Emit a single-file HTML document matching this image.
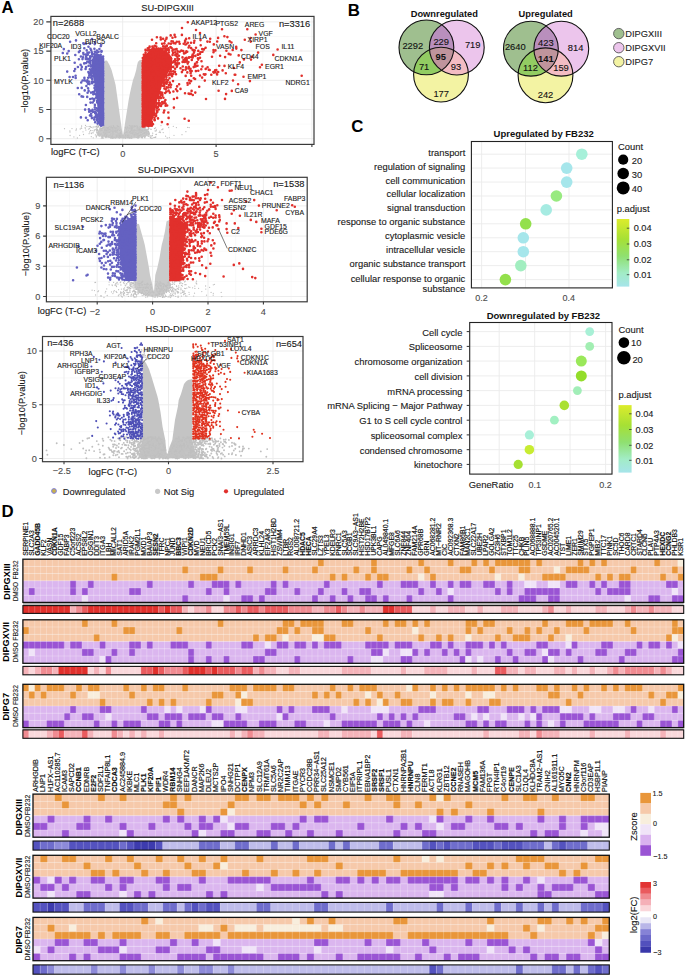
<!DOCTYPE html><html><head><meta charset="utf-8"><style>html,body{margin:0;padding:0;background:#fff;overflow:hidden}svg{display:block;font-family:"Liberation Sans",sans-serif}</style></head><body>
<svg width="685" height="975" viewBox="0 0 685 975" font-family="Liberation Sans, sans-serif" fill="#1a1a1a">
<rect width="685" height="975" fill="#fff"/>
<text x="1.6" y="13.1" font-size="16.8" font-weight="bold" fill="#000">A</text>
<path d="M76 16.4V144.4M169.4 16.4V144.4M262.8 16.4V144.4M50.9 124.1H314M50.9 94.9H314M50.9 65.7H314M50.9 36.5H314" stroke="#f2f2f2" stroke-width="0.5" fill="none"/>
<path d="M122.7 16.4V144.4M216.1 16.4V144.4M311.9 16.4V144.4M50.9 138.7H314M50.9 109.5H314M50.9 80.3H314M50.9 51.1H314M50.9 21.9H314" stroke="#ebebeb" stroke-width="0.9" fill="none"/>
<path d="M104.3 61.5L105.5 60.6L106.5 60.6L107.3 61L109.5 65L111.6 70L113.5 77L114.3 80L115.6 85L117 95L118 102L119.1 110L120.5 120L122 130L122.8 134.5L123.2 134.5L124 130L125.5 120L127.1 110L128.5 101L130 93L131.8 85L133 80L134.5 76L136.2 70L137 65.5L137.9 62L139.5 60.3L140.8 60L141.6 60.5L141.6 125L144 127L147.5 130L150 133L149 135.5L143 137.2L134 138.2L123 138.6L112 138.2L103 137.2L97 135.5L96.5 133L99 130L102.5 127L104.3 125Z" fill="#cacaca"/>
<path d="M106.7 127.4h0M70 132h0M120.6 136.1h0M155.9 131h0M142.8 131.3h0M141.3 132.2h0M83 131.8h0M144 132.9h0M101.3 130.4h0M137.8 136.8h0M111.5 136.8h0M98.3 125.6h0M113 132.7h0M116.1 130.6h0M149.5 126.3h0M76 130.2h0M96.8 129.9h0M126.3 131.7h0M176.4 127.6h0M137 125.8h0M98 130.2h0M107.5 128.4h0M133.4 130.1h0M112.3 128.3h0M152.1 135.7h0M137.7 127.2h0M102.4 128.6h0M97.8 130.9h0M142.5 137.1h0M134.2 125.7h0M138.8 129.7h0M138.7 135.5h0M139.3 128.7h0M146.5 132h0M128 137.6h0M139.2 137.6h0M72 128.6h0M129.2 138.2h0M108.8 128h0M148.1 132.1h0M76.5 128.9h0M120.3 137.2h0M140.7 134.5h0M108.8 132.6h0M99 127.2h0M94.9 126.9h0M104.1 135.2h0M131 127.8h0M64.5 128.7h0M163.2 132.6h0M127.5 137.5h0M117.8 129.9h0M97.3 127.6h0M100.9 128.6h0M125.4 127.5h0M137.5 128.6h0M104.7 130.1h0M114.7 131.6h0M89.7 132h0M98.5 126.6h0M131.6 136.2h0M156.2 134.4h0M129.5 125.5h0M96.8 126.5h0M128.1 134.3h0M147.1 133.7h0M104 132.8h0M133.3 131.4h0M125.3 136h0M185.9 131.7h0M103.7 127.3h0M105.6 136.3h0M165.6 136.2h0M102 130.3h0M132.5 127.9h0M137.8 134.7h0M150.9 129.2h0M109.4 129.3h0M103.5 132.6h0M85.1 127.6h0M81.3 128h0M109.2 126.7h0M134.3 130.3h0M96.3 130.6h0M96.3 126.9h0M134.1 134.2h0M125.1 132.6h0M151.1 129.4h0M142.4 130.5h0M144.9 125.6h0M125.6 137.8h0M104.4 125.8h0M155.1 130.9h0M154.1 137.3h0M102.7 137.7h0M153.8 137.6h0M116.3 128.2h0M81.6 126.2h0M116.3 137h0M107.4 127.9h0M114.2 130.3h0M110.5 137.7h0M174 135.3h0M108.8 129h0M105.7 129h0M127.6 137.7h0M115.3 128.7h0M130.1 137.4h0M106.1 130.1h0M96.1 126.3h0M138.3 129.7h0M159.9 131.2h0M119.5 133.4h0M140.2 130.3h0M89.5 128.7h0M107 130.6h0M132 128.5h0M152.2 138.2h0M127.5 136h0M142.5 137.4h0M169.3 137.6h0M144.3 133.4h0M112.9 127.3h0M155.6 127.9h0M137.9 133.7h0M105.1 132.8h0M119.5 136.6h0M112.2 128h0M120.5 136h0M113.2 132h0M117.8 136.3h0M133.5 130.4h0M144.7 132.5h0M104.3 130.9h0M120.8 133.9h0M129.6 128.5h0M127.3 126.9h0M132.4 126h0M132.6 126.2h0M114.1 137.7h0M129.9 137.7h0M131.8 129.6h0M155.8 137h0M138.6 132.9h0M116.4 135.7h0M142.9 134h0M147 131h0M152.1 125.8h0M111 126.9h0M139.6 130h0M123.2 137.5h0M96.3 137.1h0M135.4 130.7h0M70.1 135.5h0M138 137.5h0M150.5 135.9h0M104.7 129.3h0M126.2 135h0M93.2 126.8h0M98.7 132.6h0M150.6 137.9h0M107.3 128.6h0M91.3 133.5h0M187.7 127.4h0M81.6 125.9h0M112.2 136h0M90.4 126.9h0M147.3 125.9h0M122.2 135.4h0M159.2 132.4h0M85.5 125.5h0M167.2 138h0M129.7 131.8h0M101.2 128.2h0M130.8 126.9h0M117.4 130.6h0M73.9 136.9h0M131.2 130.4h0M110.1 129.7h0M141.9 127.1h0M107.1 132.2h0M107.3 127.9h0M89.1 133.7h0M90.5 130.5h0M117.1 135.6h0M131.1 133.6h0M141.2 135.1h0M105.2 133.5h0M119.9 135.5h0M148.9 128.7h0M124.8 133.5h0M155.2 137.4h0M152.3 135.5h0M129.6 138h0M137 127.6h0M141.3 132.4h0M132.7 133.7h0M134 130.8h0M111.1 126.2h0M117.2 125.7h0M120 134.4h0M93.2 137.8h0M126.6 129.3h0M97 131h0M95.8 129.4h0M121.1 133.7h0M112 137.4h0M149.4 125.7h0M135.2 135h0M129.8 131.9h0M126.6 132.7h0M112.5 131.6h0M120.3 132.6h0M102.4 136.1h0M131.5 129h0M107.7 129.6h0M142.9 133.6h0M137.3 126.1h0M125.2 135.3h0M97.6 129.4h0M105.9 131h0M141.4 137.3h0M118.9 126.8h0M91.3 127.4h0M95.4 134.9h0M148.7 134.6h0M161 125.6h0M151.8 136h0M104.9 134.8h0M112.7 132.9h0M112.1 133.8h0M119.7 130.4h0M145 129.5h0M101.1 125.5h0M120.3 133h0M126.2 128.1h0M143.3 127.9h0M139.9 130.7h0M113.6 126.9h0M109.6 132.1h0M129.1 132.8h0M97.1 126h0M86.9 126.6h0M138.9 136.6h0M144.5 130.6h0M116.3 131.2h0M151.2 138.1h0M97.5 127.1h0M85.3 128.6h0M148.7 131.3h0M81.7 128.3h0M160.5 132.6h0M108.2 127.6h0M105.9 137.1h0M101.5 128.8h0M112.3 138.2h0M102.5 138h0M92.1 132.8h0M89.1 126.5h0M146 131.8h0M108.3 136.3h0M130 125.7h0M127.8 136.7h0M133.2 127h0M130.3 132.1h0M136.2 125.8h0M92.9 127.8h0M96.6 136h0M134.2 134.5h0M182 134.7h0M100.6 127.1h0M115.6 130.9h0M134.5 130.6h0M108.2 131.1h0M120.3 133.6h0M135.3 126.4h0M131.7 125.8h0M98.7 134.2h0M136.8 137.3h0M96.6 132.2h0M126.4 132.3h0M118.1 129.2h0M137.6 133.3h0M104.8 128.6h0M132.7 130.4h0M101.3 138.1h0M168.6 127.5h0M115.5 131.1h0M110.6 134.1h0M127.6 135.5h0M130.7 137.8h0M119.7 135.5h0M145.8 130.4h0M125.2 134.8h0M115.9 132.6h0M106.4 135.6h0M130.9 131.2h0M104 127.4h0M106.7 136.3h0M140 131.9h0M133.4 132.1h0M115.8 130.1h0M110.5 137.6h0M134.5 126.8h0M117.3 132.7h0M109.4 132.3h0M131.7 127.9h0M149 133.2h0M118.8 135.6h0M98.7 133.8h0M134.1 136h0M173.3 126.3h0M110.8 127.7h0M110.1 131.3h0M128.8 135.6h0M85.9 130.1h0M117.6 126.3h0M88.4 129.1h0M83.5 134.5h0M99.2 136.2h0M123.2 136.2h0M114 137.8h0M112.8 128.7h0M91.3 136.7h0M132.8 132.4h0M140.3 129.5h0M106.3 134h0M139.6 130.1h0M103 126.3h0M80.2 129h0M118.9 133.9h0M96.3 136.3h0M148.8 127.8h0M156.4 130h0M116.3 135.1h0M120.5 137.4h0M121.1 132.1h0M79.6 135.3h0M137.4 137.9h0M137.1 128.7h0M111.4 130.8h0M104.9 127.2h0M154.5 128.5h0M133.1 131.2h0M110.5 129.3h0M125.6 135.3h0M90.5 126.3h0M112.1 127.7h0M139.8 126.9h0M96.7 128.6h0M102.9 127.9h0M107.1 127.9h0M106.2 130.2h0M113 136.1h0M123.2 137.9h0M101.1 134h0M120.1 129.8h0M139.7 130h0M146.1 129.3h0M113.3 132.9h0M135.1 132.7h0M137.6 126.9h0M93.3 132.8h0M132.8 133h0M118.3 126.4h0M116.1 127.7h0M139.7 135.4h0M113.4 125.7h0M120.8 136.9h0M109.1 135.3h0M137.7 135.8h0M142.2 127h0M138.5 129.2h0M114.6 127.3h0M136.3 134.3h0M127.7 127.5h0M116.3 136.7h0M141.6 130.5h0M99.6 129h0M98.2 132.8h0M139.4 135.4h0M112.1 129.1h0M104 135.3h0M132.2 133.6h0M138 130.7h0M108.5 129.6h0M128.4 130.2h0M94.4 130h0M104.6 134.8h0M142.5 126.5h0M142.1 138.1h0M100.1 128.8h0M92.1 130.6h0M145.2 136.6h0M150.3 137.3h0M107.1 135.1h0M117.9 134.2h0M69.9 130.8h0M148.4 129.8h0M144.5 128.8h0M161.9 129.7h0M136.3 133h0M152.7 133.2h0M152.4 135.4h0M189.2 127.6h0M130.9 133.6h0M118.6 137.3h0M148.5 128.4h0M98.2 131.1h0M103.2 138.2h0M140.6 127.5h0M129 136.9h0M141.9 136.8h0M77.4 138h0M94 131h0M131.1 126.9h0M130.5 137.3h0M162.9 129h0M98.5 126.4h0M132.2 130.7h0" stroke="#c0c0c0" stroke-width="1.3" stroke-linecap="round"/>
<path d="M115.4 127.6h0M135.7 133.4h0M138.3 138.1h0M140.2 131.8h0M119.3 138h0M117 131.9h0M116.4 130.1h0M112.7 134.5h0M112.1 138h0M142.2 136.7h0M131.5 138.2h0M134.1 135.5h0M139.9 131.8h0M132.9 134.8h0M134 133.4h0M132.9 130.4h0M123.1 135.3h0M126.9 136.3h0M102.1 136.4h0M134.8 136.4h0M148.2 136.3h0M100.8 130.2h0M115 136.2h0M123.5 136.1h0M100.5 134.8h0M126.4 130.1h0M113.8 131.6h0M104.1 133.7h0M102.5 135.3h0M112.7 130.1h0M104.1 132.1h0M133.3 131.5h0M121 131.5h0M110.7 131.9h0M146.8 131.3h0M130.5 137.5h0M136.6 131.1h0M142.9 131.6h0M124.8 137.2h0M122.4 136.6h0M123.2 137.1h0M136.9 135.5h0M143.8 135.8h0M105.4 128.3h0M129.5 128.1h0M139.8 132.7h0M138.4 132h0M100.2 131.1h0M108.4 130.9h0M119.4 128.1h0M108 129.7h0M127.6 131.5h0M128.9 128.1h0M127.3 131.9h0M112.6 130.5h0M110.4 135.2h0M131.4 132.4h0M121.1 137h0M120.4 134.4h0M102.6 137.5h0M146 132.9h0M137.2 130.7h0M104.5 128.6h0M144.9 137.8h0M136.1 130.3h0M138 129.2h0M138.7 128h0M110.6 130h0M112.3 133.6h0M117.4 127.9h0M134.9 129.9h0M120.1 134.8h0M110.4 131.3h0M124.8 137.5h0M123.9 136.8h0M127.9 128.5h0M109 137.1h0M105.9 137.5h0M131.9 137.9h0M156.1 134.6h0M113.3 132.4h0M142 129.4h0M110.9 128.2h0M131.7 132.5h0M125.9 128.6h0M99.2 133.7h0M116.2 134.7h0M101.9 137.7h0M100.4 128.5h0M98.2 132.9h0M98.2 132.6h0M127.5 133h0M103.8 131.9h0M125.1 137.1h0M129.9 134.9h0M142.5 129.2h0M110.4 137.1h0M130.5 130h0M144.9 135.2h0M107.2 134h0M122.3 137.4h0M137.5 129.1h0M99.8 129.6h0M113.2 138h0M145.4 132.7h0M144.5 137.3h0M134.5 129.6h0M149.2 136h0M140.2 131.3h0M146.2 133.9h0M110.9 137.9h0M145.1 130.2h0M106.2 129.6h0M106.6 132.8h0M138 135.2h0M144.9 136.1h0M113.8 133.9h0M145.5 127.5h0M119.3 134h0M113.5 129.8h0M149.1 134.2h0M120.9 134.6h0M98.4 134.9h0M147.6 129.5h0M117.6 132.9h0M125.5 138.2h0M148.1 129.3h0M121.8 136.2h0M114.7 128.6h0M134.2 131.6h0M137.4 137.3h0M115.5 138h0M121.3 135.6h0M141 135.6h0M112.8 129h0M130.4 128h0M142.3 134.4h0M143.4 130.6h0M119.4 138.1h0M146.3 134.8h0" stroke="#c4c4c4" stroke-width="1.5" stroke-linecap="round"/>
<path d="M104.3 125.8L104.3 58L101 55L97 53L94 54L92 60L91.5 70L94 81L96 92L97 103L98 114L99 125.8Z" fill="#6461c1"/>
<path d="M94.8 51.8h0M96.8 52.5h0M98.6 51.7h0M101.4 51.7h0M92.1 54h0M94.4 54.1h0M100.7 54.7h0M90.2 56.2h0M92.2 56.2h0M95.2 56h0M97.2 56.2h0M99 56.6h0M100.5 56.6h0M103.1 56.5h0M90.1 58.2h0M94.3 58.6h0M97 57.8h0M98.9 58.2h0M102.7 57.9h0M90.7 60.7h0M92.9 60h0M94.8 61.1h0M96.9 60.8h0M99.3 60.8h0M100.8 60.9h0M102.6 60.9h0M90.4 62.8h0M94.4 62.1h0M96.7 63h0M98.9 62.5h0M100.6 63h0M103.1 62.2h0M90.7 64.7h0M97.1 64.9h0M101.1 64.9h0M102.7 64.2h0M90.8 66.5h0M92.2 66.3h0M95.2 67.2h0M96.9 66.3h0M98.6 66.2h0M100.5 66.5h0M102.9 66.9h0M89.8 69.3h0M92.2 69.1h0M94.4 69h0M97.1 68.6h0M99.2 68.9h0M101.2 68.3h0M102.9 68.4h0M90.7 71.1h0M92.5 71.1h0M95 71.6h0M97.3 70.8h0M100.9 70.6h0M103.1 71.3h0M90.2 72.7h0M92.2 72.7h0M94.6 73h0M96.9 72.7h0M98.9 73.3h0M103.1 73.6h0M90.7 74.7h0M91.9 75.6h0M94.8 74.9h0M96.3 75.4h0M100.4 74.8h0M103.1 75.6h0M92 76.8h0M94.9 77.3h0M100.9 77.7h0M102.5 77.4h0M92.2 79.1h0M95.1 79.7h0M101.2 79.3h0M103.1 79h0M92.2 81.6h0M94 81.9h0M96.7 81h0M100.4 81.3h0M103.1 81.5h0M92.1 83.3h0M96.2 83.7h0M98.4 83.5h0M101.1 83.8h0M102.5 83.9h0M94.6 85.6h0M97 85.4h0M99 85.7h0M101.4 85.8h0M102.7 86.3h0M94.5 88.1h0M96.9 88.1h0M98.3 88.4h0M100.3 87.3h0M103.1 87.5h0M95.1 90.1h0M98.4 89.3h0M100.4 90.5h0M102.6 90.3h0M94.6 91.5h0M97.2 92.5h0M99.2 92.1h0M100.9 92.1h0M103.1 91.5h0M94.7 93.8h0M96.1 94.4h0M99.2 94.5h0M100.4 94.3h0M102.9 93.6h0M96.5 95.7h0M99.2 96.6h0M100.7 96h0M102.6 96.3h0M96.1 97.8h0M99 98.4h0M100.8 98.2h0M103.1 98.8h0M97.1 100.9h0M99.1 99.8h0M101.3 100.3h0M97.2 102.4h0M98.5 102.3h0M100.7 102h0M103.1 102.7h0M99.2 105.2h0M100.6 104.3h0M102.4 104.3h0M101.2 107h0M96.7 108.3h0M98.6 109h0M100.9 109.4h0M103 109h0M97.2 110.8h0M101.5 110.4h0M102.7 111.4h0M96.4 113.3h0M100.8 113.2h0M103.1 113.3h0M96.4 114.5h0M98.5 114.8h0M103.1 115.3h0M96.9 117h0M98.3 116.6h0M100.5 116.7h0M103.1 117.4h0M97 118.9h0M98.6 119.2h0M100.8 119.6h0M103.1 119.1h0M98.2 121.8h0M101.3 121.8h0M102.7 120.8h0M99.3 123.1h0M101 123.7h0M102.6 123h0M101.1 125.7h0M102.5 125h0" stroke="#6461c1" stroke-width="2.6" stroke-linecap="round"/>
<path d="M91.2 50.3h0M86.7 50.2h0M79.8 50.9h0M91.9 52.3h0M89.1 52.5h0M87.5 52.6h0M83.3 53h0M78.9 52.1h0M87.8 54.7h0M85.8 54.6h0M83.5 54.5h0M75.3 55h0M90.3 57.4h0M86.2 56.8h0M83.1 57.2h0M80.9 56.5h0M89.4 58.7h0M87.5 58.7h0M85.8 58.9h0M82.5 59.1h0M78.9 59.2h0M89.2 61.2h0M87.3 61.5h0M89.3 62.6h0M86.2 63h0M84.2 63.4h0M74.7 62.8h0M88.6 65.7h0M80.6 64.8h0M86.1 67.1h0M81.8 66.9h0M77.9 67h0M85.6 68.9h0M81.3 69.4h0M75.1 69h0M88.4 72h0M74.3 71h0M88.9 73.3h0M89.3 75.4h0M75.6 75.8h0M90.7 77.5h0M88.2 77.8h0M84.4 77.9h0M75.7 78h0M87.4 80.2h0M84.7 80.4h0M82.6 80.5h0M91.8 82.3h0M89.1 81.7h0M86.8 81.6h0M81.2 82.5h0M89.5 84.1h0M88 83.7h0M86.4 86h0M88.1 88.3h0M81.7 87.9h0M77.8 88h0M88.6 90.9h0M84.7 90.4h0M93.1 92h0M91 92.6h0M87.6 92.8h0M93.3 94.2h0M79.2 94.2h0M87.2 96.9h0M83.1 96.8h0M81.6 96.4h0M94.3 99.1h0M92.4 98.5h0M90.2 99h0M94 100.6h0M92.7 102.5h0M90.5 102.6h0M94.9 104.9h0M85.9 105h0M94.8 107.2h0M95.2 109.5h0M92.6 109.9h0M88.9 109.4h0M85.1 109.6h0M95 112h0M93.1 111.7h0M90.8 110.9h0M89.2 111.8h0M95.2 113.2h0M91.2 113.8h0M95.9 115.9h0M91.4 116.1h0M90 115.4h0M96.6 117.5h0M94.4 117.5h0M91.9 118.1h0M86 117.8h0M96.8 120.2h0M94.2 119.6h0M87.7 120.3h0M95.1 122.3h0M97.6 123.6h0" stroke="#6461c1" stroke-width="2.6" stroke-linecap="round"/>
<path d="M95.1 42.2h0M84 43.9h0M86.1 43.6h0M90 43.7h0M94.7 44.1h0M101.2 44.7h0M88.5 46.7h0M100.8 46.1h0M84.3 48.3h0M90.5 48.8h0M94.4 48.7h0M99.4 49h0M96.9 50.5h0M101.5 51.1h0" stroke="#6461c1" stroke-width="2.6" stroke-linecap="round"/>
<path d="M63.8 49.1h0M62.8 53h0M67.2 53.5h0M68.7 51.1h0M70.1 41.8h0M76 40.4h0M67.2 71.6h0M69.6 77h0M73 77h0M80.9 117.4h0M83.3 43.3h0M92 39h0" stroke="#6461c1" stroke-width="2.6" stroke-linecap="round"/>
<path d="M141.6 126.4L141.6 62L145 55L150 50L158 48L166 51L172 57L172 66L164 80L160 92L156 103L154 114L151 126.4Z" fill="#e1302c"/>
<path d="M149.6 46.6h0M152.4 46.5h0M154.7 45.7h0M156.3 46.6h0M163.1 46.2h0M164.9 46.5h0M166.9 45.8h0M147.8 48.2h0M149.5 47.6h0M152.4 48.5h0M153.9 48.2h0M156.4 48.7h0M158.5 48.5h0M160.8 48.5h0M163 48.7h0M165.2 48.1h0M166.3 48.6h0M168.5 48.2h0M171.6 48h0M145.5 49.9h0M147.8 50.4h0M149.6 50h0M151.7 50.1h0M153.8 50.3h0M156.9 50.3h0M160.1 50.4h0M162.2 49.8h0M165.3 50.2h0M166.7 50.1h0M168.8 49.9h0M172.5 50.7h0M145.6 52.6h0M149.9 52.2h0M152.3 52.7h0M156.1 52.8h0M158.5 52.6h0M161 52.5h0M162.2 51.9h0M166.2 52.2h0M168.9 52.2h0M173.1 52.9h0M175.2 52.2h0M143.8 54.8h0M145.6 54.4h0M148.4 54.5h0M149.8 54.9h0M152.3 53.9h0M153.7 54.9h0M156 54h0M158.7 54.8h0M165.2 54h0M168.5 54.8h0M172.6 54.9h0M175.3 55.1h0M176.8 54h0M143.9 56.8h0M145.4 56.2h0M148.1 57.2h0M150.6 56.5h0M151.8 56.3h0M158 56.2h0M160.3 56.9h0M162.6 56.8h0M164.6 56.9h0M166.7 57.1h0M168.7 56.5h0M176.9 56.2h0M142.8 58.1h0M144 58.7h0M146.2 58.6h0M148 59h0M150.6 59.2h0M154 58.6h0M156.8 59.1h0M158.8 59.3h0M160.3 59h0M162.7 58.3h0M166.5 59.2h0M169.4 59h0M171.3 58.8h0M175.1 59.2h0M177.6 58.2h0M178.9 59.1h0M142.8 60.5h0M143.9 60.3h0M146.1 60.5h0M147.6 60.6h0M156.4 61.2h0M158.3 61.2h0M161 60.8h0M162.9 60.4h0M164.2 61.4h0M167.1 60.4h0M168.8 60.5h0M170.4 60.8h0M173.5 61.3h0M175.2 60.8h0M177.6 60.6h0M142.8 63.3h0M143.3 62.9h0M145.4 63.4h0M148.2 62.6h0M152.6 63h0M156.5 62.9h0M160 63.4h0M162.8 63.2h0M164.7 63.3h0M171.2 63h0M172.7 62.5h0M175.2 62.6h0M177.4 63.2h0M179 63.4h0M142.8 65.6h0M143.8 65.6h0M145.9 64.8h0M147.5 64.5h0M150.2 65.1h0M154 65.5h0M156.4 65.4h0M158.2 65.1h0M161.1 64.7h0M164.1 65.1h0M166.8 64.5h0M169.1 65.2h0M175.5 64.4h0M177.2 65.6h0M142.8 66.5h0M144.2 67.2h0M145.2 66.7h0M148.3 66.6h0M152.6 67.1h0M154.8 67h0M155.8 67.5h0M160.8 66.8h0M162.4 67.3h0M171.2 66.7h0M173.2 66.9h0M176.9 66.7h0M142.8 69.6h0M143.7 69.3h0M145.7 69.3h0M147.4 69.1h0M150.3 68.9h0M151.8 68.7h0M154.1 69h0M156 69.4h0M158.3 69.2h0M162.2 68.7h0M164.5 68.7h0M166.7 69h0M169.4 68.9h0M170.8 69h0M175.1 68.8h0M142.8 71.7h0M143.3 71.5h0M145.8 71.1h0M148.2 71.6h0M149.6 71.5h0M152.3 70.8h0M156 71.2h0M157.9 71.5h0M162.3 71.5h0M164.6 71.5h0M166.4 70.8h0M169.5 71.8h0M171 71.3h0M173.3 71.3h0M175 71.8h0M142.8 73h0M143.3 73.6h0M145.9 74h0M148.2 73.8h0M149.8 72.9h0M152.4 73.2h0M154 73.7h0M156.9 73.3h0M157.9 73.7h0M162.2 73.8h0M164.2 73.3h0M166.2 72.9h0M169.3 74h0M171.5 73.7h0M142.8 75.7h0M145.4 75.5h0M147.7 75.3h0M150.1 75.2h0M152.1 75.5h0M154.4 75.1h0M156 75.8h0M158.7 75.5h0M161 75.5h0M162.3 75.4h0M165.1 75.5h0M166.5 75.4h0M168.7 75.3h0M171.3 75.1h0M142.8 77.8h0M143.9 77.8h0M145.3 77.4h0M148.5 77.6h0M150.6 78h0M151.9 77.1h0M154.5 77.6h0M156 77.6h0M158.9 78h0M162.5 77.4h0M166.4 77.3h0M144.1 80.2h0M145.4 80h0M147.4 80.2h0M149.9 79.8h0M151.5 79.6h0M153.6 79.5h0M156.1 79.9h0M158 79.1h0M160.6 79.5h0M163 80.2h0M164.8 79.8h0M166.2 79.5h0M142.8 81.8h0M143.4 81.6h0M145.6 82.3h0M148.5 81.5h0M152.2 81.7h0M154.6 82.2h0M156.6 81.8h0M160.4 81.5h0M162.9 82.2h0M164.6 82.2h0M166.5 82.1h0M142.8 83.4h0M143.4 83.3h0M145.3 83.7h0M147.9 83.6h0M150 84.5h0M152.1 83.9h0M154.6 83.6h0M158.2 84h0M160.2 83.4h0M164.2 84.1h0M166.6 83.7h0M142.8 85.9h0M145.7 85.6h0M148.1 85.9h0M149.7 86.3h0M152.5 85.8h0M153.6 85.7h0M158.6 86h0M160.1 85.6h0M162.8 85.7h0M164.3 86.1h0M142.8 87.9h0M143.3 88.1h0M145.4 87.9h0M148 88.2h0M150.1 87.8h0M152.5 88.2h0M154 88h0M158.6 87.6h0M159.9 88.6h0M164.4 88.5h0M142.8 90.2h0M144.2 90.1h0M146 90.2h0M150.5 90h0M151.9 89.7h0M154.3 89.7h0M156.1 89.9h0M144.1 92h0M148.2 92h0M150.5 92.4h0M152.5 91.9h0M154.2 92.6h0M155.9 92.8h0M158.7 92.7h0M160.7 92.2h0M162.3 92.8h0M142.8 94.4h0M144 94.7h0M147.6 94.2h0M150.2 94.3h0M151.7 94.9h0M154.2 94.7h0M156.6 94.2h0M157.9 94.1h0M160.5 94.3h0M162.3 94.3h0M142.8 96.2h0M143.8 96.6h0M145.4 96.8h0M148.3 96.8h0M150.4 96.4h0M152.6 96.1h0M154.1 96.5h0M156 96.9h0M158 96.1h0M160.1 96.5h0M142.8 98.6h0M143.1 99.1h0M145.2 98.9h0M147.9 98.3h0M149.8 98.9h0M152.2 98.8h0M154.2 98.1h0M156.5 98.2h0M158.7 98.1h0M160.9 98.1h0M142.8 100.4h0M143.7 100.4h0M145.8 100.5h0M148.2 100.2h0M149.4 100.5h0M152.3 101h0M155.7 101h0M158.9 100.6h0M142.8 103.3h0M143.6 102.7h0M146.2 102.8h0M147.8 103.3h0M150.2 102.9h0M152.2 102.5h0M154.6 102.3h0M156.8 103.4h0M158.6 103h0M142.8 104.5h0M144 105.2h0M146 105.1h0M147.3 104.8h0M150.1 104.7h0M152.3 104.6h0M154 105h0M155.8 105.2h0M158.9 104.3h0M142.8 106.6h0M143.7 106.9h0M145.8 106.8h0M149.9 106.7h0M154.4 107.4h0M156.6 106.7h0M157.9 106.9h0M143.6 109.4h0M145.4 109.1h0M148.4 109.6h0M150.1 109h0M152 109.6h0M154.3 109.4h0M156.8 108.6h0M142.8 110.6h0M143.3 111.2h0M145.4 110.9h0M147.4 110.8h0M149.6 111.6h0M151.8 110.9h0M153.7 111.5h0M156.8 111.1h0M142.8 112.8h0M143.9 113.4h0M145.5 113.3h0M147.8 113h0M149.8 113h0M151.6 113.7h0M153.9 112.8h0M156.3 113.6h0M142.8 115.9h0M144.3 115.9h0M150.4 115.5h0M152.7 115.6h0M154.3 114.9h0M142.8 117.6h0M143.7 117.8h0M146 117h0M148.1 117.7h0M149.6 118.1h0M152 117.3h0M154.5 117.7h0M142.8 119.6h0M144.2 120.2h0M146.4 119.6h0M147.6 119.9h0M150.5 120h0M154.5 119.6h0M142.8 122.1h0M144.1 121.9h0M145.4 121.8h0M147.7 121.2h0M150.3 121.4h0M151.9 122.1h0M142.8 123.7h0M143.6 123.7h0M146.2 123.7h0M148.5 123.5h0M149.4 123.3h0M152.2 123.8h0M142.8 126.5h0M144.3 126.4h0M146.2 125.3h0M148.3 126.1h0M150.4 125.5h0M151.8 125.8h0" stroke="#e1302c" stroke-width="2.6" stroke-linecap="round"/>
<path d="M170.5 47.1h0M173 49.5h0M175.1 49.6h0M176.6 49.1h0M202.2 49h0M177.6 51.2h0M179.7 51.8h0M181.4 50.6h0M183.2 51.1h0M198.3 50.9h0M177.4 53.7h0M184 53.5h0M178.9 55.7h0M195.4 55.9h0M198 54.8h0M182.5 57.4h0M188.8 57.8h0M192.7 57.5h0M183.5 60h0M185.7 60h0M186.7 60h0M191.8 59.9h0M182.6 61.9h0M184.8 62h0M188.4 62h0M196.9 62.2h0M201.5 61.2h0M187.7 63.6h0M182.8 66.5h0M180.5 68.2h0M188.8 68.4h0M182.8 70.1h0M174.8 72h0M181.9 72.1h0M187.3 72.4h0M173.2 73.9h0M176 74.2h0M211.3 74.7h0M172.1 76.2h0M191.2 75.8h0M169.5 78.2h0M167.9 80.3h0M173 81.1h0M189.2 80.4h0M167.1 82.3h0M169.8 82.6h0M168.9 85h0M171.1 84.7h0M179.1 84.3h0M166.6 87.4h0M168.2 87.4h0M170.6 87.2h0M177.1 86.4h0M165.7 89.2h0M176 89.3h0M180.5 88.9h0M166.5 91.6h0M168.6 90.6h0M173.4 91.5h0M177.3 91.1h0M165.2 93h0M169.8 92.6h0M162.3 95.6h0M163.4 97.7h0M177.1 97.9h0M165.4 100.1h0M173.9 99h0M162.2 102h0M164.7 101.4h0M159.9 103.3h0M161.6 104.2h0M163.4 103.3h0M165.6 103.6h0M159.1 105.4h0M161 106h0M165.6 105.7h0M167.2 105.5h0M173.9 107.6h0M158.7 109.5h0M164.3 110.5h0M157.4 111.7h0M163.7 112.5h0M168.3 112.5h0M156.1 115.9h0M158 118.4h0M168.6 117.9h0M184.6 118.7h0M154.7 120.2h0M188.8 120.8h0M161.9 122.1h0M153 124.3h0M167.6 124.2h0" stroke="#e1302c" stroke-width="2.6" stroke-linecap="round"/>
<path d="M170.7 35.4h0M174.6 34.9h0M181.9 34.9h0M156.9 37.3h0M160.6 37.5h0M166.6 37.8h0M172.5 37.7h0M175.3 37h0M152 39.8h0M160.8 39.5h0M163.1 38.8h0M166.4 38.8h0M165.1 40.8h0M171.5 41.3h0M173 41.5h0M176.8 41.7h0M179.1 41.8h0M185.1 41.7h0M156.2 43.2h0M162.1 43.7h0M164.4 43.4h0M168.7 43.5h0M170.9 43.7h0M173.5 43.1h0M175.4 43.4h0M179.7 43.7h0M183.7 43.8h0M166.8 45.7h0" stroke="#e1302c" stroke-width="2.6" stroke-linecap="round"/>
<path d="M185.1 40.6h0M186.5 57.8h0M215.6 72.3h0M192.3 55.9h0M243.9 59.4h0M185.5 52.6h0M212 56.7h0M197.9 58.2h0M185.4 44.5h0M206 99h0M194 42.8h0M231.8 90.9h0M191 42.8h0M186.5 68.5h0M192.7 49.9h0M185.2 58.6h0M233.9 68h0M249.9 81.1h0M196.2 65.7h0M191.1 81.1h0M186.7 58.5h0M205.7 68.9h0M195.3 92.6h0M217.2 41.5h0M196 47.8h0M202.5 51.7h0M203.9 49.4h0M195.9 71.1h0M187.5 83.1h0M227.4 37.1h0M190.6 73.2h0M250.5 38h0M200.5 40.1h0M191.7 71.1h0M187.6 84.8h0M190.5 68.7h0M185.4 52.9h0M208.8 69.7h0M186.1 38.9h0M205.6 47.8h0M186.1 52.2h0M209.8 41.8h0M202.4 66.5h0M194 52.6h0M198.2 59.6h0M200 57.8h0M204.8 80.6h0M191.1 48.1h0M210.2 38.7h0M199.9 53.9h0M236.3 48.6h0M233 80.5h0M200.7 45.3h0M188.6 47.5h0M213.4 72.1h0M200 75.5h0M218.6 90.8h0M194.4 40.8h0M194.8 65.4h0M195.1 63.8h0M186 67.4h0M186.4 51.2h0M188.8 66.9h0M200.5 52.3h0M192.8 95h0M186.3 44.3h0M224.4 36.2h0M239.8 62.4h0M213.9 72.6h0M187.2 51.8h0M194.7 50.4h0M193.4 55.8h0M185.5 69.7h0M226.1 94.1h0M185.7 75.9h0M187.8 42.8h0M197 62.2h0M193.7 67.1h0M207.6 67.2h0M203.8 74.3h0M225.8 73.3h0M189.2 57.3h0M232.7 50h0M219.2 65.7h0M189.3 45.7h0M197.5 65.7h0M213.5 52.3h0M188.6 93.6h0M190.1 70.8h0M251.9 56.8h0M190.9 93.7h0M193.8 78.2h0M195.6 66.4h0M195.1 79h0M201.3 69.3h0M197.8 54.6h0M191.4 57.1h0M250.7 41.6h0M215.4 50.4h0M217.1 74.4h0M189.9 94h0M225 98.9h0M215.1 70.2h0M193 50.3h0M198.3 70.7h0M186.6 61.6h0M218.1 37.9h0M185 93.3h0M192.7 54.5h0M225.1 57.1h0" stroke="#e1302c" stroke-width="2.6" stroke-linecap="round"/>
<path d="M187.8 22.2h0M222 29.2h0M247.3 29.2h0M255.6 34.5h0M244.8 39.7h0M189.2 38.3h0M258.1 52.6h0M277.6 49.5h0M236.2 46.9h0M238.7 55.4h0M251 59.6h0M273.3 54.9h0M224.5 65.9h0M261.9 64.7h0M260 67.2h0M243.5 76.7h0M235.3 74.8h0M301.7 75.7h0M238.1 84.3h0M213.8 44.4h0M229.6 41.2h0M231.5 42.5h0M241.4 50.1h0M220.1 55.8h0M228.7 53.9h0M230.5 54.5h0M226.4 50.7h0M213.5 50.1h0M216.3 70h0M222.6 70.4h0M218.2 72h0M234.7 74.8h0M205.5 74.2h0M209.7 70h0M199.2 86.7h0M189.7 83.3h0M191.6 90.9h0M202.1 77.6h0M204.9 74.8h0M207.4 41.6h0M200 33h0M196 30h0M182 28h0" stroke="#e1302c" stroke-width="2.6" stroke-linecap="round"/>
<text x="191.1" y="24.5" font-size="6.9" stroke="#1a1a1a" stroke-width="0.12">AKAP12</text>
<text x="215.4" y="26" font-size="6.9" stroke="#1a1a1a" stroke-width="0.12">PTGS2</text>
<text x="244.8" y="26.6" font-size="6.9" stroke="#1a1a1a" stroke-width="0.12">AREG</text>
<text x="258.6" y="35.9" font-size="6.9" stroke="#1a1a1a" stroke-width="0.12">VGF</text>
<text x="247.6" y="41.6" font-size="6.9" stroke="#1a1a1a" stroke-width="0.12">XIRP1</text>
<text x="192.6" y="39.3" font-size="6.9" stroke="#1a1a1a" stroke-width="0.12">IL1A</text>
<text x="255.6" y="48.6" font-size="6.9" stroke="#1a1a1a" stroke-width="0.12">FOS</text>
<text x="281.4" y="48.6" font-size="6.9" stroke="#1a1a1a" stroke-width="0.12">IL11</text>
<text x="215.9" y="49.2" font-size="6.9" stroke="#1a1a1a" stroke-width="0.12">VASN</text>
<text x="241" y="58.7" font-size="6.9" stroke="#1a1a1a" stroke-width="0.12">CD44</text>
<text x="274.6" y="60.5" font-size="6.9" stroke="#1a1a1a" stroke-width="0.12">CDKN1A</text>
<text x="227.7" y="68.5" font-size="6.9" stroke="#1a1a1a" stroke-width="0.12">KLF4</text>
<text x="265.1" y="68.7" font-size="6.9" stroke="#1a1a1a" stroke-width="0.12">EGR1</text>
<text x="247.6" y="79.1" font-size="6.9" stroke="#1a1a1a" stroke-width="0.12">EMP1</text>
<text x="212" y="84.8" font-size="6.9" stroke="#1a1a1a" stroke-width="0.12">KLF2</text>
<text x="285.6" y="84.8" font-size="6.9" stroke="#1a1a1a" stroke-width="0.12">NDRG1</text>
<text x="234.7" y="92.8" font-size="6.9" stroke="#1a1a1a" stroke-width="0.12">CA9</text>
<text x="47.1" y="39" font-size="6.9" stroke="#1a1a1a" stroke-width="0.12">CDC20</text>
<text x="75.2" y="35.5" font-size="6.9" stroke="#1a1a1a" stroke-width="0.12">VGLL2</text>
<text x="96.3" y="39" font-size="6.9" stroke="#1a1a1a" stroke-width="0.12">BAALC</text>
<text x="84.9" y="44.2" font-size="6.9" stroke="#1a1a1a" stroke-width="0.12">BIRC5</text>
<text x="39.2" y="48.4" font-size="6.9" stroke="#1a1a1a" stroke-width="0.12">KIF20A</text>
<text x="70.7" y="49.2" font-size="6.9" stroke="#1a1a1a" stroke-width="0.12">ID3</text>
<text x="54.1" y="61.3" font-size="6.9" stroke="#1a1a1a" stroke-width="0.12">PLK1</text>
<text x="54.1" y="84.4" font-size="6.9" stroke="#1a1a1a" stroke-width="0.12">MYLK</text>
<rect x="50.9" y="16.4" width="263.1" height="128" fill="none" stroke="#3a3a3a" stroke-width="1.2"/>
<path d="M122.7 144.4v2.6M216.1 144.4v2.6M311.9 144.4v2.6M50.9 138.7h-4.6M50.9 109.5h-4.6M50.9 80.3h-4.6M50.9 51.1h-4.6M50.9 21.9h-4.6" stroke="#3a3a3a" stroke-width="1.1"/>
<text x="122.7" y="157.1" font-size="9.2" text-anchor="middle" fill="#4d4d4d" stroke="#4d4d4d" stroke-width="0.12">0</text>
<text x="216.1" y="157.1" font-size="9.2" text-anchor="middle" fill="#4d4d4d" stroke="#4d4d4d" stroke-width="0.12">5</text>
<text x="43.6" y="141.9" font-size="9.2" text-anchor="end" fill="#4d4d4d" stroke="#4d4d4d" stroke-width="0.12">0</text>
<text x="43.6" y="112.7" font-size="9.2" text-anchor="end" fill="#4d4d4d" stroke="#4d4d4d" stroke-width="0.12">5</text>
<text x="43.6" y="83.5" font-size="9.2" text-anchor="end" fill="#4d4d4d" stroke="#4d4d4d" stroke-width="0.12">10</text>
<text x="43.6" y="54.3" font-size="9.2" text-anchor="end" fill="#4d4d4d" stroke="#4d4d4d" stroke-width="0.12">15</text>
<text x="43.6" y="25.1" font-size="9.2" text-anchor="end" fill="#4d4d4d" stroke="#4d4d4d" stroke-width="0.12">20</text>
<text x="167.6" y="10.8" font-size="9.3" text-anchor="middle" stroke="#1a1a1a" stroke-width="0.12">SU-DIPGXIII</text>
<text x="52.8" y="26" font-size="9.3" stroke="#1a1a1a" stroke-width="0.12">n=2688</text>
<text x="310.2" y="27.3" font-size="9.3" text-anchor="end" stroke="#1a1a1a" stroke-width="0.12">n=3316</text>
<text x="28.1" y="80.9" font-size="9.3" text-anchor="middle" stroke="#1a1a1a" stroke-width="0.12" transform="rotate(-90 28.1 80.9)">−log10(P.value)</text>
<text x="51" y="155.2" font-size="9.3" stroke="#1a1a1a" stroke-width="0.12">logFC (T-C)</text>
<path d="M69.5 177.3V301.8M124.9 177.3V301.8M180.3 177.3V301.8M235.7 177.3V301.8M291.1 177.3V301.8M46.4 281.4H307.2M46.4 251.2H307.2M46.4 221H307.2M46.4 190.8H307.2" stroke="#f2f2f2" stroke-width="0.5" fill="none"/>
<path d="M97.2 177.3V301.8M152.6 177.3V301.8M208 177.3V301.8M263.4 177.3V301.8M46.4 296.5H307.2M46.4 266.3H307.2M46.4 236.1H307.2M46.4 205.9H307.2" stroke="#ebebeb" stroke-width="0.9" fill="none"/>
<path d="M136.5 224.5L137.5 223.7L139 224L141.5 233L143.5 240L144.8 245L147.2 258L149 268L150 275L152 283L153.5 290.5L154.1 290.5L154.6 284L155.3 275L157.3 268L159.5 258L161.7 245L163.3 239L165 231L166.5 221.5L168 220.5L169.3 220.3L169.3 281.3L171.2 284L170.5 288L166.5 292L160.5 295.5L152.6 297L145 295.5L139 292L135 288L134 284L136.5 281Z" fill="#cacaca"/>
<path d="M159.8 292.9h0M183.9 292.5h0M133.5 295.6h0M148.3 284.3h0M189 292.3h0M94.5 290.6h0M157.5 285.8h0M158.1 288.5h0M139.6 283.3h0M147.8 283.6h0M122.3 297h0M126.9 294.7h0M163 296.9h0M181.5 285.3h0M131.3 284.1h0M147.1 284.8h0M145.3 288.3h0M130 289.9h0M133.9 291.4h0M166.5 292.5h0M153.8 292.6h0M105.2 292.8h0M147.5 293.7h0M158.4 293.2h0M167.6 287.9h0M121.2 293.8h0M159.7 285h0M164 293.2h0M143.2 293.6h0M138.4 290.7h0M171.5 291.7h0M163.1 296.2h0M139.9 292.4h0M121.4 289.1h0M120.5 293.1h0M171.8 287.7h0M123.5 288.9h0M128.4 296.4h0M162.1 283.3h0M213.3 284.8h0M138.6 292.8h0M171.3 287.9h0M138.8 290.3h0M147.3 283.5h0M109.1 284.8h0M164.7 293.8h0M145.8 288.2h0M124 295.4h0M130.7 285h0M161.1 290.1h0M123.5 291.4h0M129.8 291h0M173.6 295.6h0M163.4 288.2h0M153.8 292.8h0M139 281.3h0M162.1 293.8h0M159.4 293.7h0M169.4 292.2h0M214.5 284.3h0M161.6 286.8h0M142.2 295.6h0M182.8 290.4h0M138 282.9h0M134.2 290.1h0M146.4 294.7h0M186.9 296.1h0M193.7 296.1h0M141.6 293.7h0M166.1 286h0M148.3 287.1h0M92.1 290.2h0M152.3 291.2h0M138.4 290h0M149.8 290h0M134 281.1h0M170.1 294.8h0M171.2 296.7h0M165.4 286.6h0M140.7 292.8h0M138.9 287.9h0M160.1 290.1h0M163 294.4h0M158.2 286.8h0M117.2 282.5h0M173.4 288.1h0M181.1 283h0M124.3 293.3h0M131.7 282.4h0M172.4 282h0M144.6 291.1h0M181 288.2h0M160.5 290.7h0M170.2 297.5h0M155.7 297.1h0M163.9 286h0M145 288h0M114.8 285.1h0M152.6 292.1h0M168.7 291h0M184.7 288.4h0M141.8 282.4h0M184.9 293.7h0M209.6 287.4h0M160.8 285.4h0M166.3 296.4h0M145 284.6h0M152.4 295.4h0M157.5 286.3h0M182.6 283.7h0M159.3 283.1h0M135.1 286.9h0M168.7 281.2h0M166.2 289.7h0M147.6 293.7h0M194.5 293.2h0M168.3 282.5h0M134.4 287.2h0M170.8 293.6h0M168.9 290.4h0M142.1 292.6h0M146.6 287.5h0M155.8 295.8h0M169.6 285.1h0M168.1 297h0M136.6 296h0M134.8 291.7h0M141.9 287.3h0M116.8 292.4h0M142.5 284.7h0M152.7 291.6h0M135.2 292h0M143.4 287.3h0M138.1 289.9h0M133.1 287h0M160 289.2h0M145.8 297.2h0M140.4 287.6h0M126.2 290.3h0M184.6 281.9h0M130.9 284.7h0M139.9 290.2h0M201.8 291.6h0M139.7 292.5h0M156.4 288.3h0M175.2 294h0M125.8 285.8h0M179.3 281.5h0M139 291.5h0M95.5 282.4h0M127.2 290.6h0M127.2 289.5h0M167.4 282.8h0M164 284.1h0M163.3 286.8h0M157.6 297.1h0M124.4 292.9h0M130.5 288.4h0M101.4 296h0M142.5 292h0M147.4 290.7h0M165.3 285.4h0M171.1 290.3h0M169.7 287.5h0M186.8 288.1h0M119.1 294.3h0M213.2 295.2h0M128 294.2h0M121.8 292.3h0M138.9 285.2h0M154.2 297.2h0M211.1 292.4h0M158.6 284h0M161.2 295.9h0M134 288.6h0M176.8 289.1h0M192.6 287.8h0M140.9 283.3h0M135.8 289.3h0M136.7 289.3h0M156.7 294.9h0M105.7 291.4h0M112.3 285.6h0M133.7 294.5h0M177.8 293.1h0M163.6 291.2h0M189.2 294.3h0M111.5 291.9h0M155.8 285.5h0M177.6 291.5h0M148.5 294.9h0M144.4 284.2h0M107.2 295.5h0M145.1 287.2h0M145.6 295.4h0M158.1 292.8h0M127.2 287.5h0M178.1 296.2h0M163.7 284.2h0M221.8 296.6h0M112.9 293.6h0M134.6 297h0M167.7 285.5h0M213.3 293.3h0M189.9 287.3h0M97.9 291.7h0M120.8 281.8h0M176.2 291h0M113.6 282.4h0M160 281.6h0M194.8 286.1h0M175.2 281.5h0M196.5 281.2h0M137.9 294.1h0M123.1 292.9h0M145.8 292.9h0M123.7 294.1h0M148.6 292.3h0M178.9 287.6h0M160.8 283.7h0M114.3 290.7h0M206.5 295.2h0M135.3 292.6h0M133.1 283.5h0M185.6 295.9h0M118.6 289.7h0M166.2 286.7h0M172.9 290.1h0M112.1 285h0M150.2 289.6h0M146.2 284.3h0M129.9 285.2h0M135.8 291.3h0M184.6 291.1h0M156.7 294.7h0M168.9 291.4h0M95.6 295h0M125.2 285.1h0M133.2 282.7h0M166.8 289.1h0M116 285.5h0M161.3 285.7h0M186 284.7h0M158.6 287.6h0M138.5 283.7h0M175.5 289.5h0M143.7 294.3h0M170.1 285.5h0M129.6 287.5h0M143.8 295.2h0M142.1 285.2h0M175.2 292.9h0M147.7 287.8h0M115.8 283.7h0M129.5 287.9h0M157.6 281.9h0M205.8 289.1h0M133.4 283.2h0M161.8 288.7h0M163.9 290.5h0M132 287.9h0M198.6 288.3h0M162.5 297.2h0M178.7 285.9h0M175.7 296.3h0M115.8 284.9h0M120.6 291.9h0M124.5 287.9h0M95 282.5h0M180.3 281.8h0M143.1 288.1h0M116.5 286.5h0M172.4 284.3h0M194.9 288.4h0M127.8 282.4h0M184.9 284.7h0M136.3 289h0M172 295.4h0M157.5 296.1h0M182.4 292.4h0M159.3 294.4h0M163.5 295.1h0M185.3 281.1h0M135.1 282.3h0M172.2 288.1h0M135.5 284.8h0M140.3 292.8h0M123.5 282.6h0M141 292.8h0M168.9 283.4h0M156.7 283.8h0M132.1 285.9h0M175 281.8h0M177.3 292.1h0M181.5 296.1h0M142.3 292.3h0M116.7 282.9h0M136.3 294.6h0M121 295.2h0M134.5 281.8h0M109.1 282.1h0M196.7 283.9h0M113.6 291.9h0M147.7 283.5h0M163.7 283.7h0M171 284.3h0M135.1 284.3h0M156.6 284.4h0M133.6 283.9h0M170.9 295.6h0M196.1 283h0M178.1 296.5h0M167.3 287.8h0M124.3 281.1h0M148.4 287.8h0M143.4 289.8h0M128.3 287.9h0M150.4 284.7h0M106.7 288.9h0M151.1 288.6h0M129.6 281.9h0M135.6 282.7h0M162.3 294.2h0M156 281.3h0M166.6 290.6h0M121.7 296.6h0M166.2 291.7h0M176.8 281.3h0M104 297.5h0M175.1 290h0M124.1 283.5h0M141.5 293.5h0M131.1 284.4h0M137.8 287.3h0M151 284.5h0M128.2 282h0M167.1 285.4h0M164.5 289.4h0M139.6 284.1h0M162.4 284.2h0M160.2 296.5h0M135.4 281.6h0M135.1 282.9h0M172.4 286.8h0M174.6 282h0M160 291h0M142.4 289.7h0M174.2 288.9h0M124.4 292.6h0M132.2 282.9h0M185.3 293.7h0M116.1 291.5h0M135.3 291.7h0M162.7 295.7h0M182.4 286.1h0M164.4 284.7h0M118.3 295.8h0M130.5 282.8h0M160.3 286.2h0M148.9 294.5h0M123.4 294.7h0M161.4 294.9h0M100.5 295.9h0M184 294.1h0M126.5 283.6h0M162.2 289.7h0M160.7 282.3h0M179.7 283.5h0M126.7 292.2h0M221.2 292.4h0M141.3 282.2h0M178.1 297.4h0M173.1 283.1h0M151 286.9h0M118 284.1h0M183.6 294.7h0M136 288.7h0M169.2 296.1h0M146.3 290.4h0M172 291.1h0M165.7 296.4h0M172.5 289.6h0M150.2 292.7h0M164.1 293.1h0M170.6 287.3h0M177.8 288.4h0M139.9 285.8h0M160.8 291.5h0M142.8 281.2h0M159.4 291.4h0M178.1 291.8h0M162.4 297.4h0M128.1 287h0M188.7 286.9h0M148.3 288.2h0M166.9 284.9h0M118.7 295.6h0M166.8 286.9h0M120.2 282.7h0M131.4 294.6h0M156.8 289.4h0M139.3 287.5h0M132.8 283.9h0M185.5 288.6h0M131.1 286.6h0M172.2 291.8h0M98.6 290.8h0M139.8 283.7h0M161.3 285.9h0M176.6 286.5h0M163 287.9h0M205.6 286h0M128.9 281.9h0M133.2 295.4h0M161.7 293.8h0M159.2 288.3h0M132 283.1h0M183.1 291.5h0M151.3 288h0M142.3 282h0" stroke="#c0c0c0" stroke-width="1.3" stroke-linecap="round"/>
<path d="M156 285h0M168.4 284.5h0M128.6 292.8h0M133.4 290.4h0M170.1 289h0M152.3 296.1h0M168.9 290.6h0M127.6 292.6h0M131 295.9h0M157.4 291.4h0M135.9 296.9h0M170.4 289.6h0M126.8 284h0M135.3 293.7h0M168.6 288.2h0M130.6 286.2h0M138.2 293.3h0M172 287.5h0M142.1 290.7h0M174.4 284.3h0M172.5 294.3h0M161.5 283.3h0M164.7 296.9h0M149.8 285.8h0M140.6 292.3h0M137.7 292h0M135 293h0M159.8 290.4h0M134.1 290.5h0M125.7 290.5h0M157.6 294.5h0M181 289.8h0M167.4 288.6h0M146.5 286.8h0M165.5 290.3h0M172.5 290h0M138.8 290.8h0M164.3 293.4h0M173.7 291.2h0M161.3 286.4h0M158.4 283.2h0M134 294.1h0M131.6 294.2h0M181 293.3h0M173.9 293h0M156.7 290.8h0M126.9 290h0M150.2 293.1h0M164 285.6h0M137.4 284h0M130 283.8h0M120.9 285.1h0M148.5 287.5h0M130 292.2h0M133.8 296.8h0M151.6 292.3h0M158.4 284.6h0M167.8 291.2h0M158.1 295.9h0M136.8 288.4h0M146.6 283.9h0M159.4 296.2h0M161.4 287h0M176.5 285.9h0M148.8 291.4h0M161.4 286.7h0M130.5 284.5h0M160.3 291.1h0M158.8 285.6h0M160.9 288.6h0M124.2 289.9h0M133.9 285.6h0M131.1 296.1h0M141.3 284h0M163.2 292h0M178.5 289.3h0M135.7 294.2h0M132.6 291.8h0M152.6 292.1h0M161.3 283.5h0M163.6 296.7h0M149.1 294.5h0M135.8 292.4h0M144.7 294.2h0M129 288.7h0M152.5 296.6h0M141.4 284.9h0M178.5 292.4h0M165.4 295.2h0M149.9 292h0M135.8 292.5h0M168.5 284.9h0M163.4 293.6h0M162.4 290.7h0M146.8 286.3h0M177.9 292.1h0M155.8 294.4h0M147.6 296.8h0M158 291.4h0M151.9 295.6h0" stroke="#c4c4c4" stroke-width="1.5" stroke-linecap="round"/>
<path d="M136.5 216L133.5 216L122.5 222L118.5 232L119.5 250L120.5 262L123.5 272L125.5 280.9L136.5 280.9Z" fill="#6461c1"/>
<path d="M135.5 205.6h0M131.7 207.8h0M134.9 209.9h0M133.8 210.5h0M131.8 209.9h0M122.4 209.9h0M135.5 212h0M116.8 212.3h0M135.4 214.7h0M133.5 213.9h0M131 214.7h0M120.5 214.6h0M135.1 216.5h0M132.9 217.1h0M131.6 216.4h0M126.5 216.8h0M125.4 216.8h0M135.1 218.6h0M133.4 218.6h0M131.6 219h0M129.3 219.3h0M127.7 218.4h0M124.8 218.4h0M122.6 218.7h0M116.9 218.9h0M113.9 219.1h0M112.1 218.5h0M135.5 220.8h0M133.1 220.4h0M130.9 220.6h0M129 221.2h0M127.1 221.2h0M125.3 220.9h0M123.4 221.2h0M121.4 220.9h0M116 221h0M111.8 220.9h0M135.5 223.2h0M133.9 222.9h0M130.8 222.7h0M129.1 222.9h0M127.3 222.4h0M125.1 222.3h0M123.3 223.2h0M120.4 223.2h0M116.5 223h0M112.8 223h0M135.3 225.4h0M133.1 225.5h0M131.9 225.2h0M129 225.6h0M127.3 224.9h0M124.6 224.8h0M123.2 224.6h0M121 225h0M116.5 225.4h0M112.4 224.9h0M109.8 224.7h0M105.8 225.1h0M134.9 227.5h0M133.2 226.7h0M130.9 226.9h0M128.8 227.1h0M126.6 227.5h0M124.9 226.9h0M122.7 227h0M120.5 227h0M118.9 227h0M116.9 227.6h0M114.9 226.9h0M110 226.8h0M108.6 227.6h0M135.5 229.2h0M133.8 229.2h0M131.6 229.2h0M129 228.8h0M127.7 229.3h0M124.6 229.3h0M123.5 229.7h0M121.2 229.8h0M119.2 229.1h0M135.5 231.6h0M133 230.9h0M131.5 230.7h0M128.7 230.9h0M127.2 231.6h0M122.4 231.7h0M121.3 231.6h0M118.5 231h0M116.3 231.7h0M113 231.9h0M110.7 231.8h0M135.1 233.8h0M133.6 233.3h0M131 232.9h0M128.9 233h0M127.1 233.9h0M124.9 233.3h0M122.5 233.2h0M121.3 233.5h0M119.3 233.8h0M116.4 232.8h0M112.8 233.7h0M105.5 233.5h0M104 233.7h0M101.8 233.4h0M99.4 233.5h0M135.2 236h0M132.9 235.6h0M130.7 235.2h0M128.6 236.1h0M126.9 236h0M124.6 235.5h0M122.7 235.6h0M118.2 235.3h0M114 235.2h0M112.2 235.3h0M105.7 235.9h0M135.5 237.3h0M133.8 237.6h0M131.8 238.1h0M129.3 237.4h0M126.7 237.5h0M124.5 237.8h0M122.5 238.1h0M120.8 237.6h0M119.3 237.9h0M115 238.1h0M109.9 237.1h0M108.4 237.1h0M100.1 238.1h0M135.5 239.5h0M134 239.4h0M130.9 239.8h0M129.8 240h0M125.4 239.6h0M122.4 239.5h0M121.4 239.3h0M118.6 239.8h0M116.3 240.2h0M114.8 240h0M103.5 240.1h0M135.5 242h0M131.7 241.3h0M129.3 242h0M126.6 242.3h0M125.5 241.5h0M123 241.5h0M120.5 241.8h0M118.8 241.5h0M116.8 241.5h0M112.1 242.1h0M108.5 241.6h0M101.3 241.9h0M135.4 243.7h0M133.5 244.1h0M131.8 243.6h0M128.9 244.1h0M127.2 243.8h0M124.5 244.5h0M122.7 244.3h0M121.1 243.8h0M118.8 243.6h0M117.2 244.4h0M114.9 244.1h0M112 244h0M110.6 244h0M108.5 244.5h0M99.8 243.7h0M135.5 245.6h0M132.8 245.5h0M130.7 245.7h0M129.7 245.7h0M127.3 246.2h0M125.5 246.4h0M120.9 246.2h0M118.9 245.8h0M116.4 245.5h0M110.3 245.4h0M106.7 245.8h0M97.5 245.7h0M135.3 248.5h0M133 248h0M130.9 248.1h0M128.9 247.7h0M127 248.1h0M124.6 247.5h0M123.3 248.3h0M120.6 247.9h0M118.6 248.4h0M116 247.8h0M112.8 248.5h0M101.8 247.7h0M135 250.2h0M133.3 250.2h0M131.5 250.4h0M128.8 250.6h0M126.7 249.8h0M125.1 249.7h0M123 250.4h0M121.1 249.9h0M118.2 250.6h0M117 250.2h0M114.4 249.7h0M112.8 249.6h0M109.8 250.5h0M105.9 250.8h0M103.8 250.8h0M135.3 251.7h0M133.6 252.9h0M131.2 252.2h0M128.6 252.8h0M124.4 252.1h0M123.2 252.7h0M121.3 252h0M118.6 252.2h0M117.1 252.6h0M114.2 252h0M112.6 252.6h0M107.8 252.2h0M135.5 254.6h0M131.8 254.4h0M129.4 254.5h0M126.6 254.1h0M125.4 254h0M122.4 254.2h0M121.1 254.4h0M118.9 254.3h0M116.5 254.8h0M114.1 254.1h0M112.8 254.6h0M110.2 254.9h0M106.6 253.9h0M135.5 257h0M133.5 256.1h0M131.8 256.9h0M129 256.6h0M126.8 256.9h0M125.2 256.4h0M123.3 256.8h0M120.2 256.9h0M118.1 256.2h0M107.9 256.9h0M104.1 256.4h0M135.5 258.8h0M133.7 258.3h0M130.9 258.4h0M128.7 258.4h0M126.9 258.6h0M125.4 258.4h0M122.4 259.1h0M121.1 259.1h0M118.3 258.1h0M116.9 258.1h0M114 258.3h0M101.5 258h0M99.3 258.6h0M135.5 260.7h0M133 260.9h0M128.9 260.5h0M127 260.4h0M124.4 261.2h0M118.9 260.3h0M116 260.5h0M110.3 260.7h0M108.1 261.2h0M135.5 262.7h0M133.6 262.4h0M130.9 262.7h0M127.1 262.9h0M125.1 262.5h0M123 263.3h0M120.8 262.6h0M118.2 262.8h0M112 262.8h0M105.7 262.8h0M101.8 263.1h0M135 265.2h0M133.4 265.1h0M131.2 264.7h0M128.7 265.2h0M127.1 264.6h0M122.7 264.4h0M121.2 264.4h0M118.4 264.3h0M117 265.2h0M110.1 264.6h0M104 265.5h0M135.5 267h0M133 267.1h0M131.1 267h0M129.4 266.5h0M126.6 267h0M125.4 266.4h0M122.7 267.5h0M120.4 267.2h0M119.1 267h0M116.7 266.7h0M114 266.7h0M112 266.9h0M135.1 268.8h0M133.9 269.6h0M131.7 269.2h0M126.9 268.8h0M125.5 269.1h0M122.3 269h0M120.7 269.5h0M110.8 269.5h0M106.3 269.3h0M103.8 269h0M135.4 270.6h0M133.3 270.9h0M131.1 271.3h0M129.1 271.5h0M127.5 271.5h0M124.4 271h0M123.3 270.8h0M118.3 271.4h0M116.4 271.1h0M135.5 273.4h0M133.8 273.5h0M131.2 273.5h0M129.2 273.7h0M126.7 273.7h0M125.6 273.4h0M122.4 273.8h0M120.4 273.3h0M114.8 273.5h0M112.9 273.3h0M108 273.6h0M135.5 274.8h0M133.2 275.4h0M131.2 275h0M129 274.9h0M126.5 275h0M124.9 275.9h0M122.9 275.4h0M121.4 275.3h0M114.9 275.9h0M112.5 275.7h0M135.5 277.8h0M133.7 277.6h0M131 277.8h0M129.8 277.2h0M127.4 277.2h0M125.4 277.1h0M122.6 277.2h0M121.1 277.7h0M118.9 277.9h0M117 277.5h0M110.3 277.8h0M108.1 277.6h0M135 279.9h0M132.9 279.6h0M131.3 279.2h0M128.8 280.2h0M127 279.7h0M124.6 280h0M122.4 279.5h0M119 279.4h0M110.2 279.6h0" stroke="#6461c1" stroke-width="2.6" stroke-linecap="round"/>
<path d="M76.9 267.5h0M73.1 280.3h0M87.6 274.7h0M86.5 275.5h0M101.4 226.1h0M83 226.7h0M78.4 246.3h0M96.1 250.6h0M114.5 207.7h0M132.1 206.9h0M132.8 210.3h0M109.9 209.2h0M99.9 231.8h0M99.9 260.9h0M101.4 267.5h0M99.1 254h0M104 240h0M103 236h0" stroke="#6461c1" stroke-width="2.6" stroke-linecap="round"/>
<path d="M169.3 218L176.3 218L186.3 224L184.3 240L182.7 260L179.7 281.3L169.3 281.3Z" fill="#e1302c"/>
<path d="M170.3 203.9h0M196 203.4h0M174.9 205.8h0M170.3 208.8h0M174.9 208.5h0M182.3 207.7h0M190.8 207.7h0M199.8 207.8h0M170.3 210h0M172.5 210.4h0M176 210.4h0M178.4 210.2h0M187.2 210.5h0M194 209.7h0M170.3 212h0M171.9 212.4h0M174.2 212.7h0M176.7 212.8h0M184.6 213h0M193.1 212.8h0M195.9 212.1h0M199.7 212.5h0M206.3 212.8h0M170.3 214.2h0M172.7 214.9h0M176 214.6h0M178.8 214.1h0M183.1 214.2h0M194 214.3h0M195.2 214.3h0M200.2 214.8h0M206.2 214.9h0M170.3 217h0M172.5 216.9h0M174.2 216.1h0M178.3 216.4h0M180.3 216.7h0M182.6 216.4h0M189.6 217.1h0M191.7 216.8h0M205.4 216.9h0M170.4 218.1h0M171.9 218.5h0M174.1 218.9h0M177 218.8h0M179.1 219h0M180.9 219.1h0M182.7 218.1h0M187 218.3h0M189.7 218.5h0M203.9 218.4h0M205.7 219h0M170.8 220.8h0M172.6 220.4h0M174.4 220.3h0M176.7 220.9h0M178.2 220.9h0M180.2 221.4h0M183.4 220.6h0M191 220.6h0M193.5 220.4h0M194.9 220.7h0M197.3 220.2h0M201.8 220.9h0M204 221.2h0M206.2 221.1h0M170.6 222.8h0M172 222.7h0M174 222.7h0M176.6 222.5h0M178.2 222.7h0M181.2 222.8h0M185.1 222.7h0M187.3 222.4h0M190.9 223h0M192.9 222.5h0M197.9 223h0M199.5 223h0M201.4 223.5h0M204.1 222.8h0M207.5 223.1h0M214 222.9h0M170.3 224.9h0M171.8 224.5h0M174.7 224.8h0M176.1 224.9h0M180.4 225h0M182.4 225.4h0M185.1 224.9h0M187.1 225.1h0M189.6 225h0M191.4 225.3h0M193.2 225.1h0M198.1 224.9h0M199.7 225.3h0M201.4 225h0M203.8 224.6h0M205.8 225.5h0M216.4 225.2h0M172.4 227h0M174.9 227h0M176.9 227.5h0M178.7 226.6h0M180.4 227.4h0M182.5 227.2h0M185.4 227h0M187.1 227h0M198.1 226.9h0M199.8 227h0M202.4 226.7h0M203.8 227.5h0M212.7 227.4h0M170.3 229.5h0M172.3 228.6h0M174.7 228.8h0M176.9 229h0M178.9 229.4h0M181.3 229h0M182.8 229.6h0M184.7 229h0M187.4 228.8h0M193.7 229.4h0M197 229.6h0M200.1 229.6h0M170.3 231.7h0M172.9 231.1h0M174.1 231.8h0M176.5 231.5h0M179.2 231h0M180.8 231.3h0M183.2 230.9h0M184.8 231.2h0M187.4 231.6h0M191.1 231.3h0M195.7 231.3h0M207.7 231.1h0M170.9 233.4h0M172.4 233.4h0M174.3 233.2h0M176.5 233.5h0M179.3 233.5h0M183 233.5h0M185 233.1h0M189.6 233.4h0M191.1 233.9h0M193.5 233.3h0M201.2 233.6h0M203.9 233.1h0M209.8 233.2h0M171.9 235.7h0M174.6 235.1h0M176.3 235.7h0M180.8 235.7h0M182.7 235.2h0M184.8 235.5h0M189.8 235.3h0M191.2 236h0M195.1 235.2h0M202.1 235.9h0M170.7 237.9h0M172.4 237.4h0M174 237.9h0M178.7 237.7h0M181.3 237.3h0M183.1 237.9h0M184.5 237.8h0M187.5 237h0M201.3 237.1h0M204.1 237.8h0M170.8 239.6h0M172 239.7h0M174.8 239.9h0M177.1 239.2h0M178.8 239.8h0M181.1 240h0M183.4 239.6h0M184.7 239.5h0M186.5 239.3h0M189.2 239.7h0M191.8 239.9h0M195.4 240.2h0M208.4 239.2h0M212.8 240.2h0M170.3 241.8h0M172.7 241.2h0M178.1 242.1h0M180.2 241.7h0M182.4 242h0M184.8 241.4h0M186.8 241.9h0M189.7 241.2h0M191.4 241.7h0M193.3 241.5h0M197.8 242h0M201.8 241.3h0M204.4 241.4h0M207.5 241.2h0M170.3 244.1h0M172.4 244.1h0M174.1 244.1h0M176 243.8h0M178.8 244.1h0M182.8 243.5h0M185.1 244.3h0M189.5 243.6h0M197.9 244h0M201.8 243.4h0M172.6 245.8h0M174.7 245.7h0M176.8 246.4h0M178.7 245.8h0M180.5 246.4h0M183 245.5h0M185.2 245.5h0M186.8 246.1h0M189.8 245.9h0M193.7 246.5h0M197.7 245.8h0M200.2 246.2h0M170.3 248h0M172.6 247.9h0M174.2 247.8h0M177.1 248h0M178.5 248.6h0M180.4 248.3h0M183.5 248.4h0M184.9 248.6h0M193.6 248.2h0M195 248.1h0M204.4 248.6h0M170.3 249.9h0M172.8 250.5h0M174.7 250.2h0M176.5 250.3h0M178.5 250h0M181 250.6h0M183 250.1h0M184.5 249.6h0M188.9 250.2h0M191.4 250.2h0M193.6 250.4h0M197.9 250.3h0M201.6 250.1h0M203.4 250.6h0M206.1 249.9h0M170.3 252.8h0M172 252.6h0M174.8 252.6h0M176.6 252.6h0M179.1 252.4h0M181.1 252.2h0M183.3 252.8h0M185.5 252.7h0M188.9 252h0M195.1 252.7h0M197.2 252.3h0M199.6 251.9h0M210.6 252.8h0M170.4 254.7h0M172.9 254.9h0M174.1 255h0M179.2 254.1h0M180.3 254.4h0M185 254.2h0M187 254.1h0M189.3 254.3h0M170.3 256.8h0M172.6 256.2h0M174.8 256.6h0M177.2 256.8h0M183.4 257h0M184.8 256.5h0M188.9 256.8h0M201.7 256.7h0M170.3 258.4h0M172.4 258.2h0M174.4 259h0M177.2 258.1h0M178.7 258.6h0M180.2 258.2h0M182.8 259h0M187 258.9h0M191.1 258h0M195.3 258.4h0M199.2 258.2h0M170.3 260.8h0M172.1 261h0M175 261.2h0M177 260.8h0M178.7 261.2h0M180.9 260.7h0M183.2 260.2h0M187.2 260.4h0M199.4 260.7h0M170.3 263.2h0M172.8 262.3h0M174 263.2h0M176.7 262.3h0M178.6 263h0M181.4 262.6h0M182.9 262.6h0M184.4 263.3h0M190.9 262.6h0M193.2 262.5h0M170.6 265.3h0M172.8 264.4h0M174.7 265h0M176.6 264.8h0M178.8 265.3h0M180.9 264.8h0M183.1 264.3h0M186.7 265.2h0M189 264.9h0M202.1 265.3h0M170.3 266.7h0M175 267.1h0M176.4 266.9h0M179 267.5h0M180.7 267.5h0M183.3 267.5h0M185.3 266.5h0M186.5 266.9h0M189.1 267.2h0M170.7 269.3h0M172.2 268.8h0M174 269.7h0M176.2 269.4h0M178.3 269.6h0M180.3 269.2h0M183.1 269.3h0M170.3 271.3h0M172.3 271.2h0M174.4 271.3h0M176.8 270.7h0M178.7 271.5h0M181.1 270.9h0M183.3 270.8h0M189.2 271.2h0M191.1 271.2h0M170.3 273.4h0M172.8 272.8h0M174.1 273.9h0M177 272.9h0M180.5 273.8h0M189.4 273.7h0M195.5 273h0M170.3 275.1h0M172.1 275h0M174.5 275.9h0M177.2 275.6h0M179.2 275.7h0M180.4 275.6h0M182.5 275.1h0M186.6 275.8h0M190.9 274.8h0M170.6 277.6h0M171.9 278.1h0M174 276.9h0M176.9 277.4h0M178.9 277.5h0M180.8 277.4h0M182.7 277.9h0M184.5 277.2h0M170.3 280h0M172.2 279.8h0M175.1 279.2h0M176.8 279.5h0M178.6 279.5h0M180.7 279.4h0M183.2 279.2h0M187.6 279h0" stroke="#e1302c" stroke-width="2.6" stroke-linecap="round"/>
<path d="M187.4 191.6h0M196.1 194.3h0M207.3 194.4h0M186.4 195.9h0M188 196.2h0M192.6 196.6h0M193.8 196.5h0M196.1 195.8h0M183.2 198.6h0M186.3 199h0M190 197.9h0M195.9 198.2h0M198.2 198.2h0M200.7 198.4h0M205.2 198.7h0M175.3 200h0M181.3 200.7h0M189.9 200h0M191.8 199.9h0M193.8 200.3h0M210.8 200.1h0M179.3 202.4h0M181.8 202.5h0M184.2 202.1h0M193.8 203h0M198.1 202.1h0M204.8 202.6h0M206.8 202h0M213 202.7h0M183.7 204.5h0M186.1 204.3h0M187.5 205h0M192.1 204.5h0M196 205.2h0M198.6 204.8h0M210.7 204.7h0M217.3 205.2h0M179.1 206.7h0M183.5 206.5h0M194.2 207.1h0M195.7 207.4h0M204.3 207.3h0M210.8 206.7h0M213.1 206.8h0M215.2 207.3h0M176.9 209.3h0M179.5 209.5h0M183.5 209.2h0M187.9 208.9h0M189.6 208.7h0M192.6 208.7h0M196.3 208.5h0M198.1 209.1h0M202.9 209.1h0M209.2 209.4h0M215.6 208.9h0M171.6 211.5h0M173.1 211.4h0M181.4 210.6h0M188.3 211.5h0M190.5 210.7h0M196.5 211.4h0M200.4 210.5h0M207.3 210.7h0M175.7 213.4h0M179.8 212.6h0M184 213.2h0M185.6 213.1h0M187.6 213.3h0M190.5 213.1h0M191.7 212.8h0M193.8 212.9h0M213.3 213.7h0M184.1 215.1h0M186.2 215.6h0M189.7 215.6h0M198.8 215.6h0M200 215.6h0M202.6 215.7h0M204.7 214.7h0M215.6 215.6h0M219.2 215.4h0M179.1 217.7h0M183.5 217.1h0M187.8 217.1h0M189.8 216.8h0M194.5 217.8h0M196.1 217.5h0M204.5 217.2h0M209.2 217.7h0M211 216.8h0M213.2 217.7h0M215.6 217.5h0M219.4 216.9h0M181.9 219.2h0M186.2 219.2h0M190.1 218.9h0M191.9 219.5h0M200.8 219.3h0M202.4 219.2h0M219.8 219.9h0M183.7 221.1h0M189.5 221.5h0M202.5 221.6h0M205.2 221.8h0M214.9 221.7h0M219.2 221.5h0M177.2 223.1h0M182.1 223.8h0M186 223.4h0M192.1 223.4h0M195.7 223.3h0M179.1 226.2h0M181.6 225.4h0M186.3 225.2h0M198.4 225.3h0M200 225.3h0M179.1 227.5h0M185.9 228.3h0M193.7 227.6h0M204.5 227.4h0M209 227.8h0M188 229.9h0M189.4 229.9h0M185.7 232.3h0M196.3 232.4h0M197.9 232h0" stroke="#e1302c" stroke-width="2.6" stroke-linecap="round"/>
<path d="M210.9 182.5h0M217.9 187.2h0M229.7 190.7h0M231.7 190.5h0M254.2 200.1h0M246.1 201.5h0M258.9 205.6h0M233.8 210.3h0M276.7 210.3h0M292.2 205.2h0M294.8 206.8h0M239.9 215.8h0M231.7 213.8h0M256.3 221.9h0M250.8 219.9h0M261.4 228.7h0M261.4 232.2h0M226.6 229.1h0M227.3 232.8h0M218.5 229.1h0M233.8 264.9h0M239.3 263.4h0M243 268.9h0M223.6 276.5h0M252.2 277.1h0M255.3 278.1h0M238.3 228.1h0M234.8 223.4h0M226.6 223.4h0M217.4 225.4h0M214.4 243.4h0M211.3 255.7h0M210.3 263.8h0M206.2 267.9h0M200.1 274.1h0M192.9 279.2h0M205.2 276.1h0M211.3 245.4h0M213.4 248.5h0M205 195h0M200 200h0M222 200h0M215 206h0M208 190h0M196 193h0" stroke="#e1302c" stroke-width="2.6" stroke-linecap="round"/>
<path d="M135.9 201.9L122.1 222.6M139 209.5L126.7 214.9M218.5 229.1L227.3 248.5" stroke="#222" stroke-width="0.6" fill="none"/>
<text x="85.8" y="209.5" font-size="6.9" stroke="#1a1a1a" stroke-width="0.12">DANCR</text>
<text x="110.2" y="204.9" font-size="6.9" stroke="#1a1a1a" stroke-width="0.12">RBM14</text>
<text x="132.1" y="200.6" font-size="6.9" stroke="#1a1a1a" stroke-width="0.12">PLK1</text>
<text x="139" y="210.8" font-size="6.9" stroke="#1a1a1a" stroke-width="0.12">CDC20</text>
<text x="80.7" y="221.8" font-size="6.9" stroke="#1a1a1a" stroke-width="0.12">PCSK2</text>
<text x="54.6" y="229.5" font-size="6.9" stroke="#1a1a1a" stroke-width="0.12">SLC19A1</text>
<text x="48.4" y="248.1" font-size="6.9" stroke="#1a1a1a" stroke-width="0.12">ARHGDIB</text>
<text x="76.1" y="253.2" font-size="6.9" stroke="#1a1a1a" stroke-width="0.12">ICAM3</text>
<text x="193.9" y="185.8" font-size="6.9" stroke="#1a1a1a" stroke-width="0.12">ACAT2</text>
<text x="220.5" y="185.6" font-size="6.9" stroke="#1a1a1a" stroke-width="0.12">FDFT1</text>
<text x="234.4" y="190.3" font-size="6.9" stroke="#1a1a1a" stroke-width="0.12">NEU1</text>
<text x="250.1" y="195.4" font-size="6.9" stroke="#1a1a1a" stroke-width="0.12">CHAC1</text>
<text x="284" y="201" font-size="6.9" stroke="#1a1a1a" stroke-width="0.12">FABP3</text>
<text x="228.7" y="202.9" font-size="6.9" stroke="#1a1a1a" stroke-width="0.12">ACSS2</text>
<text x="261.8" y="207.6" font-size="6.9" stroke="#1a1a1a" stroke-width="0.12">PRUNE2</text>
<text x="223.6" y="210.3" font-size="6.9" stroke="#1a1a1a" stroke-width="0.12">SESN2</text>
<text x="285.3" y="215" font-size="6.9" stroke="#1a1a1a" stroke-width="0.12">CYBA</text>
<text x="244" y="217.4" font-size="6.9" stroke="#1a1a1a" stroke-width="0.12">IL21R</text>
<text x="261" y="222.6" font-size="6.9" stroke="#1a1a1a" stroke-width="0.12">MAFA</text>
<text x="264.6" y="229.1" font-size="6.9" stroke="#1a1a1a" stroke-width="0.12">GDF15</text>
<text x="264.6" y="234.2" font-size="6.9" stroke="#1a1a1a" stroke-width="0.12">PDE6G</text>
<text x="231.1" y="234.2" font-size="6.9" stroke="#1a1a1a" stroke-width="0.12">C2</text>
<text x="228.1" y="251.6" font-size="6.9" stroke="#1a1a1a" stroke-width="0.12">CDKN2C</text>
<rect x="46.4" y="177.3" width="260.8" height="124.5" fill="none" stroke="#3a3a3a" stroke-width="1.2"/>
<path d="M97.2 301.8v2.6M152.6 301.8v2.6M208 301.8v2.6M263.4 301.8v2.6M46.4 296.5h-3.3M46.4 266.3h-3.3M46.4 236.1h-3.3M46.4 205.9h-3.3" stroke="#3a3a3a" stroke-width="1.1"/>
<text x="95" y="314.7" font-size="9.2" text-anchor="middle" fill="#4d4d4d" stroke="#4d4d4d" stroke-width="0.12">−2</text>
<text x="152.6" y="314.7" font-size="9.2" text-anchor="middle" fill="#4d4d4d" stroke="#4d4d4d" stroke-width="0.12">0</text>
<text x="208" y="314.7" font-size="9.2" text-anchor="middle" fill="#4d4d4d" stroke="#4d4d4d" stroke-width="0.12">2</text>
<text x="263.4" y="314.7" font-size="9.2" text-anchor="middle" fill="#4d4d4d" stroke="#4d4d4d" stroke-width="0.12">4</text>
<text x="40.3" y="299.8" font-size="9.2" text-anchor="end" fill="#4d4d4d" stroke="#4d4d4d" stroke-width="0.12">0</text>
<text x="40.3" y="269.5" font-size="9.2" text-anchor="end" fill="#4d4d4d" stroke="#4d4d4d" stroke-width="0.12">3</text>
<text x="40.3" y="239.3" font-size="9.2" text-anchor="end" fill="#4d4d4d" stroke="#4d4d4d" stroke-width="0.12">6</text>
<text x="40.3" y="209.1" font-size="9.2" text-anchor="end" fill="#4d4d4d" stroke="#4d4d4d" stroke-width="0.12">9</text>
<text x="166" y="172.6" font-size="9.3" text-anchor="middle" stroke="#1a1a1a" stroke-width="0.12">SU-DIPGXVII</text>
<text x="53.6" y="188" font-size="9.3" stroke="#1a1a1a" stroke-width="0.12">n=1136</text>
<text x="304.5" y="186.9" font-size="9.3" text-anchor="end" stroke="#1a1a1a" stroke-width="0.12">n=1538</text>
<text x="28.9" y="244.1" font-size="9.3" text-anchor="middle" stroke="#1a1a1a" stroke-width="0.12" transform="rotate(-90 28.9 244.1)">−log10(P.value)</text>
<text x="37.7" y="313.9" font-size="9.3" stroke="#1a1a1a" stroke-width="0.12">logFC (T-C)</text>
<path d="M116.2 336.5V461.7M220.8 336.5V461.7M42.5 431.6H303M42.5 377.9H303" stroke="#f2f2f2" stroke-width="0.5" fill="none"/>
<path d="M64 336.5V461.7M168.5 336.5V461.7M273 336.5V461.7M42.5 458.5H303M42.5 404.8H303M42.5 351H303" stroke="#ebebeb" stroke-width="0.9" fill="none"/>
<path d="M142.8 363L143.5 361.8L145 361.8L146 363L149 369L151.3 376L154 385L157.4 396.3L158.3 400L160.5 412L162.6 427L165.3 440L166.6 453.5L167.8 453.5L169.5 447L172.3 440L175 420L177.9 406.5L178.7 400L181 394L184 384L186 381.5L188 380L192.4 379L192.4 439.4L193.5 445L195 452L194 457.8L168 458.3L141 457.8L140 452L141.5 445L142.8 438.8Z" fill="#c4c4c4"/>
<path d="M202.2 449h0M217.1 446.5h0M151.1 442.6h0M248.8 448.6h0M193.9 451.8h0M134.7 453.2h0M191.4 439h0M191.3 452h0M187.5 447.3h0M195.1 456h0M120.5 437.5h0M183.5 446.8h0M188.1 446h0M155.5 447.6h0M145.2 454.9h0M146.1 438.9h0M173.5 444.9h0M126.3 456.7h0M179.2 453h0M175 457.3h0M151.7 456.1h0M215.5 442h0M129.7 442.8h0M135.1 445.6h0M162.2 443.4h0M119.2 452.5h0M148.7 437.6h0M219.5 446h0M186.7 448.4h0M154.7 455.6h0M133.7 442.4h0M180.5 452.7h0M86.4 458.3h0M144.5 451.6h0M192.8 456.9h0M217.9 458.1h0M154.6 454h0M56.7 443.2h0M225.1 441.6h0M214.2 450.6h0M121.9 447.7h0M183.4 449.1h0M133.9 458.1h0M147.2 454.7h0M134.5 450.5h0M138.5 451.7h0M131.6 443.1h0M136.8 448.3h0M178 447h0M176.8 453.7h0M167 457h0M159.5 446.1h0M172.9 445.7h0M145.4 457.8h0M191.2 443.6h0M191.5 450.2h0M87.4 438.5h0M183.7 437.8h0M172.2 445.1h0M195.9 452.3h0M169.2 451.9h0M199.4 452.3h0M138.1 446.8h0M134.5 458h0M210.3 443.4h0M218.4 441.2h0M156.5 455.1h0M113.2 446.7h0M191.8 451.8h0M140.5 438h0M184.8 445.3h0M147.5 443.5h0M204.8 439.4h0M140.4 441.2h0M176.5 451.6h0M156 441.6h0M115 444.7h0M122.6 453.9h0M202.2 442h0M121.6 453.9h0M149.6 444.4h0M167.2 458.5h0M89.1 438h0M148.2 452.9h0M143.5 440.1h0M193.6 450.3h0M158.4 454.4h0M127.6 458.4h0M141.7 439.2h0M154.5 458h0M161.5 450h0M226 442.7h0M170.8 455.4h0M162.6 450.5h0M140.5 441h0M159.7 440.8h0M187.5 447.3h0M212.6 456.9h0M171 449.2h0M195.5 449.5h0M162.9 445.8h0M111.3 450.2h0M182.4 448.3h0M147.2 440.4h0M144.4 437.8h0M181.6 441.6h0M168.5 457.5h0M186 448.6h0M145.1 449h0M266.3 456.7h0M181.7 446.5h0M242.1 451.2h0M216.8 453.6h0M157.4 449.7h0M149.3 444.6h0M219.4 444h0M222.7 443.9h0M155.7 438h0M174.5 449.5h0M46.5 450.4h0M174.8 445.4h0M179.9 440.2h0M134.5 443.6h0M203 444.7h0M243 448.5h0M218.3 447.7h0M201.8 445.4h0M198.7 456h0M180.5 456.2h0M181.3 452.4h0M176.8 454.5h0M144.5 439.6h0M217.5 449.1h0M158.5 448.1h0M220.9 453.8h0M149.3 447.1h0M189.6 440.5h0M235.6 444.8h0M164.9 450.2h0M174 442.4h0M147.2 454.8h0M149.7 444.1h0M188.1 438.6h0M136.8 451h0M177.1 443.7h0M171.6 449.1h0M133.2 449.3h0M233.8 450.5h0M135.5 450.7h0M200.7 442.8h0M138.2 444.2h0M176.2 438.5h0M113.3 455.3h0M175.9 451.8h0M144.6 445.5h0M135 456h0M189 453.7h0M191.2 456.2h0M201.7 450.1h0M191.6 456.8h0M152 438.8h0M190.9 440.5h0M187.8 445.5h0M177.4 450.3h0M109.8 449.8h0M210.3 439.8h0M165.6 450.1h0M153.3 455.8h0M177.2 441.5h0M201 456.3h0M116.9 445.5h0M194.8 454h0M192.2 449.9h0M178.3 449.9h0M142.3 447h0M148.7 443.1h0M154.5 438.4h0M96.8 441.1h0M190.9 447.8h0M207.8 457.7h0M122.4 444.6h0M197.2 456.9h0M160.4 440.5h0M191 447.2h0M134.2 439.6h0M235.9 455h0M179.6 441.3h0M223.2 444.2h0M206.3 448.8h0M172.4 456.5h0M147.1 455.2h0M138.8 444.6h0M195.7 440.3h0M205.9 449.3h0M177.7 444.6h0M121 448.4h0M198.5 443.6h0M202.1 453.6h0M127.2 442.2h0M186.3 442h0M145.9 455.9h0M179.6 443.7h0M162.5 455.8h0M193.8 446.7h0M239.7 451.4h0M244 448.4h0M133.3 453.4h0M161.5 451.8h0M177.3 458.5h0M140.4 451.5h0M146.8 454.4h0M133.5 455.3h0M203.7 439.6h0M134 446.3h0M225.7 439.5h0M177.5 449.4h0M181.3 440.8h0M138.1 441.7h0M185.6 458.3h0M154.5 458.3h0M196.7 445.2h0M235.2 444.7h0M219.2 451.7h0M187.3 437h0M157.9 443.8h0M92.3 446.7h0M232.3 453.1h0M199.5 442.3h0M183.2 437.8h0M173.4 457.3h0M170.7 451.7h0M143.1 447.8h0M199.4 451.3h0M194.5 455.8h0M183 451.5h0M213.2 441.8h0M170.1 451.4h0M114.6 441.1h0M239 437.7h0M157.4 454.3h0M113 444.5h0M118.9 443.7h0M204.9 453h0M198.9 453.8h0M137.5 447.3h0M141.5 441.5h0M104.9 458h0M144 445.8h0M94.1 451.1h0M164.2 449h0M148.1 444.3h0M196.7 451.5h0M147.2 455.3h0M203 449.1h0M135.6 457.1h0M118.5 447.1h0M190.7 457.2h0M137.9 445.2h0M159.6 438.5h0M183.3 445.5h0M82.7 440.8h0M151.8 456h0M131.7 444.6h0M186 438.6h0M166.8 456.9h0M135 448.6h0M149.5 445.9h0M215.5 440.6h0M126.4 449.6h0M131.9 454h0M205.9 456.6h0M216.4 451.6h0M131.3 442.9h0M128.8 456.4h0M200.4 448.4h0M132.9 457.2h0M163.3 456.9h0M234.1 443.2h0M184.2 443.5h0M196 449.6h0M128.3 445.1h0M202.2 440.3h0M172.9 454.5h0M207.7 451.7h0M147.4 452.3h0M184.9 439.9h0M190.4 450.8h0M201.7 457.4h0M191.7 452.2h0M119.3 439.5h0M205.5 441.6h0M163.6 444.4h0M108.4 437.2h0M216.7 446h0M127.8 452.7h0M194.9 457.1h0M190.5 437.5h0M164.1 448.6h0M200.4 438.6h0M190.8 439.4h0M194.7 442.1h0M175.8 440.7h0M110.3 439.6h0M85.4 453.1h0M131 446.9h0M151.4 439.9h0M196.1 437.8h0M126.4 437.2h0M179.5 447.7h0M159.7 447.1h0M148.3 442h0M211.7 447.3h0M187.4 437.8h0M170.1 453.9h0M152.4 445h0M196.3 437.9h0M149.2 451.6h0M159.9 453.6h0M174.9 455.8h0M243 446.4h0M207.8 458h0M63.9 445h0M155.3 456.7h0M160.9 455.6h0M190 456.4h0M136.5 440.8h0M147.9 442h0M132.9 454.2h0M169.9 456.2h0M203.6 445.8h0M176.3 456.3h0M175.6 439.8h0M193.8 449.1h0M216.6 453.3h0M182.3 441.3h0M194.8 452.5h0M180.4 441.4h0M124.9 444.9h0M158 440h0M189 452.7h0M182.4 440h0M190.8 455.8h0M222 453.1h0M202.4 458.4h0M158 452.7h0M152.4 455.9h0M179 438.5h0M199.9 441.2h0M201.4 442.7h0M144.3 439.8h0M180.4 444.3h0M163.7 446.8h0M174.7 456.5h0M205 455.8h0M119 457.3h0M140.3 437.8h0M194.7 455.8h0M190.8 453h0M159.4 448.1h0M183.3 450.2h0M141.7 438.8h0M190 444.1h0M267.2 449.1h0M177.8 444h0M135.2 450.4h0M126.1 445.3h0M164.5 457.5h0M260.8 451.4h0M179.2 443.8h0M189 455.2h0M143.7 455.8h0M191.4 442.8h0M155.7 449.1h0M181.3 441.6h0M173.4 451.4h0M98.5 444.4h0M198.2 454.7h0M156.2 453.9h0M177.5 438.9h0M180 445.3h0M102.6 438.7h0M153.2 450.2h0M198.5 444.8h0M146.2 456.3h0M128.5 445.6h0M201.7 452.3h0M190.1 442.9h0M159 442.5h0M209.6 438h0M202.2 455.6h0M209.3 437.9h0M163.7 450.5h0M144.7 452.9h0M232 446h0M193.6 440.5h0M188.4 442.5h0M114.7 451h0M129.7 441.1h0M159.4 455.5h0M164.9 447.8h0M151.6 453.8h0M185.4 440.5h0M203.5 438.3h0M134.2 441.8h0M175.8 450.1h0M137.2 453.3h0M202.2 451.7h0M178.2 444.3h0M200.5 454.8h0M185.9 455.2h0M159.9 442.8h0M89.2 450.3h0M181.1 453.8h0M179 452.5h0M171.6 453h0M109.5 457.3h0M160.3 438.7h0M224.2 441.7h0M171.4 450.8h0M149 454.6h0M141.5 445.7h0M133.4 448.4h0M127.7 457.3h0M158.5 453.7h0M201.7 443h0M154.2 451.6h0M205.3 437.1h0M217.9 449.7h0M150.3 437.2h0M212 450.9h0M214.8 439.3h0M147.2 451.9h0M140.5 438.9h0M118.7 451h0M150.2 437.1h0M158.2 454.1h0M189.3 448.2h0M174.3 457h0M158.4 444.2h0M147.9 439.1h0M124.1 438.4h0M100.1 452.3h0M120.3 440.2h0M195.2 458.2h0M173.3 453.1h0M142.1 438h0M205.1 456.3h0M141.9 458.2h0M190.2 439h0M117.4 454.6h0M83.2 448.5h0M155.6 449.9h0M140.2 442.8h0M158.5 450.9h0M239.3 446.7h0M217.5 450.6h0M187.2 444.2h0M175.4 451.4h0M137.2 451.5h0M160.6 456.6h0M194.7 454.3h0M194 437h0M215.2 443.6h0M175.2 452.3h0M71.3 449.1h0M209.9 439.2h0M199.7 458.4h0M179.3 457.6h0M175.6 450.2h0M211.9 438.2h0M151.3 458.2h0M118.1 438.4h0M134.9 446h0M183.5 452.9h0M135.9 437.5h0M138.2 439h0M150.6 455.1h0M196.8 447.1h0M164.3 456.1h0M165.3 458.3h0M158.8 437.2h0M102.8 445.8h0M149.4 445h0M79.6 443h0M193.6 438.2h0M168.5 455.5h0M164 445.3h0M198.5 443.1h0M158 441.1h0M193.4 458h0M206.6 456.5h0M146.9 448.5h0M193.6 457.6h0M191.8 449.8h0M146.7 439h0M124.5 437.1h0M151.6 456.7h0M144.7 448h0M151.9 449.5h0M177.2 456h0M140.9 448.8h0M149.4 449.4h0M188 446.1h0M195.5 444.7h0M201.2 458h0M155.4 454.5h0M210.3 444.2h0M151.7 456.6h0M199.8 437.8h0M130.2 452.5h0M135.1 446.1h0M198.3 449h0M194.2 454.8h0M127.3 440.7h0M143 443.9h0M200.8 444.3h0M221.5 458.5h0M234.7 444.3h0M137.9 454.8h0M203.4 451.6h0M155.2 454.4h0M144 438h0M176.6 455.8h0M160.2 455h0M182.2 455.8h0M155.8 438.7h0M186.5 455.6h0M201 454.4h0M153.3 439h0M201.9 438.5h0M114.4 444.5h0M163 445.4h0M202.9 449.4h0M160.6 456.8h0M201 458h0M212.1 449.2h0M229.4 446.8h0M141.2 457.1h0M224 450.3h0M160.8 451.2h0M174.2 445.8h0M151.9 456.1h0M149.1 448.8h0M180.6 445.2h0M198.8 439.2h0M213.7 441.7h0M193.7 441.5h0M186.1 440.7h0M181.1 445.7h0M200.2 444.3h0M241 455.7h0M202.2 452.6h0M162.8 448.5h0M150.4 454.8h0M195.7 441.8h0M143.5 450.2h0M228.9 439.9h0M113.9 453.1h0M116 448h0M194 441.8h0M146.9 458.3h0M159.2 442.6h0M197.8 455.1h0M194.1 454.2h0M153.4 443.8h0M232 442.7h0M144.3 444h0M161.2 449.9h0M155.2 437.1h0M204.7 438.9h0M203.3 458.4h0M181.2 448.8h0M133 457.4h0M172 455.8h0M198.6 451.4h0M222.5 447.6h0M99.6 449.6h0M206.7 454.6h0M218.4 457.1h0M145.2 458.4h0M134.8 454.5h0M150.5 444.6h0M150.1 455.2h0M156.1 445.5h0M152.9 437.3h0M149 437.3h0M140.4 449.8h0M178.1 442h0M175.5 455.8h0M176.3 447.2h0M191.5 446.9h0M136 451.1h0M173.6 452.3h0M154.1 455.2h0M186.8 441.9h0M211 450h0M151 456.2h0M123.8 442.9h0M141.9 449h0M179 458h0M188.5 448.3h0M183.5 443.7h0M142.4 438.4h0M160.1 444.1h0M198.3 449.3h0M128.1 447.8h0M182.7 456.3h0M194.3 442.4h0M220.9 442.2h0M184.3 446.7h0M143.4 457.7h0M206.1 441.3h0M176.9 444.3h0M126.1 445.1h0M159.3 446.8h0M196.7 453h0M192.5 455.1h0M187.4 437.9h0M207.2 441.4h0M143.7 457.3h0M201.2 455h0M202.4 454.4h0M207.8 457.9h0M242.8 449.7h0M86.1 450.5h0M184.6 449.8h0M156.6 446.7h0M186.5 457.5h0M134.8 440.9h0M140 445.2h0M159.6 450.1h0M144.8 448.5h0M141.5 453.5h0M140.7 448.8h0M145.6 443.3h0M235.5 444.3h0M172.3 457.3h0M174.9 445.8h0M173.7 446.4h0M151.5 437.1h0M117.3 451.8h0M194.7 442.3h0M207.5 438.3h0M183.5 443.5h0M178.7 437.2h0M193.1 455.3h0M177.9 445.4h0M224.7 456.4h0M216.8 441.5h0M148.1 442.7h0M135.4 456.6h0M136 448.7h0M206.1 454.6h0M124.1 451.3h0M149 441.8h0M213 449.1h0M212.6 448.9h0M161.2 454.5h0M140.7 454.6h0M165.6 453.4h0M176.4 457h0M209.6 446.6h0M132.1 440h0M195.1 444h0M223.8 439.7h0M148.1 454.7h0M151.5 450.6h0M157.8 438.9h0M213.3 458.3h0M174.8 449.4h0M187.7 448.3h0M150.1 442.2h0M141.9 454.6h0M136.1 441.5h0M239.3 447h0M179.9 450.7h0M235.3 448.7h0M142.9 456.7h0M154.3 455.5h0M213.6 449h0M150.6 442.9h0M188.1 445.4h0M100 457.7h0M181.9 453.3h0M191.8 443.9h0M109.2 448.7h0M190.6 449.7h0M196.3 454.8h0M138.3 458.3h0M228.8 454h0M200.3 457.8h0M203.8 454.7h0M181.9 445.9h0M150.7 443.2h0M196.3 440h0M190.6 439.4h0M174 455.3h0M176.6 440.3h0M199.2 449.2h0M142.5 442.9h0M212.3 440.3h0M120.9 437.5h0M168.6 455.1h0M172.5 447.9h0M217.3 454.7h0M148.7 447.9h0M129.7 437.6h0M146.7 451.1h0M188.3 454.6h0M156.6 453.6h0M160.4 448.9h0M161.8 439.5h0M188.7 437.2h0M145.5 445h0M158.5 456.1h0M183.3 456.6h0M142.6 455h0M160.2 454.5h0M47.4 454.7h0M134.5 443h0M175.7 458.2h0M176.5 438.9h0M192.4 451.3h0M193.9 441.9h0M217.5 445.6h0M208.2 443.9h0M115.7 455.3h0M147.8 437.5h0M193.5 446.7h0M103.3 440.7h0M141 439.2h0M104.5 454.3h0M111.7 440.8h0M154.2 450.7h0M157 439.9h0M154.3 456h0M143.7 458.4h0M142.7 441.1h0M108.6 447.6h0M181.7 449.8h0M184.2 453.4h0M181.9 447.3h0M224.4 446h0M195.1 439.3h0M148.4 453.1h0M147 445.1h0M133 456.1h0M195.6 453.8h0M191.2 443.4h0M209 439.9h0M213.9 444.7h0M158.9 444.5h0M190.5 452h0M179.3 446.7h0M141.1 445.7h0M175.8 457.7h0M197.3 442.7h0M147.8 449.1h0M151.4 447.6h0M203.1 452.4h0M201.8 454.7h0M175.3 454.2h0M161.9 442.1h0M139.1 457.6h0M203.9 440.9h0M140.4 446.2h0M112 451.8h0M133.7 443.8h0M179.1 444.5h0M130.8 457.4h0M181.6 455.3h0M194.6 444.7h0M220.3 438.4h0M153.2 445.9h0M113.2 452.3h0M182.1 457.1h0M198.1 444.6h0M180.6 451.7h0M142.8 447h0M103.5 454.5h0M193 442.7h0M198.8 448.7h0M231.9 454.3h0M179.3 449.1h0M158.3 447.5h0M217.9 451h0M156.7 440.5h0M156.8 449.2h0M154.8 445.9h0M192.3 448.8h0M133.4 444.4h0M190.5 453.5h0M206.1 438.5h0M148.5 453.2h0M138.8 447h0M139.1 447.1h0M157.9 451.4h0M200 447.3h0M209.5 440.3h0M133.3 445.1h0" stroke="#bfbfbf" stroke-width="1.9" stroke-linecap="round"/>
<path d="M156.3 446.6h0M164.2 440.7h0M164.2 456.3h0M179.5 448.1h0M189.7 456.3h0M181.1 452.5h0M190.4 443.8h0M187.6 448.5h0M183.8 454.7h0M183.2 448.8h0M200.4 440.9h0M179 440.2h0M143.6 442.6h0M200.3 448.6h0M223.1 454.8h0M140.7 456.9h0M160.4 451.6h0M171.3 448h0M157.5 449.8h0M146.5 453.4h0M141.6 455.5h0M180.4 448.3h0M154.3 457.7h0M176.7 454.7h0M180.8 442.7h0M157.7 450.8h0M152.9 451.2h0M193.4 452.9h0M205.1 456h0M139.6 450.3h0M184.5 454.6h0M188.5 444.6h0M151.5 442.1h0M141.9 453.1h0M154.9 452.9h0M157.5 447.1h0M209.3 443.7h0M157.2 456.1h0M174.3 448.8h0M129.6 449.1h0M176.3 440.5h0M209.9 455.6h0M140.4 453.7h0M161.1 448.2h0M193.1 449.3h0M152.8 458.3h0M136.3 456.4h0M155 442.3h0M195.3 447.8h0M179.7 455.8h0M183.4 452.8h0M142.8 452.4h0M160.8 455.5h0M162.2 451.9h0M167.7 456.4h0M130.2 456.2h0M141.4 444.4h0M150 443.3h0M140.9 445.9h0M188.2 450.7h0M172.4 445.7h0M192.1 448.7h0M175.4 457.7h0M186.5 450.4h0M147.6 444.9h0M159.4 442.2h0M153.7 442.2h0M193.7 453.8h0M175.4 448.3h0M182.2 457.2h0M177.7 454.6h0M156.5 453.2h0M196.7 457.3h0M153.6 448.6h0M137 441.5h0M182.7 451.5h0M151.8 455.9h0M137.4 450.3h0M193.2 447.7h0M178.5 450h0M155.4 453.9h0M195.5 456.5h0M150.6 451.2h0M162 440.6h0M154.5 440.5h0M172.2 456.6h0M155.9 451.3h0M183.5 453.9h0M139.3 455.9h0M126 453.4h0M157.9 444.6h0M195.2 447h0M184.5 442.1h0M178.2 446.6h0M142 457.4h0M113.7 451.2h0M211.3 453.6h0M171.8 446.5h0M213.4 449.7h0M180.6 442.9h0M188.6 457.9h0M152.6 449.5h0M139.8 449.3h0M188.2 457h0M167.5 455.1h0M173.3 450.8h0M130.8 449.9h0M146.4 441.4h0M133.1 442.5h0M152.7 457h0M170.8 448.2h0M178.8 455.7h0M125.8 440.2h0M144.8 457.5h0M143.3 444.4h0M142.6 446h0M175.3 448h0M149.4 454.8h0M173.4 455.4h0M202.3 449h0M151.5 449.3h0M178.3 442.9h0M156 441.8h0M146.9 440.1h0M159.1 441.2h0M185.1 449.2h0M193.7 441.4h0M140.2 454.7h0M162.2 445.2h0M168.2 458.2h0M147.6 454.5h0M140.2 453.2h0M200.1 444h0M177.6 444h0M169.4 456.3h0M177.2 444.3h0M187.7 456.5h0M164 441.1h0M204.4 443.1h0M173.4 452.7h0M151.4 443.4h0M170.4 453h0M198.4 448.7h0M155.1 441.8h0M152 457.5h0M159.2 446.8h0M180.3 453.1h0M140.7 454.6h0M175.5 446.2h0M186.1 456.7h0M155.2 452.1h0M175.5 440.2h0M162.5 452.2h0M150.6 446.6h0M146.2 441h0M152 444.6h0M185.9 440h0M178.9 444.2h0M178.1 440.6h0M188.3 444.3h0M171.3 455.8h0M187.3 441.1h0M176 453h0M173 442.9h0M139.8 454.5h0M180.4 448h0M141.4 447.6h0M172.2 452.4h0M177 441.4h0M138.8 447.4h0M159 440.2h0M156.6 450.1h0M146 453.4h0M172.9 454.6h0M182.2 451.2h0M144.9 443.8h0M158.2 454.4h0M168.3 455.5h0M153.1 456.6h0M182.8 453.4h0M144.9 457.5h0M163.8 441.7h0M189.2 453.7h0M164.4 457.4h0M162.8 448.8h0M178.4 457.7h0M155.3 450.4h0M184.1 449.8h0M143 457.3h0M152.1 443.8h0M154.6 445.5h0M189.9 444.9h0M194.7 454.2h0M177.5 450.3h0M184.4 450.8h0M155 454.4h0M181.1 452.5h0M182.8 446.9h0M153.2 452.7h0M170.4 454.9h0M162.7 456.1h0M146.3 449.8h0M154.6 453.5h0M160.2 441.7h0M138.8 453.4h0M188.5 442.5h0M171.3 455.7h0M195.2 444.1h0M149.1 440.3h0M174.2 443h0M205.8 443.8h0M180.1 457h0M156.5 449.5h0M157.1 443.5h0M180.5 442.3h0M187.4 443.9h0M164.2 441h0M154.4 453.6h0M139.4 442.9h0M147.7 449.8h0M188 448.4h0M184 458h0M136 450.9h0M196.9 450.5h0M189.8 447.6h0M164.5 454.1h0M149.8 455.1h0M138.2 451.8h0M196.2 457.4h0M175.5 443.3h0M171.2 449.9h0M151.1 451.8h0M156.8 452.5h0M159.4 450.4h0M186.2 446.3h0M174.3 449.8h0M153.6 440.1h0M195.9 447.3h0M179.8 449.7h0M159.5 449h0M162 453.4h0M185.3 448.9h0M155.4 451.1h0M143.5 454.7h0M125.2 444.9h0M163 458.5h0M151.2 453.8h0M152.6 441.7h0M196.5 453.6h0M198.5 457.2h0M165.4 452.2h0M159.3 445.9h0M138.4 444.6h0M159.5 458.4h0M194 452.4h0M146.7 452h0M180.6 455.4h0M174.4 456.1h0M173.3 443.7h0M181.9 454h0" stroke="#c2c2c2" stroke-width="2.0" stroke-linecap="round"/>
<path d="M144 362h0M146 359.7h0M144.3 354h0M145 349.9h0M143.3 356.9h0M144.1 352.6h0M149.4 349.3h0M144.1 357h0M140.7 353.9h0M142.5 360.6h0M148.8 355.8h0M149 359.5h0M140.2 360.5h0M142.2 361.3h0M147.8 351.1h0M141.5 356.6h0M143.5 354.7h0M141.9 362h0M147.1 359h0M147.1 351.2h0M147.7 350.8h0M141.5 355.4h0M141 351.5h0M145.9 359.6h0M141.8 350h0M149.8 350.5h0M145.9 357.2h0M147 348.9h0M149.4 355.8h0M142.6 354.5h0M143.5 354.9h0M144.5 349h0M141.4 349.7h0M148.4 354.6h0M147.8 355.1h0M149 350.9h0M145.3 355.5h0M146.5 350.8h0M143.8 355.3h0M144.1 361.1h0" stroke="#c4c4c4" stroke-width="1.5" stroke-linecap="round"/>
<path d="M142.1 345h0M140.3 344.7h0M135.6 348.3h0M139.1 350h0M140.4 352h0M136.5 352h0M134.8 350.9h0M131.6 352h0M136.9 352.7h0M140.3 354.9h0M138.8 355.2h0M137.1 355.2h0M141.7 356.4h0M140.5 356.6h0M136.7 356.2h0M130.6 357h0M142.1 357.9h0M134.8 358.2h0M141.7 359.5h0M136.7 360h0M135.7 359.7h0M132.4 359.9h0M141.6 361.6h0M140.2 361.8h0M138.8 361.2h0M137.5 361.7h0M135.6 361.6h0M128.5 361.6h0M142.1 363.2h0M140.4 363.3h0M138.3 363.8h0M135.6 363.9h0M133.9 363.7h0M142 365.3h0M139.9 364.6h0M138.9 365.3h0M134.8 365.3h0M131.3 365.2h0M142.1 366.4h0M140.9 366.3h0M139 366.8h0M133.6 367.3h0M126.8 367h0M125.3 367h0M142.1 368.7h0M140.8 368.7h0M137.4 368.4h0M135.5 368.7h0M133.3 368.5h0M129.6 369.1h0M128.8 368h0M141.7 370.5h0M140.2 369.9h0M138.7 370.1h0M136.6 370.5h0M133.5 370.1h0M131.9 369.6h0M139.8 372.2h0M138.9 371.5h0M136.9 372h0M134.7 371.9h0M132 371.9h0M128.5 371.7h0M126.3 371.8h0M124.7 372.2h0M142.1 374h0M140.8 373.9h0M139.1 373.3h0M137.3 373.6h0M132 373.9h0M127.9 373.5h0M141.7 375.8h0M139.2 375.7h0M137.2 375.4h0M135 375.6h0M131.3 374.8h0M142.1 377.4h0M140.1 377h0M139 377h0M137.1 377.3h0M134.8 377.6h0M133.2 376.8h0M131.5 377.5h0M130.6 377.4h0M128.9 376.5h0M141.9 378.8h0M140.1 378.4h0M138.2 379.3h0M136.5 378.2h0M135.4 379h0M133.3 378.4h0M131.9 378.2h0M120 378.5h0M141.7 380.2h0M140.3 381h0M138.8 380.1h0M136.4 380.5h0M134 380.1h0M131.7 380.2h0M125.6 380.4h0M142 382.1h0M140 382h0M138.1 382h0M137.4 382.7h0M135.4 382.6h0M131.9 381.6h0M130.5 382.6h0M128.7 382.4h0M118.2 381.9h0M142.1 383.5h0M139 383.6h0M137 384.1h0M135.1 383.4h0M133.9 384h0M128.9 383.6h0M127.3 383.6h0M125.6 384.1h0M119.7 383.8h0M142.1 385h0M140.8 385.4h0M138.3 386h0M136.7 385.1h0M135.1 385.2h0M132 386.1h0M130.3 385h0M126.8 385.6h0M122.1 385.7h0M142 387.1h0M140.1 387h0M138.9 387.3h0M136.8 386.6h0M135 387.6h0M123.6 387.6h0M141.7 388.8h0M140 389.3h0M137.4 388.6h0M135.2 389.5h0M133.3 389h0M130.7 388.9h0M128.6 388.9h0M127.2 388.3h0M125.2 388.5h0M123.7 388.5h0M121.5 388.8h0M118.6 388.3h0M140.1 390.1h0M138.2 390.2h0M137 390.8h0M135.1 391.2h0M133.4 390.4h0M131.5 390.7h0M130.4 390.4h0M127.9 390h0M117.9 390.4h0M141.8 392.4h0M140.6 392.6h0M138.4 392.7h0M137.4 392h0M135.1 392.7h0M133.7 392.7h0M131.9 392.3h0M130.2 392.4h0M128.5 392.1h0M127 392.7h0M121.5 392h0M120.1 391.9h0M142.1 394.4h0M140.2 394.2h0M138.9 393.5h0M133.4 394.2h0M130.1 394h0M128.9 394.2h0M123.1 394.2h0M121.7 394h0M118.3 393.5h0M141.8 395.4h0M138.2 395.4h0M136.9 395.2h0M135.5 395.5h0M133.2 395.4h0M132.3 395.7h0M130.6 395.5h0M128.7 396h0M125.5 395.3h0M141.9 397.7h0M140.1 397.6h0M138.3 397.5h0M137 397.8h0M135.7 397h0M134 396.8h0M132.3 397.1h0M128.8 398h0M113.7 398h0M142.1 398.7h0M140.3 399.2h0M138.1 399.1h0M136.5 399h0M134.9 399.4h0M133.5 399.2h0M132.2 398.5h0M130.5 399.3h0M122.2 399.4h0M142 401.2h0M140.8 400.2h0M138.9 400.8h0M136.7 401h0M133.9 400.7h0M131.9 401.2h0M129.6 401.1h0M124.7 400.3h0M123.4 400.6h0M111.5 400.8h0M142.1 402.5h0M140.4 403h0M138.2 403h0M136.4 402.3h0M135.4 402h0M133.8 402.7h0M131.7 402h0M129.7 402.5h0M123 402.6h0M118.7 402h0M140.9 404.5h0M138.4 403.7h0M136.9 404.1h0M130.6 403.7h0M128.9 404.2h0M141.9 405.4h0M138.9 405.7h0M135.1 405.4h0M133.7 406.1h0M131.8 405.8h0M129.6 405.9h0M128.7 405.6h0M124.9 405.7h0M141.8 407.5h0M138.9 407.5h0M137.5 407.3h0M134.8 407.1h0M133 407.9h0M131.6 408h0M130.5 408.2h0M126.4 408h0M124.9 407.7h0M142.1 408.8h0M140.9 409.1h0M135.7 409.8h0M133.3 409.3h0M127 408.8h0M123.6 408.7h0M142.1 411h0M140 411h0M138.4 411h0M137 411.2h0M135.6 411.4h0M133.5 410.8h0M132.4 410.5h0M130 410.6h0M109.8 411.2h0M142 412.3h0M140.7 413.2h0M138.8 412.6h0M136.7 412.7h0M135 412.3h0M133.7 412.8h0M132 412.6h0M128 412.6h0M127.1 413h0M117.8 413.2h0M112.8 413.1h0M141.7 414.1h0M140.3 414.6h0M138.4 414.9h0M137.3 414.3h0M134.7 413.8h0M131.8 413.9h0M129 413.9h0M127.2 414.9h0M123.7 414.8h0M118.3 414h0M116.6 414.6h0M113.6 414.4h0M141.5 415.9h0M139.8 416.7h0M138.7 415.6h0M137 416h0M134.8 415.8h0M133.2 416.6h0M132.4 416.5h0M128.8 416.4h0M123.8 416.4h0M119.6 415.6h0M118.2 415.5h0M115.4 416.4h0M141.6 417.5h0M140.5 417.6h0M138.5 418h0M134.8 418.3h0M133 418.1h0M131.4 418.3h0M128.8 417.4h0M121.9 417.7h0M118 418.2h0M115.3 417.4h0M142.1 420h0M139.8 419.8h0M138.5 420h0M137 419.2h0M135.5 419.8h0M133 419.7h0M131.3 419.4h0M128.9 419.6h0M125.5 419.4h0M123.5 419.7h0M120.1 419.1h0M116.8 419.5h0M138.8 421.3h0M136.8 420.8h0M135.2 421.1h0M133.4 421.4h0M132.3 421.3h0M130.3 421.7h0M128.3 421.7h0M122.9 421.4h0M141.8 423.5h0M139.9 422.6h0M138.8 422.6h0M137.2 423.2h0M135.7 422.6h0M133.4 423.3h0M131.9 422.9h0M130.4 423.3h0M128.8 422.7h0M126.4 422.7h0M123.2 422.4h0M116.1 423.2h0M141.9 425.1h0M139.9 424.4h0M138.6 424.6h0M136.7 424.9h0M135.4 424.8h0M133.9 424.7h0M131.4 424.1h0M129.8 424.5h0M128.5 424.6h0M125.4 425h0M123.6 424.5h0M118.4 424.5h0M115.1 424.8h0M142.1 425.8h0M140.3 426.8h0M139 426.4h0M136.5 426.8h0M135.3 426h0M133.8 425.9h0M132 426.4h0M129.8 426.8h0M121.3 426.1h0M120.1 426.5h0M142.1 427.6h0M140.7 428.3h0M138.2 427.6h0M135.7 428.3h0M133.9 427.9h0M128.1 428.1h0M126.5 427.6h0M121.1 427.5h0M142 429.4h0M139.8 430.3h0M138.6 430.1h0M135.5 429.6h0M133.1 429.4h0M132.2 429.2h0M130.1 429.4h0M128.7 429.8h0M125.2 429.6h0M123.2 429.4h0M121.3 430.1h0M119.6 429.2h0M142.1 431h0M140.7 431.9h0M138.4 431.2h0M136.4 431.7h0M135.6 431.9h0M133.3 431.9h0M131.9 431.5h0M130.4 432h0M128.7 431.2h0M126.2 431.3h0M123.5 431.1h0M121.6 431.5h0M118.1 431.6h0M142.1 433.3h0M140.4 432.9h0M138.2 432.6h0M136.6 433.2h0M134.7 433.4h0M133.9 433.2h0M132.1 432.9h0M130.5 432.9h0M128.5 432.7h0M120.1 433.1h0M118.8 433.5h0M114.8 433.5h0M142.1 434.7h0M140.5 434.5h0M138.5 435.3h0M137.2 434.6h0M134.7 435.3h0M133.2 434.9h0M131.9 434.7h0M129.7 434.6h0M127 434.5h0M123.7 434.5h0M115.4 434.3h0M142.1 436.5h0M140 435.9h0M138.8 436.4h0M136.9 436h0M135 436.5h0M133.9 436.4h0M131.7 436.7h0M130.3 436.2h0M123.1 436.4h0M121.5 436.3h0M140.8 438.2h0M138.3 438.8h0M136.6 438.6h0M135.4 437.6h0M133 438.4h0M131.5 437.8h0M130.7 438.2h0M128 437.8h0M124.5 438.8h0M119.5 438.3h0M113.1 437.6h0" stroke="#4d4fb6" stroke-width="2.1" stroke-linecap="round"/>
<path d="M121.6 348h0M134.7 348h0M137.2 347.6h0M141.2 343.2h0M93.8 356.9h0M99.4 359.8h0M103.9 361.4h0M91.4 366.5h0M101.8 371.7h0M103.4 383.4h0M97 387.4h0M98.6 388.7h0M103.9 391.9h0M113.1 399.9h0M96.2 421.1h0M97.8 427.5h0M92.2 435.9h0M106.6 423.5h0M110.7 429.1h0M115.5 362.5h0M124.3 355.3h0M127.5 358.5h0M131.5 358.5h0M137.2 356.9h0M140.4 361.7h0M128.3 366.5h0M133.1 370.5h0M115.5 380.2h0M110.7 390.6h0M115.5 388.2h0M120.3 389.8h0M113.1 411.5h0M109.9 415.5h0" stroke="#4d4fb6" stroke-width="2.1" stroke-linecap="round"/>
<path d="M193.2 344.3h0M193.2 346.1h0M197.7 346.8h0M193.4 347.6h0M201.5 348h0M205.2 348.7h0M202.1 349.9h0M215.3 350.1h0M195.4 351.8h0M196.6 351.5h0M208.2 351.6h0M193.4 353.6h0M203.3 352.7h0M205.4 352.6h0M193.2 355.5h0M195.2 355.2h0M196.4 354.6h0M198.3 354.7h0M202.8 354.9h0M212.2 355h0M215.5 354.4h0M193.7 356.9h0M194.3 357.1h0M196.9 356.6h0M202.9 356.6h0M211.5 357.1h0M213.7 357.1h0M193.2 358h0M195.1 358.5h0M196.5 357.7h0M200.1 357.9h0M210.2 358.4h0M193.2 359.9h0M194.4 359.5h0M197.8 360.6h0M199.6 360.4h0M201.3 360h0M205.2 360h0M206.3 359.8h0M212 360.4h0M213.6 360.1h0M193.2 361.9h0M194.9 361.9h0M196.7 361.2h0M198.7 361.3h0M199.5 362h0M201.3 361.5h0M207 361.6h0M211.4 361.1h0M193.2 363.8h0M194.7 363.7h0M196.1 363.3h0M198.2 362.8h0M200.1 363.8h0M201.5 363h0M203.4 363.8h0M207.1 363.8h0M210.5 362.9h0M193.2 365.1h0M194.7 365.6h0M197.1 365.6h0M197.9 365.2h0M199.6 364.9h0M202 364.9h0M203.6 364.6h0M204.9 365.6h0M206.9 365.2h0M208.9 365.6h0M220.5 365h0M193.2 366.6h0M195.2 366.9h0M196.2 366.8h0M198.1 366.7h0M199.9 367h0M201.5 366.5h0M203.7 366.6h0M205.5 366.5h0M206.9 367.3h0M210.4 366.6h0M215.1 367.2h0M193.2 368.3h0M196.8 368.3h0M198.3 368h0M199.9 368.8h0M201.4 368.1h0M203.8 368.9h0M204.8 368.2h0M208.7 369.1h0M210.5 368.3h0M211.6 368.1h0M215.7 368.9h0M221.6 369.1h0M193.4 370.6h0M194.9 370.7h0M196.3 369.6h0M197.9 370.1h0M200.4 370h0M201.6 370.7h0M203.5 370.4h0M205.4 370.6h0M206.8 369.9h0M210.5 370h0M218.4 370.7h0M193.4 371.4h0M194.9 372.5h0M196.3 372.2h0M198.8 371.6h0M200.4 371.8h0M201.4 371.4h0M203.6 372.3h0M205.4 372.3h0M208.8 372.2h0M210 371.5h0M215.4 371.3h0M193.2 374.1h0M194.7 374.1h0M197 373h0M198.5 373.1h0M200.4 373.8h0M201.9 373.5h0M202.8 373.5h0M205.1 373.1h0M206.9 374.2h0M218.7 374.1h0M224.3 373.9h0M193.4 374.7h0M194.8 375.1h0M197 374.7h0M198.7 375h0M200.1 375.9h0M201.6 375.5h0M203 375h0M204.8 375.6h0M209.7 375.8h0M213.1 375.4h0M193.2 377.5h0M194.9 377.1h0M196.6 376.5h0M197.7 377.2h0M200 376.9h0M201.7 376.6h0M203.5 377.1h0M205.4 377.4h0M206.4 376.8h0M210.6 377h0M193.5 378.3h0M195.1 378.1h0M196.2 378.5h0M199.8 379.2h0M201.7 379h0M203.1 378.2h0M204.6 378.4h0M208.8 379.2h0M210.5 379.1h0M211.6 378.8h0M213.2 378.2h0M227 379h0M193.2 380.8h0M194.6 380.2h0M196.2 381h0M198 380.6h0M200.3 379.9h0M202.1 380.1h0M203 380h0M205 380.7h0M206.9 379.9h0M210.5 380.8h0M193.2 381.6h0M195.2 381.6h0M197 381.7h0M200.2 381.6h0M202.2 382.4h0M203.7 381.7h0M205 382h0M210.1 382.1h0M225.5 381.9h0M193.6 383.7h0M195.3 383.5h0M196.2 384.3h0M198.1 384h0M199.8 383.8h0M203.4 384.2h0M205.4 383.7h0M209 384.2h0M209.8 384.2h0M211.9 383.4h0M216.8 383.5h0M193.2 385.2h0M195.4 385.2h0M196.7 385h0M197.7 385h0M199.6 386h0M201.5 385.8h0M202.9 385.5h0M205.4 385.1h0M210.5 385h0M212.4 384.9h0M193.2 386.7h0M195.4 386.9h0M196.9 386.7h0M197.9 387h0M199.5 387.3h0M201.2 386.8h0M203.3 387.3h0M206.4 387.1h0M211.3 387h0M215 386.9h0M220.1 386.6h0M193.5 388.4h0M194.8 389.5h0M196.8 388.9h0M197.8 389.1h0M200.3 389.5h0M201.7 388.5h0M203.4 388.5h0M204.5 388.6h0M207.3 388.6h0M208 388.3h0M210.7 388.7h0M213.9 388.6h0M221.7 389.1h0M193.3 390.3h0M194.6 390h0M197.1 390.2h0M200.1 390.1h0M201.2 390.8h0M203.4 390.3h0M205.3 391.1h0M211.7 390.6h0M213 391h0M193.3 392.8h0M194.9 392.2h0M197.1 392.5h0M198.8 392.8h0M200.3 392.3h0M202.1 392.9h0M203.4 391.7h0M205.1 392.4h0M207.3 392.4h0M214 391.9h0M193.2 394.4h0M194.7 393.9h0M196.2 394.2h0M198.1 393.9h0M200.3 393.7h0M202.1 393.5h0M202.9 394.5h0M204.8 394.2h0M206.3 393.6h0M209.9 394h0M220 394.1h0M193.7 395.9h0M195.3 395.5h0M196 395.7h0M199.9 395.6h0M201.6 395.6h0M203 395.2h0M204.6 396.2h0M206.8 395.3h0M208.6 395.1h0M193.2 397.5h0M194.3 397.6h0M196.6 397h0M197.7 396.9h0M199.6 397.3h0M202.2 397.1h0M203.2 397.2h0M205.3 396.9h0M206.3 397.8h0M208 397.7h0M209.9 397.3h0M211.8 397h0M213.7 397.3h0M215.4 397.6h0M193.2 398.7h0M195.1 398.9h0M196.5 399.4h0M199.6 398.8h0M201.4 398.9h0M203.9 399.5h0M205.1 398.8h0M206.5 399.2h0M208.9 399h0M217.5 399.1h0M218.6 399.7h0M193.2 400.4h0M195.3 400.6h0M197 401h0M198.6 401.3h0M200.2 401.2h0M201.5 401.1h0M203.4 400.5h0M205.4 400.3h0M206.6 400.7h0M213.2 400.6h0M217.5 400.3h0M193.2 402.1h0M196.5 402.8h0M197.7 402.9h0M200.4 402.6h0M204.6 402.2h0M207.1 403.1h0M207.9 402.5h0M215.4 403.1h0M193.5 404.1h0M195.4 404.4h0M196.8 403.7h0M198.3 404.5h0M199.9 403.8h0M201.3 403.8h0M203.3 403.9h0M205.5 404h0M206.3 404.7h0M208 403.7h0M215.1 404.8h0M220.2 403.6h0M193.4 405.4h0M194.3 405.6h0M196.7 406h0M198.3 406.1h0M202.1 406h0M203.8 406.1h0M205.1 406.4h0M206.3 406.1h0M210.1 405.5h0M215.1 406h0M193.2 408h0M195 407.6h0M196.1 407.6h0M197.8 407.6h0M199.4 408.1h0M201.1 408.2h0M202.9 408.1h0M206.5 407.4h0M208.8 407.4h0M210.6 407.8h0M218.5 408.1h0M220.6 407.6h0M193.6 409.4h0M194.4 408.8h0M196.8 408.9h0M198.2 409.5h0M200.3 409.7h0M201.9 409.9h0M203.4 408.8h0M204.7 409.2h0M206.2 409.6h0M208.9 409.7h0M209.6 409.4h0M219 408.8h0M193.2 410.5h0M194.8 411.6h0M196.2 410.9h0M198.6 411h0M200 411.4h0M201.2 410.8h0M203.9 410.4h0M205.2 411.6h0M206.9 410.7h0M209.6 410.4h0M211.9 410.5h0M213.7 410.7h0M215.7 410.9h0M193.2 413.1h0M196 412.5h0M198 412.2h0M199.4 412.7h0M202.2 412.8h0M203.2 412.3h0M204.6 412.4h0M206.8 412.5h0M208.1 413.1h0M210 413.2h0M213.2 412.2h0M214.8 413.1h0M193.2 414.4h0M195.3 414.6h0M196.6 414.5h0M199.5 414.3h0M201.4 415h0M202.8 414.9h0M204.5 414.6h0M207.2 414.3h0M219.2 414.1h0M195.3 416.4h0M197 416.2h0M198.2 416.2h0M200.3 416.6h0M202 416.7h0M202.8 415.8h0M205 415.5h0M206.4 415.8h0M208.6 416.2h0M211.6 416.2h0M214 415.5h0M218.5 416h0M193.2 418h0M195.3 417.7h0M197 418.1h0M198 418.1h0M199.8 417.9h0M202.2 417.5h0M203.5 417.9h0M205 417.7h0M206.5 417.8h0M213.4 417.5h0M193.2 419.4h0M195.1 419h0M196.8 420.1h0M197.9 419.5h0M199.7 419.7h0M202.1 419.9h0M203.5 418.9h0M205.5 419.7h0M206.2 419.8h0M211.4 420h0M193.2 421.5h0M195.2 421.2h0M196.5 421.1h0M197.7 420.9h0M199.4 421.4h0M201.8 420.8h0M203.3 421.8h0M205.6 420.9h0M206.6 421.7h0M216.6 421.3h0M219.9 421.7h0M193.2 423.1h0M195.4 422.6h0M196.4 422.9h0M198.5 422.7h0M199.8 422.3h0M202 423.2h0M203.2 422.8h0M205.2 423.4h0M207.3 423.3h0M209 422.4h0M211.6 422.8h0M213.3 422.3h0M215.6 422.8h0M193.6 424.1h0M195.3 425h0M196.1 424.6h0M197.8 424.1h0M199.5 425.2h0M202 424.9h0M202.9 424.2h0M204.6 424.1h0M207.1 424.6h0M208.3 424.9h0M211.7 425.1h0M216.4 424.9h0M193.7 426.6h0M195.1 426.4h0M196.6 426.4h0M197.7 426.1h0M202 425.8h0M205.1 425.9h0M206.4 425.8h0M209.8 426.4h0M213.2 426.5h0M193.7 428.6h0M195.1 428.4h0M196.1 428h0M198.4 427.7h0M200.2 427.6h0M201.8 428.2h0M203.2 427.6h0M204.9 428.3h0M206.4 428.4h0M210.7 428.5h0M213.2 427.8h0M193.2 429.3h0M195 430.2h0M197.7 429.9h0M199.4 429.9h0M202 429.3h0M202.8 429.7h0M205.4 429.6h0M206.6 430.1h0M210.6 430.1h0M193.2 431.6h0M195.3 431.5h0M197.1 431.4h0M198 431.1h0M200.3 431.4h0M202.2 431.7h0M203.8 431.7h0M205.1 431h0M206.4 431.1h0M209.6 431.7h0M193.2 433.6h0M194.5 433.2h0M196 433.2h0M198.6 433.3h0M199.9 433.5h0M201.8 433.2h0M202.8 433.1h0M205.2 433.3h0M206.2 433.5h0M209.8 433.5h0M193.2 434.2h0M195.3 435h0M196.8 434.7h0M197.9 434.3h0M199.7 435.3h0M201.9 434.4h0M203.2 434.5h0M204.9 435.4h0M206.2 435.1h0M210.1 434.6h0M193.2 436.8h0M195.1 436.8h0M196.7 436.3h0M198.3 436.7h0M200.3 436.4h0M202 436.4h0M203.2 436.5h0M205.4 436.7h0M207.2 436.9h0M208.8 436h0M193.2 438.7h0M195.1 438.6h0M196.8 437.7h0M198.2 438.7h0M199.5 438.4h0M202.2 438.5h0M203.7 438.3h0M204.6 438.6h0M209.8 438.7h0" stroke="#e0331f" stroke-width="2.1" stroke-linecap="round"/>
<path d="M225 340.9h0M208.7 343.4h0M195.9 344.4h0M200.8 345.6h0M226.7 349.1h0M235.8 352.6h0M237.6 356.1h0M237.2 358.4h0M231.4 357.9h0M238.1 361.4h0M244.6 372.8h0M239 412.2h0M227.9 410.5h0M237.2 427.1h0M253.7 429.7h0M254.7 432h0M262.1 433.8h0M270 438h0M252.4 436.7h0M239 438.5h0M230.9 438h0M220.9 434.1h0M223.5 429.7h0M220 426.2h0M230.2 379.8h0M230.2 371.9h0M228.8 368.4h0M227.9 392.1h0M225.6 386.8h0M221.8 399.1h0M230.9 349.1h0M214.8 360.5h0M213.9 364h0M216.5 368.4h0M220.9 372.8h0M213 355.3h0M202.5 350h0" stroke="#e0331f" stroke-width="2.1" stroke-linecap="round"/>
<path d="M146.8 358.5L137.2 368.9" stroke="#222" stroke-width="0.6" fill="none"/>
<text x="106.6" y="348" font-size="6.9" stroke="#1a1a1a" stroke-width="0.12">AGT</text>
<text x="69.7" y="355.6" font-size="6.9" stroke="#1a1a1a" stroke-width="0.12">RPH3A</text>
<text x="103.9" y="359.3" font-size="6.9" stroke="#1a1a1a" stroke-width="0.12">KIF20A</text>
<text x="81" y="362.5" font-size="6.9" stroke="#1a1a1a" stroke-width="0.12">LNP1</text>
<text x="57.3" y="368.1" font-size="6.9" stroke="#1a1a1a" stroke-width="0.12">ARHGDIB</text>
<text x="112.3" y="368.1" font-size="6.9" stroke="#1a1a1a" stroke-width="0.12">PLK1</text>
<text x="74.5" y="374.2" font-size="6.9" stroke="#1a1a1a" stroke-width="0.12">IGFBP3</text>
<text x="98.6" y="379" font-size="6.9" stroke="#1a1a1a" stroke-width="0.12">CD3EAP</text>
<text x="83.4" y="382.3" font-size="6.9" stroke="#1a1a1a" stroke-width="0.12">VSIG2</text>
<text x="85" y="388.2" font-size="6.9" stroke="#1a1a1a" stroke-width="0.12">ID1</text>
<text x="70.2" y="396.2" font-size="6.9" stroke="#1a1a1a" stroke-width="0.12">ARHGDIG</text>
<text x="96.7" y="403.4" font-size="6.9" stroke="#1a1a1a" stroke-width="0.12">IL33</text>
<text x="143.4" y="351.5" font-size="6.9" stroke="#1a1a1a" stroke-width="0.12">HNRNPU</text>
<text x="146.9" y="359.2" font-size="6.9" stroke="#1a1a1a" stroke-width="0.12">CDC20</text>
<text x="227" y="341.6" font-size="6.9" stroke="#1a1a1a" stroke-width="0.12">SAT1</text>
<text x="210.4" y="346.5" font-size="6.9" stroke="#1a1a1a" stroke-width="0.12">TP53INP1</text>
<text x="230.2" y="351.4" font-size="6.9" stroke="#1a1a1a" stroke-width="0.12">LOXL4</text>
<text x="196.9" y="356.1" font-size="6.9" stroke="#1a1a1a" stroke-width="0.12">SOLGB1</text>
<text x="191.1" y="360.5" font-size="6.9" stroke="#1a1a1a" stroke-width="0.12">HEXDC</text>
<text x="240.7" y="359.7" font-size="6.9" stroke="#1a1a1a" stroke-width="0.12">CDKN1C</text>
<text x="239.7" y="364.9" font-size="6.9" stroke="#1a1a1a" stroke-width="0.12">CDKN1A</text>
<text x="216.5" y="367.5" font-size="6.9" stroke="#1a1a1a" stroke-width="0.12">VGF</text>
<text x="246.7" y="374.9" font-size="6.9" stroke="#1a1a1a" stroke-width="0.12">KIAA1683</text>
<text x="241.4" y="414.5" font-size="6.9" stroke="#1a1a1a" stroke-width="0.12">CYBA</text>
<rect x="42.5" y="336.5" width="260.5" height="125.2" fill="none" stroke="#3a3a3a" stroke-width="1.2"/>
<path d="M64 461.7v2.6M168.5 461.7v2.6M273 461.7v2.6M42.5 458.5h-3.2M42.5 404.8h-3.2M42.5 351h-3.2" stroke="#3a3a3a" stroke-width="1.1"/>
<text x="61.8" y="473.7" font-size="9.2" text-anchor="middle" fill="#4d4d4d" stroke="#4d4d4d" stroke-width="0.12">−2.5</text>
<text x="168.5" y="473.7" font-size="9.2" text-anchor="middle" fill="#4d4d4d" stroke="#4d4d4d" stroke-width="0.12">0</text>
<text x="273" y="473.7" font-size="9.2" text-anchor="middle" fill="#4d4d4d" stroke="#4d4d4d" stroke-width="0.12">2.5</text>
<text x="36.9" y="461.8" font-size="9.2" text-anchor="end" fill="#4d4d4d" stroke="#4d4d4d" stroke-width="0.12">0</text>
<text x="36.9" y="408" font-size="9.2" text-anchor="end" fill="#4d4d4d" stroke="#4d4d4d" stroke-width="0.12">5</text>
<text x="36.9" y="354.2" font-size="9.2" text-anchor="end" fill="#4d4d4d" stroke="#4d4d4d" stroke-width="0.12">10</text>
<text x="178.4" y="331.6" font-size="9.3" text-anchor="middle" stroke="#1a1a1a" stroke-width="0.12">HSJD-DIPG007</text>
<text x="47.2" y="345.8" font-size="9.3" stroke="#1a1a1a" stroke-width="0.12">n=436</text>
<text x="302" y="346.9" font-size="9.3" text-anchor="end" stroke="#1a1a1a" stroke-width="0.12">n=654</text>
<text x="24.9" y="403.2" font-size="9.3" text-anchor="middle" stroke="#1a1a1a" stroke-width="0.12" transform="rotate(-90 24.9 403.2)">−log10(P.value)</text>
<text x="88.6" y="474.8" font-size="9.3" stroke="#1a1a1a" stroke-width="0.12">logFC (T-C)</text>
<circle cx="54" cy="491" r="2.4" fill="#c9b24a" stroke="#8080e0" stroke-width="1"/>
<text x="62.8" y="494.6" font-size="9.3" stroke="#1a1a1a" stroke-width="0.12">Downregulated</text>
<circle cx="157.6" cy="491.3" r="2.6" fill="#c8c8c8"/>
<text x="163.7" y="494.6" font-size="9.3" stroke="#1a1a1a" stroke-width="0.12">Not Sig</text>
<circle cx="226" cy="491.3" r="2.1" fill="#e1302c"/>
<text x="233.5" y="494.6" font-size="9.3" stroke="#1a1a1a" stroke-width="0.12">Upregulated</text>
<text x="347.8" y="16.1" font-size="16.8" font-weight="bold" fill="#000">B</text>
<defs><clipPath id="c426g"><circle cx="426.4" cy="47.4" r="27.4"/></clipPath><clipPath id="c426p"><circle cx="456.8" cy="47.6" r="27.4"/></clipPath></defs>
<circle cx="426.4" cy="47.4" r="27.4" fill="#9fbf8f"/>
<circle cx="456.8" cy="47.6" r="27.4" fill="#ecc5ec"/>
<circle cx="441.0" cy="74.6" r="27.4" fill="#f3f3a3"/>
<circle cx="456.8" cy="47.6" r="27.4" fill="#b98fbd" clip-path="url(#c426g)"/>
<circle cx="441.0" cy="74.6" r="27.4" fill="#92cc62" clip-path="url(#c426g)"/>
<circle cx="441.0" cy="74.6" r="27.4" fill="#f3bcc3" clip-path="url(#c426p)"/>
<g clip-path="url(#c426g)"><circle cx="441.0" cy="74.6" r="27.4" fill="#bf949c" clip-path="url(#c426p)"/></g>
<circle cx="426.4" cy="47.4" r="27.4" fill="none" stroke="#111" stroke-width="1.1"/>
<circle cx="456.8" cy="47.6" r="27.4" fill="none" stroke="#111" stroke-width="1.1"/>
<circle cx="441.0" cy="74.6" r="27.4" fill="none" stroke="#111" stroke-width="1.1"/>
<text x="444.3" y="16.6" font-size="9.3" text-anchor="middle" font-weight="bold" fill="#111">Downregulated</text>
<text x="412.8" y="48.9" font-size="9.35" text-anchor="middle" fill="#111" stroke="#111" stroke-width="0.12">2292</text>
<text x="441.2" y="44.8" font-size="9.35" text-anchor="middle" fill="#111" stroke="#111" stroke-width="0.12">229</text>
<text x="472.7" y="48.2" font-size="9.35" text-anchor="middle" fill="#111" stroke="#111" stroke-width="0.12">719</text>
<text x="440.8" y="60" font-size="9.35" text-anchor="middle" font-weight="bold" fill="#111">95</text>
<text x="424.1" y="69.7" font-size="9.35" text-anchor="middle" fill="#111" stroke="#111" stroke-width="0.12">71</text>
<text x="456" y="70.4" font-size="9.35" text-anchor="middle" fill="#111" stroke="#111" stroke-width="0.12">93</text>
<text x="441.2" y="96.8" font-size="9.35" text-anchor="middle" fill="#111" stroke="#111" stroke-width="0.12">177</text>
<defs><clipPath id="c530g"><circle cx="530.9" cy="48.7" r="27.4"/></clipPath><clipPath id="c530p"><circle cx="561.3" cy="48.7" r="27.4"/></clipPath></defs>
<circle cx="530.9" cy="48.7" r="27.4" fill="#9fbf8f"/>
<circle cx="561.3" cy="48.7" r="27.4" fill="#ecc5ec"/>
<circle cx="545.5" cy="75.3" r="27.4" fill="#f3f3a3"/>
<circle cx="561.3" cy="48.7" r="27.4" fill="#b98fbd" clip-path="url(#c530g)"/>
<circle cx="545.5" cy="75.3" r="27.4" fill="#92cc62" clip-path="url(#c530g)"/>
<circle cx="545.5" cy="75.3" r="27.4" fill="#f3bcc3" clip-path="url(#c530p)"/>
<g clip-path="url(#c530g)"><circle cx="545.5" cy="75.3" r="27.4" fill="#bf949c" clip-path="url(#c530p)"/></g>
<circle cx="530.9" cy="48.7" r="27.4" fill="none" stroke="#111" stroke-width="1.1"/>
<circle cx="561.3" cy="48.7" r="27.4" fill="none" stroke="#111" stroke-width="1.1"/>
<circle cx="545.5" cy="75.3" r="27.4" fill="none" stroke="#111" stroke-width="1.1"/>
<text x="545.7" y="16.6" font-size="9.3" text-anchor="middle" font-weight="bold" fill="#111">Upregulated</text>
<text x="515.3" y="50" font-size="9.35" text-anchor="middle" fill="#111" stroke="#111" stroke-width="0.12">2640</text>
<text x="545.8" y="46.1" font-size="9.35" text-anchor="middle" fill="#111" stroke="#111" stroke-width="0.12">423</text>
<text x="575.6" y="51.4" font-size="9.35" text-anchor="middle" fill="#111" stroke="#111" stroke-width="0.12">814</text>
<text x="545.8" y="62.1" font-size="9.35" text-anchor="middle" font-weight="bold" fill="#111">141</text>
<text x="530.5" y="70.8" font-size="9.35" text-anchor="middle" fill="#111" stroke="#111" stroke-width="0.12">112</text>
<text x="561" y="70.8" font-size="9.35" text-anchor="middle" fill="#111" stroke="#111" stroke-width="0.12">159</text>
<text x="545.5" y="97.7" font-size="9.35" text-anchor="middle" fill="#111" stroke="#111" stroke-width="0.12">242</text>
<circle cx="618.8" cy="33.6" r="5.2" fill="#9fbf8f" stroke="#555" stroke-width="0.9"/>
<text x="625.3" y="36.9" font-size="9.3" fill="#222" stroke="#222" stroke-width="0.12">DIPGXIII</text>
<circle cx="618.8" cy="47.7" r="5.2" fill="#ecc5ec" stroke="#555" stroke-width="0.9"/>
<text x="625.3" y="51" font-size="9.3" fill="#222" stroke="#222" stroke-width="0.12">DIPGXVII</text>
<circle cx="618.8" cy="61.7" r="5.2" fill="#f3f3a3" stroke="#555" stroke-width="0.9"/>
<text x="625.3" y="65" font-size="9.3" fill="#222" stroke="#222" stroke-width="0.12">DIPG7</text>
<text x="351.2" y="132.2" font-size="16.8" font-weight="bold" fill="#000">C</text>
<path d="M481.6 141.5V287.9M525.5 141.5V287.9M569 141.5V287.9M471.4 154.2H612.4M471.4 168.1H612.4M471.4 182.1H612.4M471.4 196H612.4M471.4 209.9H612.4M471.4 223.8H612.4M471.4 237.8H612.4M471.4 251.7H612.4M471.4 265.6H612.4M471.4 279.6H612.4" stroke="#ebebeb" stroke-width="0.9" fill="none"/>
<circle cx="581.8" cy="154.2" r="5.8" fill="#a6f0d9"/>
<circle cx="566.7" cy="168.1" r="5.8" fill="#a6e6eb"/>
<circle cx="566.7" cy="182.1" r="5.8" fill="#a6e6eb"/>
<circle cx="556.4" cy="196" r="5.8" fill="#98ea80"/>
<circle cx="546.2" cy="209.9" r="5.8" fill="#a6ebe2"/>
<circle cx="525.7" cy="223.8" r="5.8" fill="#93e04c"/>
<circle cx="523.3" cy="237.8" r="5.8" fill="#a6e6eb"/>
<circle cx="523.3" cy="251.7" r="5.8" fill="#a6e6eb"/>
<circle cx="520.8" cy="265.6" r="5.8" fill="#a2eec0"/>
<circle cx="505.4" cy="279.6" r="5.8" fill="#93e04c"/>
<rect x="471.4" y="141.5" width="141" height="146.4" fill="none" stroke="#222" stroke-width="1.1"/>
<text x="543.7" y="137.2" font-size="9.5" text-anchor="middle" font-weight="bold" fill="#111">Upregulated by FB232</text>
<text x="465.3" y="155.6" font-size="9.4" text-anchor="end" stroke="#1a1a1a" stroke-width="0.12">transport</text>
<text x="465.3" y="169.5" font-size="9.4" text-anchor="end" stroke="#1a1a1a" stroke-width="0.12">regulation of signaling</text>
<text x="465.3" y="183.5" font-size="9.4" text-anchor="end" stroke="#1a1a1a" stroke-width="0.12">cell communication</text>
<text x="465.3" y="197.4" font-size="9.4" text-anchor="end" stroke="#1a1a1a" stroke-width="0.12">cellular localization</text>
<text x="465.3" y="211.3" font-size="9.4" text-anchor="end" stroke="#1a1a1a" stroke-width="0.12">signal transduction</text>
<text x="465.3" y="225.2" font-size="9.4" text-anchor="end" stroke="#1a1a1a" stroke-width="0.12">response to organic substance</text>
<text x="465.3" y="239.2" font-size="9.4" text-anchor="end" stroke="#1a1a1a" stroke-width="0.12">cytoplasmic vesicle</text>
<text x="465.3" y="253.1" font-size="9.4" text-anchor="end" stroke="#1a1a1a" stroke-width="0.12">intracellular vesicle</text>
<text x="465.3" y="267" font-size="9.4" text-anchor="end" stroke="#1a1a1a" stroke-width="0.12">organic substance transport</text>
<text x="465.3" y="282.2" font-size="9.4" text-anchor="end" stroke="#1a1a1a" stroke-width="0.12">cellular response to organic</text>
<text x="465.3" y="292.2" font-size="9.4" text-anchor="end" stroke="#1a1a1a" stroke-width="0.12">substance</text>
<text x="481.4" y="301.3" font-size="9.0" text-anchor="middle" fill="#4d4d4d" stroke="#4d4d4d" stroke-width="0.12">0.2</text>
<text x="568.8" y="301.3" font-size="9.0" text-anchor="middle" fill="#4d4d4d" stroke="#4d4d4d" stroke-width="0.12">0.4</text>
<text x="618" y="150.3" font-size="9.4" stroke="#1a1a1a" stroke-width="0.12">Count</text>
<circle cx="623.2" cy="159.7" r="5.1" fill="#000"/>
<text x="631.8" y="163.6" font-size="9.4" fill="#222" stroke="#222" stroke-width="0.12">20</text>
<circle cx="623.2" cy="173.5" r="5.8" fill="#000"/>
<text x="631.8" y="177.8" font-size="9.4" fill="#222" stroke="#222" stroke-width="0.12">30</text>
<circle cx="623.2" cy="187.9" r="6.5" fill="#000"/>
<text x="631.8" y="192.3" font-size="9.4" fill="#222" stroke="#222" stroke-width="0.12">40</text>
<text x="616.7" y="212.3" font-size="9.4" stroke="#1a1a1a" stroke-width="0.12">p.adjust</text>
<defs><linearGradient id="cb1" x1="0" y1="0" x2="0" y2="1"><stop offset="0" stop-color="#dcec2c"/><stop offset="0.3" stop-color="#a6e035"/><stop offset="0.55" stop-color="#8fe070"/><stop offset="0.8" stop-color="#a2ecc6"/><stop offset="1" stop-color="#a6e4ea"/></linearGradient></defs>
<rect x="616.7" y="219" width="12.6" height="67.6" fill="url(#cb1)"/>
<text x="633.7" y="231.4" font-size="9.2" fill="#222" stroke="#222" stroke-width="0.12">0.04</text>
<text x="633.7" y="247.2" font-size="9.2" fill="#222" stroke="#222" stroke-width="0.12">0.03</text>
<text x="633.7" y="263" font-size="9.2" fill="#222" stroke="#222" stroke-width="0.12">0.02</text>
<text x="633.7" y="277.9" font-size="9.2" fill="#222" stroke="#222" stroke-width="0.12">0.01</text>
<path d="M626.8 228.2h2.5M626.8 244h2.5M626.8 259.8h2.5M626.8 274.7h2.5" stroke="#333" stroke-width="0.8"/>
<path d="M499.2 322.5V474.1M534.7 322.5V474.1M570.1 322.5V474.1M605.6 322.5V474.1M469.7 331.6H612M469.7 346.4H612M469.7 361.1H612M469.7 375.9H612M469.7 390.6H612M469.7 405.4H612M469.7 420.2H612M469.7 434.9H612M469.7 449.7H612M469.7 464.4H612" stroke="#ebebeb" stroke-width="0.9" fill="none"/>
<circle cx="589.7" cy="331.6" r="4.4" fill="#a8f0d6"/>
<circle cx="589.7" cy="346.4" r="4.4" fill="#a2eeb2"/>
<circle cx="581.3" cy="361.1" r="5.5" fill="#9ae85a"/>
<circle cx="581.3" cy="375.9" r="5.5" fill="#93dd2a"/>
<circle cx="577.4" cy="390.6" r="4.4" fill="#a2eeb8"/>
<circle cx="564.3" cy="405.4" r="4.8" fill="#aae032"/>
<circle cx="554.4" cy="420.2" r="4.4" fill="#a2f0c2"/>
<circle cx="529.4" cy="434.9" r="4.6" fill="#a8f0d8"/>
<circle cx="529.4" cy="449.7" r="4.8" fill="#c8ec32"/>
<circle cx="518.2" cy="464.4" r="4.6" fill="#a6e032"/>
<rect x="469.7" y="322.5" width="142.3" height="151.6" fill="none" stroke="#222" stroke-width="1.1"/>
<text x="543.4" y="318.9" font-size="9.5" text-anchor="middle" font-weight="bold" fill="#111">Downregulated by FB232</text>
<path d="M469.7 331.6h-3M469.7 346.4h-3M469.7 361.1h-3M469.7 375.9h-3M469.7 390.6h-3M469.7 405.4h-3M469.7 420.2h-3M469.7 434.9h-3M469.7 449.7h-3M469.7 464.4h-3" stroke="#333" stroke-width="1"/>
<text x="462.4" y="335.6" font-size="9.4" text-anchor="end" stroke="#1a1a1a" stroke-width="0.12">Cell cycle</text>
<text x="462.4" y="350.4" font-size="9.4" text-anchor="end" stroke="#1a1a1a" stroke-width="0.12">Spliceosome</text>
<text x="462.4" y="365.1" font-size="9.4" text-anchor="end" stroke="#1a1a1a" stroke-width="0.12">chromosome organization</text>
<text x="462.4" y="379.9" font-size="9.4" text-anchor="end" stroke="#1a1a1a" stroke-width="0.12">cell division</text>
<text x="462.4" y="394.6" font-size="9.4" text-anchor="end" stroke="#1a1a1a" stroke-width="0.12">mRNA processing</text>
<text x="462.4" y="409.4" font-size="9.4" text-anchor="end" stroke="#1a1a1a" stroke-width="0.12">mRNA Splicing − Major Pathway</text>
<text x="462.4" y="424.2" font-size="9.4" text-anchor="end" stroke="#1a1a1a" stroke-width="0.12">G1 to S cell cycle control</text>
<text x="462.4" y="438.9" font-size="9.4" text-anchor="end" stroke="#1a1a1a" stroke-width="0.12">spliceosomal complex</text>
<text x="462.4" y="453.7" font-size="9.4" text-anchor="end" stroke="#1a1a1a" stroke-width="0.12">condensed chromosome</text>
<text x="462.4" y="468.4" font-size="9.4" text-anchor="end" stroke="#1a1a1a" stroke-width="0.12">kinetochore</text>
<text x="534.7" y="488.4" font-size="9.0" text-anchor="middle" fill="#4d4d4d" stroke="#4d4d4d" stroke-width="0.12">0.1</text>
<text x="605.6" y="488.4" font-size="9.0" text-anchor="middle" fill="#4d4d4d" stroke="#4d4d4d" stroke-width="0.12">0.2</text>
<text x="618.5" y="333" font-size="9.4" stroke="#1a1a1a" stroke-width="0.12">Count</text>
<circle cx="623.9" cy="342.6" r="5.3" fill="#000"/>
<text x="631.1" y="346.2" font-size="9.4" fill="#222" stroke="#222" stroke-width="0.12">10</text>
<circle cx="623.9" cy="357.7" r="6.8" fill="#000"/>
<text x="632.4" y="362.6" font-size="9.4" fill="#222" stroke="#222" stroke-width="0.12">20</text>
<text x="618.5" y="397.8" font-size="9.4" stroke="#1a1a1a" stroke-width="0.12">p.adjust</text>
<defs><linearGradient id="cb2" x1="0" y1="0" x2="0" y2="1"><stop offset="0" stop-color="#dcec2c"/><stop offset="0.3" stop-color="#a6e035"/><stop offset="0.55" stop-color="#8fe070"/><stop offset="0.8" stop-color="#a2ecc6"/><stop offset="1" stop-color="#a6e4ea"/></linearGradient></defs>
<rect x="618.5" y="405.1" width="13.1" height="67.5" fill="url(#cb2)"/>
<text x="635.6" y="417" font-size="9.2" fill="#222" stroke="#222" stroke-width="0.12">0.04</text>
<text x="635.6" y="432.7" font-size="9.2" fill="#222" stroke="#222" stroke-width="0.12">0.03</text>
<text x="635.6" y="448.5" font-size="9.2" fill="#222" stroke="#222" stroke-width="0.12">0.02</text>
<text x="635.6" y="463.5" font-size="9.2" fill="#222" stroke="#222" stroke-width="0.12">0.01</text>
<path d="M629.1 413.8h2.5M629.1 429.5h2.5M629.1 445.3h2.5M629.1 460.3h2.5" stroke="#333" stroke-width="0.8"/>
<text x="468.7" y="488.4" font-size="9.4" stroke="#1a1a1a" stroke-width="0.12">GeneRatio</text>
<text x="1.6" y="517.1" font-size="16.8" font-weight="bold" fill="#000">D</text>
<text transform="translate(27.9 555.8) rotate(-90) scale(0.94 1)" font-size="7.3" fill="#111" stroke="#111" stroke-width="0.18">SERPINE1</text>
<text transform="translate(33.8 555.8) rotate(-90) scale(0.94 1)" font-size="7.3" fill="#111" stroke="#111" stroke-width="0.18">SLC2A3</text>
<text transform="translate(39.7 555.8) rotate(-90) scale(0.94 1)" font-size="7.3" font-weight="bold" fill="#111" stroke="#111" stroke-width="0.18">GADD45B</text>
<text transform="translate(45.6 555.8) rotate(-90) scale(0.94 1)" font-size="7.3" fill="#111" stroke="#111" stroke-width="0.18">KLF2</text>
<text transform="translate(51.5 555.8) rotate(-90) scale(0.94 1)" font-size="7.3" fill="#111" stroke="#111" stroke-width="0.18">VASN</text>
<text transform="translate(57.4 555.8) rotate(-90) scale(0.94 1)" font-size="7.3" font-weight="bold" fill="#111" stroke="#111" stroke-width="0.18">CDKN1A</text>
<text transform="translate(63.3 555.8) rotate(-90) scale(0.94 1)" font-size="7.3" fill="#111" stroke="#111" stroke-width="0.18">GDF15</text>
<text transform="translate(69.2 555.8) rotate(-90) scale(0.94 1)" font-size="7.3" fill="#111" stroke="#111" stroke-width="0.18">FABP3</text>
<text transform="translate(75.1 555.8) rotate(-90) scale(0.94 1)" font-size="7.3" fill="#111" stroke="#111" stroke-width="0.18">C5orf223</text>
<text transform="translate(81 555.8) rotate(-90) scale(0.94 1)" font-size="7.3" fill="#111" stroke="#111" stroke-width="0.18">ACSS2</text>
<text transform="translate(86.9 555.8) rotate(-90) scale(0.94 1)" font-size="7.3" fill="#111" stroke="#111" stroke-width="0.18">EPS8L2</text>
<text transform="translate(92.8 555.8) rotate(-90) scale(0.94 1)" font-size="7.3" fill="#111" stroke="#111" stroke-width="0.18">OSGIN1</text>
<text transform="translate(98.7 555.8) rotate(-90) scale(0.94 1)" font-size="7.3" fill="#111" stroke="#111" stroke-width="0.18">DDIT3</text>
<text transform="translate(104.6 555.8) rotate(-90) scale(0.94 1)" font-size="7.3" fill="#111" stroke="#111" stroke-width="0.18">ITGA3</text>
<text transform="translate(110.5 555.8) rotate(-90) scale(0.94 1)" font-size="7.3" fill="#111" stroke="#111" stroke-width="0.18">LBH</text>
<text transform="translate(116.4 555.8) rotate(-90) scale(0.94 1)" font-size="7.3" fill="#111" stroke="#111" stroke-width="0.18">MICALL2</text>
<text transform="translate(122.3 555.8) rotate(-90) scale(0.94 1)" font-size="7.3" fill="#111" stroke="#111" stroke-width="0.18">SAT1</text>
<text transform="translate(128.2 555.8) rotate(-90) scale(0.94 1)" font-size="7.3" fill="#111" stroke="#111" stroke-width="0.18">ARID5A</text>
<text transform="translate(134.1 555.8) rotate(-90) scale(0.94 1)" font-size="7.3" fill="#111" stroke="#111" stroke-width="0.18">IRAK2</text>
<text transform="translate(140 555.8) rotate(-90) scale(0.94 1)" font-size="7.3" fill="#111" stroke="#111" stroke-width="0.18">PGM2L1</text>
<text transform="translate(145.9 555.8) rotate(-90) scale(0.94 1)" font-size="7.3" fill="#111" stroke="#111" stroke-width="0.18">MXD1</text>
<text transform="translate(151.8 555.8) rotate(-90) scale(0.94 1)" font-size="7.3" fill="#111" stroke="#111" stroke-width="0.18">BAIAP3</text>
<text transform="translate(157.7 555.8) rotate(-90) scale(0.94 1)" font-size="7.3" font-weight="bold" fill="#111" stroke="#111" stroke-width="0.18">SESN2</text>
<text transform="translate(163.6 555.8) rotate(-90) scale(0.94 1)" font-size="7.3" fill="#111" stroke="#111" stroke-width="0.18">TFRC</text>
<text transform="translate(169.5 555.8) rotate(-90) scale(0.94 1)" font-size="7.3" fill="#111" stroke="#111" stroke-width="0.18">NPC1</text>
<text transform="translate(175.4 555.8) rotate(-90) scale(0.94 1)" font-size="7.3" fill="#111" stroke="#111" stroke-width="0.18">JUND</text>
<text transform="translate(181.3 555.8) rotate(-90) scale(0.94 1)" font-size="7.3" font-weight="bold" fill="#111" stroke="#111" stroke-width="0.18">BBC3</text>
<text transform="translate(187.2 555.8) rotate(-90) scale(0.94 1)" font-size="7.3" fill="#111" stroke="#111" stroke-width="0.18">WIPI1</text>
<text transform="translate(193.1 555.8) rotate(-90) scale(0.94 1)" font-size="7.3" font-weight="bold" fill="#111" stroke="#111" stroke-width="0.18">CDKN2D</text>
<text transform="translate(199 555.8) rotate(-90) scale(0.94 1)" font-size="7.3" fill="#111" stroke="#111" stroke-width="0.18">MVD</text>
<text transform="translate(204.9 555.8) rotate(-90) scale(0.94 1)" font-size="7.3" fill="#111" stroke="#111" stroke-width="0.18">NEU1</text>
<text transform="translate(210.8 555.8) rotate(-90) scale(0.94 1)" font-size="7.3" fill="#111" stroke="#111" stroke-width="0.18">BRICD5</text>
<text transform="translate(216.7 555.8) rotate(-90) scale(0.94 1)" font-size="7.3" fill="#111" stroke="#111" stroke-width="0.18">PCK2</text>
<text transform="translate(222.6 555.8) rotate(-90) scale(0.94 1)" font-size="7.3" fill="#111" stroke="#111" stroke-width="0.18">SNAI3−AS1</text>
<text transform="translate(228.5 555.8) rotate(-90) scale(0.94 1)" font-size="7.3" fill="#111" stroke="#111" stroke-width="0.18">TMEM59L</text>
<text transform="translate(234.4 555.8) rotate(-90) scale(0.94 1)" font-size="7.3" fill="#111" stroke="#111" stroke-width="0.18">INSIG1</text>
<text transform="translate(240.3 555.8) rotate(-90) scale(0.94 1)" font-size="7.3" fill="#111" stroke="#111" stroke-width="0.18">IRF7</text>
<text transform="translate(246.2 555.8) rotate(-90) scale(0.94 1)" font-size="7.3" fill="#111" stroke="#111" stroke-width="0.18">DNHD1</text>
<text transform="translate(252.1 555.8) rotate(-90) scale(0.94 1)" font-size="7.3" fill="#111" stroke="#111" stroke-width="0.18">ASIC3</text>
<text transform="translate(258 555.8) rotate(-90) scale(0.94 1)" font-size="7.3" fill="#111" stroke="#111" stroke-width="0.18">ARRDC3</text>
<text transform="translate(263.9 555.8) rotate(-90) scale(0.94 1)" font-size="7.3" fill="#111" stroke="#111" stroke-width="0.18">KLHL24</text>
<text transform="translate(269.8 555.8) rotate(-90) scale(0.94 1)" font-size="7.3" fill="#111" stroke="#111" stroke-width="0.18">EIF2AK3</text>
<text transform="translate(275.7 555.8) rotate(-90) scale(0.94 1)" font-size="7.3" fill="#111" stroke="#111" stroke-width="0.18">HIST1H2BD</text>
<text transform="translate(281.6 555.8) rotate(-90) scale(0.94 1)" font-size="7.3" fill="#111" stroke="#111" stroke-width="0.18">ZSWIM4</text>
<text transform="translate(287.5 555.8) rotate(-90) scale(0.94 1)" font-size="7.3" fill="#111" stroke="#111" stroke-width="0.18">LTBR</text>
<text transform="translate(293.4 555.8) rotate(-90) scale(0.94 1)" font-size="7.3" fill="#111" stroke="#111" stroke-width="0.18">RGS2</text>
<text transform="translate(299.3 555.8) rotate(-90) scale(0.94 1)" font-size="7.3" fill="#111" stroke="#111" stroke-width="0.18">AL008721.2</text>
<text transform="translate(305.2 555.8) rotate(-90) scale(0.94 1)" font-size="7.3" font-weight="bold" fill="#111" stroke="#111" stroke-width="0.18">HDAC5</text>
<text transform="translate(311.1 555.8) rotate(-90) scale(0.94 1)" font-size="7.3" font-weight="bold" fill="#111" stroke="#111" stroke-width="0.18">HECA</text>
<text transform="translate(317 555.8) rotate(-90) scale(0.94 1)" font-size="7.3" fill="#111" stroke="#111" stroke-width="0.18">SLC29A4</text>
<text transform="translate(322.9 555.8) rotate(-90) scale(0.94 1)" font-size="7.3" fill="#111" stroke="#111" stroke-width="0.18">LZTS3</text>
<text transform="translate(328.8 555.8) rotate(-90) scale(0.94 1)" font-size="7.3" fill="#111" stroke="#111" stroke-width="0.18">YPEL3</text>
<text transform="translate(334.7 555.8) rotate(-90) scale(0.94 1)" font-size="7.3" fill="#111" stroke="#111" stroke-width="0.18">KDELR3</text>
<text transform="translate(340.6 555.8) rotate(-90) scale(0.94 1)" font-size="7.3" fill="#111" stroke="#111" stroke-width="0.18">PNRC1</text>
<text transform="translate(346.5 555.8) rotate(-90) scale(0.94 1)" font-size="7.3" fill="#111" stroke="#111" stroke-width="0.18">SLC5A3</text>
<text transform="translate(352.4 555.8) rotate(-90) scale(0.94 1)" font-size="7.3" fill="#111" stroke="#111" stroke-width="0.18">SCGB1</text>
<text transform="translate(358.3 555.8) rotate(-90) scale(0.94 1)" font-size="7.3" fill="#111" stroke="#111" stroke-width="0.18">SLC9A3−AS1</text>
<text transform="translate(364.2 555.8) rotate(-90) scale(0.94 1)" font-size="7.3" fill="#111" stroke="#111" stroke-width="0.18">HIST2H2BE</text>
<text transform="translate(370.1 555.8) rotate(-90) scale(0.94 1)" font-size="7.3" fill="#111" stroke="#111" stroke-width="0.18">HSD17B7P2</text>
<text transform="translate(376 555.8) rotate(-90) scale(0.94 1)" font-size="7.3" fill="#111" stroke="#111" stroke-width="0.18">UPK3BL1</text>
<text transform="translate(381.9 555.8) rotate(-90) scale(0.94 1)" font-size="7.3" fill="#111" stroke="#111" stroke-width="0.18">CAPG</text>
<text transform="translate(387.8 555.8) rotate(-90) scale(0.94 1)" font-size="7.3" fill="#111" stroke="#111" stroke-width="0.18">AL049840.1</text>
<text transform="translate(393.7 555.8) rotate(-90) scale(0.94 1)" font-size="7.3" fill="#111" stroke="#111" stroke-width="0.18">MFGE8</text>
<text transform="translate(399.6 555.8) rotate(-90) scale(0.94 1)" font-size="7.3" fill="#111" stroke="#111" stroke-width="0.18">SLC6A6</text>
<text transform="translate(405.5 555.8) rotate(-90) scale(0.94 1)" font-size="7.3" fill="#111" stroke="#111" stroke-width="0.18">ZNF844</text>
<text transform="translate(411.4 555.8) rotate(-90) scale(0.94 1)" font-size="7.3" fill="#111" stroke="#111" stroke-width="0.18">ZNF404</text>
<text transform="translate(417.3 555.8) rotate(-90) scale(0.94 1)" font-size="7.3" fill="#111" stroke="#111" stroke-width="0.18">FAM214A</text>
<text transform="translate(423.2 555.8) rotate(-90) scale(0.94 1)" font-size="7.3" fill="#111" stroke="#111" stroke-width="0.18">GPR68B</text>
<text transform="translate(429.1 555.8) rotate(-90) scale(0.94 1)" font-size="7.3" fill="#111" stroke="#111" stroke-width="0.18">GRN</text>
<text transform="translate(435 555.8) rotate(-90) scale(0.94 1)" font-size="7.3" fill="#111" stroke="#111" stroke-width="0.18">AC068281.2</text>
<text transform="translate(440.9 555.8) rotate(-90) scale(0.94 1)" font-size="7.3" fill="#111" stroke="#111" stroke-width="0.18">MT−RNR2</text>
<text transform="translate(446.8 555.8) rotate(-90) scale(0.94 1)" font-size="7.3" fill="#111" stroke="#111" stroke-width="0.18">CIC</text>
<text transform="translate(452.7 555.8) rotate(-90) scale(0.94 1)" font-size="7.3" fill="#111" stroke="#111" stroke-width="0.18">AC092368.3</text>
<text transform="translate(458.6 555.8) rotate(-90) scale(0.94 1)" font-size="7.3" fill="#111" stroke="#111" stroke-width="0.18">CTXN2</text>
<text transform="translate(464.5 555.8) rotate(-90) scale(0.94 1)" font-size="7.3" fill="#111" stroke="#111" stroke-width="0.18">FAM86B1</text>
<text transform="translate(470.4 555.8) rotate(-90) scale(0.94 1)" font-size="7.3" fill="#111" stroke="#111" stroke-width="0.18">MAN2C1</text>
<text transform="translate(476.3 555.8) rotate(-90) scale(0.94 1)" font-size="7.3" fill="#111" stroke="#111" stroke-width="0.18">SLC22A17</text>
<text transform="translate(482.2 555.8) rotate(-90) scale(0.94 1)" font-size="7.3" fill="#111" stroke="#111" stroke-width="0.18">UBE2H</text>
<text transform="translate(488.1 555.8) rotate(-90) scale(0.94 1)" font-size="7.3" fill="#111" stroke="#111" stroke-width="0.18">LPAR2</text>
<text transform="translate(494 555.8) rotate(-90) scale(0.94 1)" font-size="7.3" fill="#111" stroke="#111" stroke-width="0.18">GOLGA2</text>
<text transform="translate(499.9 555.8) rotate(-90) scale(0.94 1)" font-size="7.3" fill="#111" stroke="#111" stroke-width="0.18">ZC3H6</text>
<text transform="translate(505.8 555.8) rotate(-90) scale(0.94 1)" font-size="7.3" fill="#111" stroke="#111" stroke-width="0.18">STXBP1</text>
<text transform="translate(511.7 555.8) rotate(-90) scale(0.94 1)" font-size="7.3" fill="#111" stroke="#111" stroke-width="0.18">TOM1L2</text>
<text transform="translate(517.6 555.8) rotate(-90) scale(0.94 1)" font-size="7.3" fill="#111" stroke="#111" stroke-width="0.18">TTC25</text>
<text transform="translate(523.5 555.8) rotate(-90) scale(0.94 1)" font-size="7.3" fill="#111" stroke="#111" stroke-width="0.18">CHKB</text>
<text transform="translate(529.4 555.8) rotate(-90) scale(0.94 1)" font-size="7.3" fill="#111" stroke="#111" stroke-width="0.18">PLIN5</text>
<text transform="translate(535.3 555.8) rotate(-90) scale(0.94 1)" font-size="7.3" fill="#111" stroke="#111" stroke-width="0.18">AC068888.1</text>
<text transform="translate(541.2 555.8) rotate(-90) scale(0.94 1)" font-size="7.3" fill="#111" stroke="#111" stroke-width="0.18">TP53INP1</text>
<text transform="translate(547.1 555.8) rotate(-90) scale(0.94 1)" font-size="7.3" fill="#111" stroke="#111" stroke-width="0.18">GSDME</text>
<text transform="translate(553 555.8) rotate(-90) scale(0.94 1)" font-size="7.3" fill="#111" stroke="#111" stroke-width="0.18">AC020765.2</text>
<text transform="translate(558.9 555.8) rotate(-90) scale(0.94 1)" font-size="7.3" fill="#111" stroke="#111" stroke-width="0.18">AC004520.1</text>
<text transform="translate(564.8 555.8) rotate(-90) scale(0.94 1)" font-size="7.3" fill="#111" stroke="#111" stroke-width="0.18">TST</text>
<text transform="translate(570.7 555.8) rotate(-90) scale(0.94 1)" font-size="7.3" fill="#111" stroke="#111" stroke-width="0.18">LIME1</text>
<text transform="translate(576.6 555.8) rotate(-90) scale(0.94 1)" font-size="7.3" fill="#111" stroke="#111" stroke-width="0.18">ZER1</text>
<text transform="translate(582.5 555.8) rotate(-90) scale(0.94 1)" font-size="7.3" fill="#111" stroke="#111" stroke-width="0.18">SMIM29</text>
<text transform="translate(588.4 555.8) rotate(-90) scale(0.94 1)" font-size="7.3" fill="#111" stroke="#111" stroke-width="0.18">STX5</text>
<text transform="translate(594.3 555.8) rotate(-90) scale(0.94 1)" font-size="7.3" fill="#111" stroke="#111" stroke-width="0.18">PGPEP1</text>
<text transform="translate(600.2 555.8) rotate(-90) scale(0.94 1)" font-size="7.3" fill="#111" stroke="#111" stroke-width="0.18">MIB2</text>
<text transform="translate(606.1 555.8) rotate(-90) scale(0.94 1)" font-size="7.3" fill="#111" stroke="#111" stroke-width="0.18">TTC17</text>
<text transform="translate(612 555.8) rotate(-90) scale(0.94 1)" font-size="7.3" fill="#111" stroke="#111" stroke-width="0.18">PINK1</text>
<text transform="translate(617.9 555.8) rotate(-90) scale(0.94 1)" font-size="7.3" fill="#111" stroke="#111" stroke-width="0.18">SC5D</text>
<text transform="translate(623.8 555.8) rotate(-90) scale(0.94 1)" font-size="7.3" fill="#111" stroke="#111" stroke-width="0.18">THOC6</text>
<text transform="translate(629.7 555.8) rotate(-90) scale(0.94 1)" font-size="7.3" fill="#111" stroke="#111" stroke-width="0.18">CARD8</text>
<text transform="translate(635.6 555.8) rotate(-90) scale(0.94 1)" font-size="7.3" fill="#111" stroke="#111" stroke-width="0.18">CRTC1</text>
<text transform="translate(641.5 555.8) rotate(-90) scale(0.94 1)" font-size="7.3" fill="#111" stroke="#111" stroke-width="0.18">STARD4</text>
<text transform="translate(647.4 555.8) rotate(-90) scale(0.94 1)" font-size="7.3" fill="#111" stroke="#111" stroke-width="0.18">CLCN5</text>
<text transform="translate(653.3 555.8) rotate(-90) scale(0.94 1)" font-size="7.3" fill="#111" stroke="#111" stroke-width="0.18">PLAU</text>
<text transform="translate(659.2 555.8) rotate(-90) scale(0.94 1)" font-size="7.3" fill="#111" stroke="#111" stroke-width="0.18">PTP4A3</text>
<text transform="translate(665.1 555.8) rotate(-90) scale(0.94 1)" font-size="7.3" font-weight="bold" fill="#111" stroke="#111" stroke-width="0.18">HEXDC</text>
<text transform="translate(671 555.8) rotate(-90) scale(0.94 1)" font-size="7.3" font-weight="bold" fill="#111" stroke="#111" stroke-width="0.18">CCNG2</text>
<text transform="translate(676.9 555.8) rotate(-90) scale(0.94 1)" font-size="7.3" fill="#111" stroke="#111" stroke-width="0.18">PHLDB3</text>
<text transform="translate(682.8 555.8) rotate(-90) scale(0.94 1)" font-size="7.3" fill="#111" stroke="#111" stroke-width="0.18">KSR1</text>
<rect x="22.9" y="559.2" width="660.8" height="7.2" fill="#f6c9aa"/>
<rect x="317.9" y="559.2" width="6" height="7.2" fill="#e9963a"/>
<rect x="371" y="559.2" width="6" height="7.2" fill="#e9963a"/>
<rect x="418.2" y="559.2" width="6" height="7.2" fill="#e9963a"/>
<rect x="447.7" y="559.2" width="6" height="7.2" fill="#e9963a"/>
<rect x="471.3" y="559.2" width="6" height="7.2" fill="#e9963a"/>
<rect x="483.1" y="559.2" width="6" height="7.2" fill="#e9963a"/>
<rect x="494.9" y="559.2" width="35.5" height="7.2" fill="#e9963a"/>
<rect x="536.2" y="559.2" width="6" height="7.2" fill="#e9963a"/>
<rect x="577.5" y="559.2" width="6" height="7.2" fill="#e9963a"/>
<rect x="589.3" y="559.2" width="6" height="7.2" fill="#e9963a"/>
<rect x="601.1" y="559.2" width="6" height="7.2" fill="#e9963a"/>
<rect x="654.2" y="559.2" width="6" height="7.2" fill="#e9963a"/>
<rect x="677.8" y="559.2" width="6" height="7.2" fill="#f8eedd"/>
<rect x="22.9" y="566.4" width="660.8" height="7.2" fill="#f6c9aa"/>
<rect x="182.2" y="566.4" width="6" height="7.2" fill="#e9963a"/>
<rect x="217.6" y="566.4" width="6" height="7.2" fill="#e9963a"/>
<rect x="247.1" y="566.4" width="6" height="7.2" fill="#e9963a"/>
<rect x="282.5" y="566.4" width="6" height="7.2" fill="#e9963a"/>
<rect x="312" y="566.4" width="6" height="7.2" fill="#e9963a"/>
<rect x="353.3" y="566.4" width="6" height="7.2" fill="#e9963a"/>
<rect x="371" y="566.4" width="6" height="7.2" fill="#e9963a"/>
<rect x="406.4" y="566.4" width="6" height="7.2" fill="#e9963a"/>
<rect x="424.1" y="566.4" width="6" height="7.2" fill="#e9963a"/>
<rect x="459.5" y="566.4" width="11.9" height="7.2" fill="#e9963a"/>
<rect x="489" y="566.4" width="6" height="7.2" fill="#e9963a"/>
<rect x="518.5" y="566.4" width="11.9" height="7.2" fill="#e9963a"/>
<rect x="553.9" y="566.4" width="6" height="7.2" fill="#f8eedd"/>
<rect x="565.7" y="566.4" width="23.7" height="7.2" fill="#e9963a"/>
<rect x="630.6" y="566.4" width="6" height="7.2" fill="#e9963a"/>
<rect x="671.9" y="566.4" width="6" height="7.2" fill="#e9963a"/>
<rect x="22.9" y="573.6" width="660.8" height="7.2" fill="#f6c9aa"/>
<rect x="111.4" y="573.6" width="6" height="7.2" fill="#e9963a"/>
<rect x="199.9" y="573.6" width="17.8" height="7.2" fill="#e9963a"/>
<rect x="329.7" y="573.6" width="6" height="7.2" fill="#e9963a"/>
<rect x="341.5" y="573.6" width="6" height="7.2" fill="#e9963a"/>
<rect x="365.1" y="573.6" width="6" height="7.2" fill="#e9963a"/>
<rect x="376.9" y="573.6" width="11.9" height="7.2" fill="#e9963a"/>
<rect x="418.2" y="573.6" width="6" height="7.2" fill="#f8eedd"/>
<rect x="430" y="573.6" width="6" height="7.2" fill="#e9963a"/>
<rect x="494.9" y="573.6" width="6" height="7.2" fill="#f8eedd"/>
<rect x="518.5" y="573.6" width="6" height="7.2" fill="#f8eedd"/>
<rect x="542.1" y="573.6" width="23.7" height="7.2" fill="#e9963a"/>
<rect x="595.2" y="573.6" width="6" height="7.2" fill="#e9963a"/>
<rect x="607" y="573.6" width="6" height="7.2" fill="#e9963a"/>
<rect x="618.8" y="573.6" width="11.9" height="7.2" fill="#e9963a"/>
<rect x="660.1" y="573.6" width="6" height="7.2" fill="#e9963a"/>
<rect x="677.8" y="573.6" width="6" height="7.2" fill="#e9963a"/>
<rect x="22.9" y="580.8" width="660.8" height="7.2" fill="#dbb6ef"/>
<rect x="70.1" y="580.8" width="6" height="7.2" fill="#9a54d4"/>
<rect x="87.8" y="580.8" width="6" height="7.2" fill="#9a54d4"/>
<rect x="146.8" y="580.8" width="6" height="7.2" fill="#9a54d4"/>
<rect x="188.1" y="580.8" width="6" height="7.2" fill="#9a54d4"/>
<rect x="211.7" y="580.8" width="17.8" height="7.2" fill="#9a54d4"/>
<rect x="235.3" y="580.8" width="6" height="7.2" fill="#9a54d4"/>
<rect x="270.7" y="580.8" width="6" height="7.2" fill="#9a54d4"/>
<rect x="282.5" y="580.8" width="6" height="7.2" fill="#9a54d4"/>
<rect x="323.8" y="580.8" width="6" height="7.2" fill="#9a54d4"/>
<rect x="376.9" y="580.8" width="6" height="7.2" fill="#9a54d4"/>
<rect x="400.5" y="580.8" width="17.8" height="7.2" fill="#9a54d4"/>
<rect x="430" y="580.8" width="6" height="7.2" fill="#9a54d4"/>
<rect x="447.7" y="580.8" width="6" height="7.2" fill="#9a54d4"/>
<rect x="459.5" y="580.8" width="11.9" height="7.2" fill="#9a54d4"/>
<rect x="483.1" y="580.8" width="11.9" height="7.2" fill="#9a54d4"/>
<rect x="506.7" y="580.8" width="6" height="7.2" fill="#9a54d4"/>
<rect x="524.4" y="580.8" width="11.9" height="7.2" fill="#f0e4f8"/>
<rect x="548" y="580.8" width="11.9" height="7.2" fill="#f0e4f8"/>
<rect x="565.7" y="580.8" width="11.9" height="7.2" fill="#9a54d4"/>
<rect x="589.3" y="580.8" width="6" height="7.2" fill="#9a54d4"/>
<rect x="601.1" y="580.8" width="6" height="7.2" fill="#9a54d4"/>
<rect x="618.8" y="580.8" width="11.9" height="7.2" fill="#9a54d4"/>
<rect x="666" y="580.8" width="11.9" height="7.2" fill="#9a54d4"/>
<rect x="22.9" y="588" width="660.8" height="7.2" fill="#dbb6ef"/>
<rect x="28.8" y="588" width="6" height="7.2" fill="#9a54d4"/>
<rect x="70.1" y="588" width="6" height="7.2" fill="#9a54d4"/>
<rect x="81.9" y="588" width="6" height="7.2" fill="#9a54d4"/>
<rect x="129.1" y="588" width="11.9" height="7.2" fill="#9a54d4"/>
<rect x="205.8" y="588" width="6" height="7.2" fill="#9a54d4"/>
<rect x="223.5" y="588" width="6" height="7.2" fill="#9a54d4"/>
<rect x="264.8" y="588" width="11.9" height="7.2" fill="#9a54d4"/>
<rect x="294.3" y="588" width="6" height="7.2" fill="#9a54d4"/>
<rect x="317.9" y="588" width="6" height="7.2" fill="#9a54d4"/>
<rect x="341.5" y="588" width="6" height="7.2" fill="#9a54d4"/>
<rect x="359.2" y="588" width="11.9" height="7.2" fill="#9a54d4"/>
<rect x="418.2" y="588" width="6" height="7.2" fill="#9a54d4"/>
<rect x="435.9" y="588" width="6" height="7.2" fill="#9a54d4"/>
<rect x="447.7" y="588" width="6" height="7.2" fill="#f0e4f8"/>
<rect x="494.9" y="588" width="6" height="7.2" fill="#9a54d4"/>
<rect x="506.7" y="588" width="6" height="7.2" fill="#9a54d4"/>
<rect x="524.4" y="588" width="35.5" height="7.2" fill="#9a54d4"/>
<rect x="595.2" y="588" width="6" height="7.2" fill="#9a54d4"/>
<rect x="607" y="588" width="23.7" height="7.2" fill="#9a54d4"/>
<rect x="671.9" y="588" width="6" height="7.2" fill="#f0e4f8"/>
<rect x="22.9" y="595.2" width="660.8" height="7.2" fill="#dbb6ef"/>
<rect x="81.9" y="595.2" width="6" height="7.2" fill="#f0e4f8"/>
<rect x="182.2" y="595.2" width="6" height="7.2" fill="#9a54d4"/>
<rect x="223.5" y="595.2" width="6" height="7.2" fill="#f0e4f8"/>
<rect x="241.2" y="595.2" width="11.9" height="7.2" fill="#9a54d4"/>
<rect x="258.9" y="595.2" width="6" height="7.2" fill="#9a54d4"/>
<rect x="312" y="595.2" width="6" height="7.2" fill="#9a54d4"/>
<rect x="329.7" y="595.2" width="6" height="7.2" fill="#9a54d4"/>
<rect x="347.4" y="595.2" width="6" height="7.2" fill="#9a54d4"/>
<rect x="365.1" y="595.2" width="11.9" height="7.2" fill="#9a54d4"/>
<rect x="382.8" y="595.2" width="6" height="7.2" fill="#9a54d4"/>
<rect x="406.4" y="595.2" width="6" height="7.2" fill="#9a54d4"/>
<rect x="447.7" y="595.2" width="6" height="7.2" fill="#9a54d4"/>
<rect x="518.5" y="595.2" width="17.8" height="7.2" fill="#9a54d4"/>
<rect x="548" y="595.2" width="11.9" height="7.2" fill="#9a54d4"/>
<rect x="624.7" y="595.2" width="6" height="7.2" fill="#f0e4f8"/>
<rect x="648.3" y="595.2" width="11.9" height="7.2" fill="#9a54d4"/>
<rect x="671.9" y="595.2" width="11.9" height="7.2" fill="#9a54d4"/>
<path d="M28.8 559.2V602.4M34.7 559.2V602.4M40.6 559.2V602.4M46.5 559.2V602.4M52.4 559.2V602.4M58.3 559.2V602.4M64.2 559.2V602.4M70.1 559.2V602.4M76 559.2V602.4M81.9 559.2V602.4M87.8 559.2V602.4M93.7 559.2V602.4M99.6 559.2V602.4M105.5 559.2V602.4M111.4 559.2V602.4M117.3 559.2V602.4M123.2 559.2V602.4M129.1 559.2V602.4M135 559.2V602.4M140.9 559.2V602.4M146.8 559.2V602.4M152.7 559.2V602.4M158.6 559.2V602.4M164.5 559.2V602.4M170.4 559.2V602.4M176.3 559.2V602.4M182.2 559.2V602.4M188.1 559.2V602.4M194 559.2V602.4M199.9 559.2V602.4M205.8 559.2V602.4M211.7 559.2V602.4M217.6 559.2V602.4M223.5 559.2V602.4M229.4 559.2V602.4M235.3 559.2V602.4M241.2 559.2V602.4M247.1 559.2V602.4M253 559.2V602.4M258.9 559.2V602.4M264.8 559.2V602.4M270.7 559.2V602.4M276.6 559.2V602.4M282.5 559.2V602.4M288.4 559.2V602.4M294.3 559.2V602.4M300.2 559.2V602.4M306.1 559.2V602.4M312 559.2V602.4M317.9 559.2V602.4M323.8 559.2V602.4M329.7 559.2V602.4M335.6 559.2V602.4M341.5 559.2V602.4M347.4 559.2V602.4M353.3 559.2V602.4M359.2 559.2V602.4M365.1 559.2V602.4M371 559.2V602.4M376.9 559.2V602.4M382.8 559.2V602.4M388.7 559.2V602.4M394.6 559.2V602.4M400.5 559.2V602.4M406.4 559.2V602.4M412.3 559.2V602.4M418.2 559.2V602.4M424.1 559.2V602.4M430 559.2V602.4M435.9 559.2V602.4M441.8 559.2V602.4M447.7 559.2V602.4M453.6 559.2V602.4M459.5 559.2V602.4M465.4 559.2V602.4M471.3 559.2V602.4M477.2 559.2V602.4M483.1 559.2V602.4M489 559.2V602.4M494.9 559.2V602.4M500.8 559.2V602.4M506.7 559.2V602.4M512.6 559.2V602.4M518.5 559.2V602.4M524.4 559.2V602.4M530.3 559.2V602.4M536.2 559.2V602.4M542.1 559.2V602.4M548 559.2V602.4M553.9 559.2V602.4M559.8 559.2V602.4M565.7 559.2V602.4M571.6 559.2V602.4M577.5 559.2V602.4M583.4 559.2V602.4M589.3 559.2V602.4M595.2 559.2V602.4M601.1 559.2V602.4M607 559.2V602.4M612.9 559.2V602.4M618.8 559.2V602.4M624.7 559.2V602.4M630.6 559.2V602.4M636.5 559.2V602.4M642.4 559.2V602.4M648.3 559.2V602.4M654.2 559.2V602.4M660.1 559.2V602.4M666 559.2V602.4M671.9 559.2V602.4M677.8 559.2V602.4M22.9 566.4H683.7M22.9 573.6H683.7M22.9 580.8H683.7M22.9 588H683.7M22.9 595.2H683.7" stroke="#ffffff" stroke-opacity="0.4" stroke-width="0.6"/>
<rect x="22.9" y="559.2" width="660.8" height="43.2" fill="none" stroke="#111" stroke-width="1.3"/>
<rect x="22.9" y="603" width="660.8" height="1.8" fill="#aaaaaa"/>
<rect x="22.9" y="605.6" width="47.2" height="7.8" fill="#e1302c"/>
<rect x="70.1" y="605.6" width="6" height="7.8" fill="#f5b3b9"/>
<rect x="76" y="605.6" width="6" height="7.8" fill="#f08b91"/>
<rect x="81.9" y="605.6" width="6" height="7.8" fill="#ea5b5e"/>
<rect x="87.8" y="605.6" width="70.9" height="7.8" fill="#e1302c"/>
<rect x="158.6" y="605.6" width="6" height="7.8" fill="#ea5b5e"/>
<rect x="164.5" y="605.6" width="6" height="7.8" fill="#e1302c"/>
<rect x="170.4" y="605.6" width="11.9" height="7.8" fill="#ea5b5e"/>
<rect x="182.2" y="605.6" width="6" height="7.8" fill="#f5b3b9"/>
<rect x="188.1" y="605.6" width="6" height="7.8" fill="#fad8db"/>
<rect x="194" y="605.6" width="11.9" height="7.8" fill="#f5b3b9"/>
<rect x="205.8" y="605.6" width="6" height="7.8" fill="#f08b91"/>
<rect x="211.7" y="605.6" width="11.9" height="7.8" fill="#fad8db"/>
<rect x="223.5" y="605.6" width="11.9" height="7.8" fill="#f08b91"/>
<rect x="235.3" y="605.6" width="6" height="7.8" fill="#ea5b5e"/>
<rect x="241.2" y="605.6" width="6" height="7.8" fill="#f08b91"/>
<rect x="247.1" y="605.6" width="11.9" height="7.8" fill="#ea5b5e"/>
<rect x="258.9" y="605.6" width="6" height="7.8" fill="#f08b91"/>
<rect x="264.8" y="605.6" width="23.7" height="7.8" fill="#ea5b5e"/>
<rect x="288.4" y="605.6" width="23.7" height="7.8" fill="#f08b91"/>
<rect x="312" y="605.6" width="11.9" height="7.8" fill="#f5b3b9"/>
<rect x="323.8" y="605.6" width="11.9" height="7.8" fill="#f08b91"/>
<rect x="335.6" y="605.6" width="6" height="7.8" fill="#ea5b5e"/>
<rect x="341.5" y="605.6" width="6" height="7.8" fill="#f08b91"/>
<rect x="347.4" y="605.6" width="11.9" height="7.8" fill="#f5b3b9"/>
<rect x="359.2" y="605.6" width="6" height="7.8" fill="#f08b91"/>
<rect x="365.1" y="605.6" width="17.8" height="7.8" fill="#f5b3b9"/>
<rect x="382.8" y="605.6" width="11.9" height="7.8" fill="#e1302c"/>
<rect x="394.6" y="605.6" width="17.8" height="7.8" fill="#ea5b5e"/>
<rect x="412.3" y="605.6" width="17.8" height="7.8" fill="#fad8db"/>
<rect x="430" y="605.6" width="6" height="7.8" fill="#f5b3b9"/>
<rect x="435.9" y="605.6" width="11.9" height="7.8" fill="#fad8db"/>
<rect x="447.7" y="605.6" width="17.8" height="7.8" fill="#f5b3b9"/>
<rect x="465.4" y="605.6" width="11.9" height="7.8" fill="#fad8db"/>
<rect x="477.2" y="605.6" width="6" height="7.8" fill="#f5b3b9"/>
<rect x="483.1" y="605.6" width="17.8" height="7.8" fill="#fad8db"/>
<rect x="500.8" y="605.6" width="17.8" height="7.8" fill="#f5b3b9"/>
<rect x="518.5" y="605.6" width="23.7" height="7.8" fill="#fad8db"/>
<rect x="542.1" y="605.6" width="6" height="7.8" fill="#f5b3b9"/>
<rect x="548" y="605.6" width="6" height="7.8" fill="#f08b91"/>
<rect x="553.9" y="605.6" width="11.9" height="7.8" fill="#fad8db"/>
<rect x="565.7" y="605.6" width="6" height="7.8" fill="#f5b3b9"/>
<rect x="571.6" y="605.6" width="23.7" height="7.8" fill="#fad8db"/>
<rect x="595.2" y="605.6" width="11.9" height="7.8" fill="#f5b3b9"/>
<rect x="607" y="605.6" width="17.8" height="7.8" fill="#fad8db"/>
<rect x="624.7" y="605.6" width="6" height="7.8" fill="#f5b3b9"/>
<rect x="630.6" y="605.6" width="6" height="7.8" fill="#f08b91"/>
<rect x="636.5" y="605.6" width="11.9" height="7.8" fill="#f5b3b9"/>
<rect x="648.3" y="605.6" width="6" height="7.8" fill="#f08b91"/>
<rect x="654.2" y="605.6" width="17.8" height="7.8" fill="#f5b3b9"/>
<rect x="671.9" y="605.6" width="11.9" height="7.8" fill="#fad8db"/>
<path d="M28.8 605.6V613.4M34.7 605.6V613.4M40.6 605.6V613.4M46.5 605.6V613.4M52.4 605.6V613.4M58.3 605.6V613.4M64.2 605.6V613.4M70.1 605.6V613.4M76 605.6V613.4M81.9 605.6V613.4M87.8 605.6V613.4M93.7 605.6V613.4M99.6 605.6V613.4M105.5 605.6V613.4M111.4 605.6V613.4M117.3 605.6V613.4M123.2 605.6V613.4M129.1 605.6V613.4M135 605.6V613.4M140.9 605.6V613.4M146.8 605.6V613.4M152.7 605.6V613.4M158.6 605.6V613.4M164.5 605.6V613.4M170.4 605.6V613.4M176.3 605.6V613.4M182.2 605.6V613.4M188.1 605.6V613.4M194 605.6V613.4M199.9 605.6V613.4M205.8 605.6V613.4M211.7 605.6V613.4M217.6 605.6V613.4M223.5 605.6V613.4M229.4 605.6V613.4M235.3 605.6V613.4M241.2 605.6V613.4M247.1 605.6V613.4M253 605.6V613.4M258.9 605.6V613.4M264.8 605.6V613.4M270.7 605.6V613.4M276.6 605.6V613.4M282.5 605.6V613.4M288.4 605.6V613.4M294.3 605.6V613.4M300.2 605.6V613.4M306.1 605.6V613.4M312 605.6V613.4M317.9 605.6V613.4M323.8 605.6V613.4M329.7 605.6V613.4M335.6 605.6V613.4M341.5 605.6V613.4M347.4 605.6V613.4M353.3 605.6V613.4M359.2 605.6V613.4M365.1 605.6V613.4M371 605.6V613.4M376.9 605.6V613.4M382.8 605.6V613.4M388.7 605.6V613.4M394.6 605.6V613.4M400.5 605.6V613.4M406.4 605.6V613.4M412.3 605.6V613.4M418.2 605.6V613.4M424.1 605.6V613.4M430 605.6V613.4M435.9 605.6V613.4M441.8 605.6V613.4M447.7 605.6V613.4M453.6 605.6V613.4M459.5 605.6V613.4M465.4 605.6V613.4M471.3 605.6V613.4M477.2 605.6V613.4M483.1 605.6V613.4M489 605.6V613.4M494.9 605.6V613.4M500.8 605.6V613.4M506.7 605.6V613.4M512.6 605.6V613.4M518.5 605.6V613.4M524.4 605.6V613.4M530.3 605.6V613.4M536.2 605.6V613.4M542.1 605.6V613.4M548 605.6V613.4M553.9 605.6V613.4M559.8 605.6V613.4M565.7 605.6V613.4M571.6 605.6V613.4M577.5 605.6V613.4M583.4 605.6V613.4M589.3 605.6V613.4M595.2 605.6V613.4M601.1 605.6V613.4M607 605.6V613.4M612.9 605.6V613.4M618.8 605.6V613.4M624.7 605.6V613.4M630.6 605.6V613.4M636.5 605.6V613.4M642.4 605.6V613.4M648.3 605.6V613.4M654.2 605.6V613.4M660.1 605.6V613.4M666 605.6V613.4M671.9 605.6V613.4M677.8 605.6V613.4" stroke="#ffffff" stroke-opacity="0.35" stroke-width="0.6"/>
<rect x="22.9" y="605.6" width="660.8" height="7.8" fill="none" stroke="#111" stroke-width="1.1"/>
<text x="9.8" y="581.6" font-size="9.2" text-anchor="middle" font-weight="bold" fill="#000" transform="rotate(-90 9.8 581.6)">DIPGXIII</text>
<text x="17.8" y="570" font-size="6.5" text-anchor="middle" fill="#222" stroke="#222" stroke-width="0.12" transform="rotate(-90 17.8 570)">FB232</text>
<text x="17.8" y="591.6" font-size="6.5" text-anchor="middle" fill="#222" stroke="#222" stroke-width="0.12" transform="rotate(-90 17.8 591.6)">DMSO</text>
<rect x="22.9" y="619.8" width="660.8" height="7.3" fill="#f6c9aa"/>
<rect x="81.9" y="619.8" width="6" height="7.3" fill="#e9963a"/>
<rect x="111.4" y="619.8" width="6" height="7.3" fill="#e9963a"/>
<rect x="217.6" y="619.8" width="6" height="7.3" fill="#e9963a"/>
<rect x="282.5" y="619.8" width="11.9" height="7.3" fill="#e9963a"/>
<rect x="300.2" y="619.8" width="23.7" height="7.3" fill="#e9963a"/>
<rect x="341.5" y="619.8" width="11.9" height="7.3" fill="#e9963a"/>
<rect x="382.8" y="619.8" width="6" height="7.3" fill="#e9963a"/>
<rect x="394.6" y="619.8" width="11.9" height="7.3" fill="#e9963a"/>
<rect x="412.3" y="619.8" width="6" height="7.3" fill="#e9963a"/>
<rect x="424.1" y="619.8" width="6" height="7.3" fill="#e9963a"/>
<rect x="465.4" y="619.8" width="11.9" height="7.3" fill="#e9963a"/>
<rect x="483.1" y="619.8" width="11.9" height="7.3" fill="#e9963a"/>
<rect x="542.1" y="619.8" width="6" height="7.3" fill="#e9963a"/>
<rect x="565.7" y="619.8" width="17.8" height="7.3" fill="#e9963a"/>
<rect x="589.3" y="619.8" width="23.7" height="7.3" fill="#e9963a"/>
<rect x="624.7" y="619.8" width="6" height="7.3" fill="#e9963a"/>
<rect x="671.9" y="619.8" width="6" height="7.3" fill="#e9963a"/>
<rect x="22.9" y="627" width="660.8" height="7.3" fill="#f6c9aa"/>
<rect x="22.9" y="627" width="6" height="7.3" fill="#e9963a"/>
<rect x="123.2" y="627" width="11.9" height="7.3" fill="#e9963a"/>
<rect x="176.3" y="627" width="6" height="7.3" fill="#e9963a"/>
<rect x="276.6" y="627" width="11.9" height="7.3" fill="#e9963a"/>
<rect x="294.3" y="627" width="6" height="7.3" fill="#e9963a"/>
<rect x="312" y="627" width="11.9" height="7.3" fill="#e9963a"/>
<rect x="365.1" y="627" width="6" height="7.3" fill="#e9963a"/>
<rect x="412.3" y="627" width="6" height="7.3" fill="#f8eedd"/>
<rect x="465.4" y="627" width="6" height="7.3" fill="#e9963a"/>
<rect x="477.2" y="627" width="6" height="7.3" fill="#e9963a"/>
<rect x="506.7" y="627" width="6" height="7.3" fill="#e9963a"/>
<rect x="524.4" y="627" width="6" height="7.3" fill="#e9963a"/>
<rect x="536.2" y="627" width="6" height="7.3" fill="#e9963a"/>
<rect x="553.9" y="627" width="6" height="7.3" fill="#e9963a"/>
<rect x="583.4" y="627" width="6" height="7.3" fill="#e9963a"/>
<rect x="630.6" y="627" width="6" height="7.3" fill="#e9963a"/>
<rect x="671.9" y="627" width="11.9" height="7.3" fill="#e9963a"/>
<rect x="22.9" y="634.3" width="660.8" height="7.3" fill="#f6c9aa"/>
<rect x="93.7" y="634.3" width="6" height="7.3" fill="#e9963a"/>
<rect x="253" y="634.3" width="6" height="7.3" fill="#e9963a"/>
<rect x="264.8" y="634.3" width="11.9" height="7.3" fill="#e9963a"/>
<rect x="282.5" y="634.3" width="6" height="7.3" fill="#f8eedd"/>
<rect x="312" y="634.3" width="11.9" height="7.3" fill="#f8eedd"/>
<rect x="323.8" y="634.3" width="11.9" height="7.3" fill="#e9963a"/>
<rect x="376.9" y="634.3" width="6" height="7.3" fill="#e9963a"/>
<rect x="418.2" y="634.3" width="6" height="7.3" fill="#e9963a"/>
<rect x="435.9" y="634.3" width="6" height="7.3" fill="#e9963a"/>
<rect x="447.7" y="634.3" width="6" height="7.3" fill="#e9963a"/>
<rect x="465.4" y="634.3" width="6" height="7.3" fill="#f8eedd"/>
<rect x="494.9" y="634.3" width="6" height="7.3" fill="#e9963a"/>
<rect x="512.6" y="634.3" width="17.8" height="7.3" fill="#e9963a"/>
<rect x="548" y="634.3" width="6" height="7.3" fill="#e9963a"/>
<rect x="565.7" y="634.3" width="6" height="7.3" fill="#f8eedd"/>
<rect x="666" y="634.3" width="6" height="7.3" fill="#e9963a"/>
<rect x="671.9" y="634.3" width="6" height="7.3" fill="#f8eedd"/>
<rect x="22.9" y="641.5" width="660.8" height="7.3" fill="#dbb6ef"/>
<rect x="22.9" y="641.5" width="41.4" height="7.3" fill="#9a54d4"/>
<rect x="70.1" y="641.5" width="11.9" height="7.3" fill="#9a54d4"/>
<rect x="99.6" y="641.5" width="6" height="7.3" fill="#9a54d4"/>
<rect x="129.1" y="641.5" width="11.9" height="7.3" fill="#9a54d4"/>
<rect x="146.8" y="641.5" width="6" height="7.3" fill="#9a54d4"/>
<rect x="170.4" y="641.5" width="17.8" height="7.3" fill="#9a54d4"/>
<rect x="205.8" y="641.5" width="6" height="7.3" fill="#9a54d4"/>
<rect x="241.2" y="641.5" width="11.9" height="7.3" fill="#9a54d4"/>
<rect x="264.8" y="641.5" width="6" height="7.3" fill="#f0e4f8"/>
<rect x="276.6" y="641.5" width="11.9" height="7.3" fill="#9a54d4"/>
<rect x="294.3" y="641.5" width="11.9" height="7.3" fill="#9a54d4"/>
<rect x="312" y="641.5" width="6" height="7.3" fill="#9a54d4"/>
<rect x="323.8" y="641.5" width="17.8" height="7.3" fill="#9a54d4"/>
<rect x="365.1" y="641.5" width="23.7" height="7.3" fill="#9a54d4"/>
<rect x="394.6" y="641.5" width="17.8" height="7.3" fill="#9a54d4"/>
<rect x="430" y="641.5" width="11.9" height="7.3" fill="#9a54d4"/>
<rect x="447.7" y="641.5" width="6" height="7.3" fill="#9a54d4"/>
<rect x="465.4" y="641.5" width="17.8" height="7.3" fill="#9a54d4"/>
<rect x="489" y="641.5" width="6" height="7.3" fill="#9a54d4"/>
<rect x="500.8" y="641.5" width="6" height="7.3" fill="#9a54d4"/>
<rect x="536.2" y="641.5" width="11.9" height="7.3" fill="#9a54d4"/>
<rect x="565.7" y="641.5" width="6" height="7.3" fill="#f0e4f8"/>
<rect x="571.6" y="641.5" width="6" height="7.3" fill="#9a54d4"/>
<rect x="601.1" y="641.5" width="11.9" height="7.3" fill="#9a54d4"/>
<rect x="636.5" y="641.5" width="6" height="7.3" fill="#9a54d4"/>
<rect x="648.3" y="641.5" width="11.9" height="7.3" fill="#9a54d4"/>
<rect x="666" y="641.5" width="6" height="7.3" fill="#9a54d4"/>
<rect x="677.8" y="641.5" width="6" height="7.3" fill="#f0e4f8"/>
<rect x="22.9" y="648.8" width="660.8" height="7.3" fill="#dbb6ef"/>
<rect x="28.8" y="648.8" width="6" height="7.3" fill="#f0e4f8"/>
<rect x="81.9" y="648.8" width="11.9" height="7.3" fill="#9a54d4"/>
<rect x="111.4" y="648.8" width="6" height="7.3" fill="#9a54d4"/>
<rect x="129.1" y="648.8" width="6" height="7.3" fill="#9a54d4"/>
<rect x="188.1" y="648.8" width="6" height="7.3" fill="#9a54d4"/>
<rect x="264.8" y="648.8" width="11.9" height="7.3" fill="#9a54d4"/>
<rect x="371" y="648.8" width="11.9" height="7.3" fill="#9a54d4"/>
<rect x="382.8" y="648.8" width="6" height="7.3" fill="#f0e4f8"/>
<rect x="400.5" y="648.8" width="11.9" height="7.3" fill="#f0e4f8"/>
<rect x="412.3" y="648.8" width="6" height="7.3" fill="#9a54d4"/>
<rect x="424.1" y="648.8" width="6" height="7.3" fill="#9a54d4"/>
<rect x="441.8" y="648.8" width="6" height="7.3" fill="#9a54d4"/>
<rect x="453.6" y="648.8" width="6" height="7.3" fill="#9a54d4"/>
<rect x="465.4" y="648.8" width="6" height="7.3" fill="#9a54d4"/>
<rect x="506.7" y="648.8" width="6" height="7.3" fill="#9a54d4"/>
<rect x="524.4" y="648.8" width="11.9" height="7.3" fill="#9a54d4"/>
<rect x="542.1" y="648.8" width="6" height="7.3" fill="#f0e4f8"/>
<rect x="548" y="648.8" width="11.9" height="7.3" fill="#9a54d4"/>
<rect x="565.7" y="648.8" width="6" height="7.3" fill="#9a54d4"/>
<rect x="595.2" y="648.8" width="11.9" height="7.3" fill="#9a54d4"/>
<rect x="624.7" y="648.8" width="11.9" height="7.3" fill="#9a54d4"/>
<rect x="677.8" y="648.8" width="6" height="7.3" fill="#9a54d4"/>
<rect x="22.9" y="656" width="660.8" height="7.3" fill="#dbb6ef"/>
<rect x="99.6" y="656" width="6" height="7.3" fill="#f0e4f8"/>
<rect x="105.5" y="656" width="6" height="7.3" fill="#9a54d4"/>
<rect x="188.1" y="656" width="6" height="7.3" fill="#9a54d4"/>
<rect x="205.8" y="656" width="6" height="7.3" fill="#9a54d4"/>
<rect x="223.5" y="656" width="6" height="7.3" fill="#9a54d4"/>
<rect x="253" y="656" width="11.9" height="7.3" fill="#9a54d4"/>
<rect x="294.3" y="656" width="6" height="7.3" fill="#9a54d4"/>
<rect x="347.4" y="656" width="6" height="7.3" fill="#9a54d4"/>
<rect x="371" y="656" width="11.9" height="7.3" fill="#f0e4f8"/>
<rect x="400.5" y="656" width="11.9" height="7.3" fill="#9a54d4"/>
<rect x="459.5" y="656" width="6" height="7.3" fill="#9a54d4"/>
<rect x="465.4" y="656" width="6" height="7.3" fill="#f0e4f8"/>
<rect x="477.2" y="656" width="6" height="7.3" fill="#f0e4f8"/>
<rect x="494.9" y="656" width="6" height="7.3" fill="#9a54d4"/>
<rect x="512.6" y="656" width="6" height="7.3" fill="#9a54d4"/>
<rect x="542.1" y="656" width="6" height="7.3" fill="#9a54d4"/>
<rect x="548" y="656" width="6" height="7.3" fill="#f0e4f8"/>
<rect x="577.5" y="656" width="6" height="7.3" fill="#9a54d4"/>
<rect x="618.8" y="656" width="6" height="7.3" fill="#9a54d4"/>
<rect x="671.9" y="656" width="11.9" height="7.3" fill="#9a54d4"/>
<path d="M28.8 619.8V663.3M34.7 619.8V663.3M40.6 619.8V663.3M46.5 619.8V663.3M52.4 619.8V663.3M58.3 619.8V663.3M64.2 619.8V663.3M70.1 619.8V663.3M76 619.8V663.3M81.9 619.8V663.3M87.8 619.8V663.3M93.7 619.8V663.3M99.6 619.8V663.3M105.5 619.8V663.3M111.4 619.8V663.3M117.3 619.8V663.3M123.2 619.8V663.3M129.1 619.8V663.3M135 619.8V663.3M140.9 619.8V663.3M146.8 619.8V663.3M152.7 619.8V663.3M158.6 619.8V663.3M164.5 619.8V663.3M170.4 619.8V663.3M176.3 619.8V663.3M182.2 619.8V663.3M188.1 619.8V663.3M194 619.8V663.3M199.9 619.8V663.3M205.8 619.8V663.3M211.7 619.8V663.3M217.6 619.8V663.3M223.5 619.8V663.3M229.4 619.8V663.3M235.3 619.8V663.3M241.2 619.8V663.3M247.1 619.8V663.3M253 619.8V663.3M258.9 619.8V663.3M264.8 619.8V663.3M270.7 619.8V663.3M276.6 619.8V663.3M282.5 619.8V663.3M288.4 619.8V663.3M294.3 619.8V663.3M300.2 619.8V663.3M306.1 619.8V663.3M312 619.8V663.3M317.9 619.8V663.3M323.8 619.8V663.3M329.7 619.8V663.3M335.6 619.8V663.3M341.5 619.8V663.3M347.4 619.8V663.3M353.3 619.8V663.3M359.2 619.8V663.3M365.1 619.8V663.3M371 619.8V663.3M376.9 619.8V663.3M382.8 619.8V663.3M388.7 619.8V663.3M394.6 619.8V663.3M400.5 619.8V663.3M406.4 619.8V663.3M412.3 619.8V663.3M418.2 619.8V663.3M424.1 619.8V663.3M430 619.8V663.3M435.9 619.8V663.3M441.8 619.8V663.3M447.7 619.8V663.3M453.6 619.8V663.3M459.5 619.8V663.3M465.4 619.8V663.3M471.3 619.8V663.3M477.2 619.8V663.3M483.1 619.8V663.3M489 619.8V663.3M494.9 619.8V663.3M500.8 619.8V663.3M506.7 619.8V663.3M512.6 619.8V663.3M518.5 619.8V663.3M524.4 619.8V663.3M530.3 619.8V663.3M536.2 619.8V663.3M542.1 619.8V663.3M548 619.8V663.3M553.9 619.8V663.3M559.8 619.8V663.3M565.7 619.8V663.3M571.6 619.8V663.3M577.5 619.8V663.3M583.4 619.8V663.3M589.3 619.8V663.3M595.2 619.8V663.3M601.1 619.8V663.3M607 619.8V663.3M612.9 619.8V663.3M618.8 619.8V663.3M624.7 619.8V663.3M630.6 619.8V663.3M636.5 619.8V663.3M642.4 619.8V663.3M648.3 619.8V663.3M654.2 619.8V663.3M660.1 619.8V663.3M666 619.8V663.3M671.9 619.8V663.3M677.8 619.8V663.3M22.9 627H683.7M22.9 634.3H683.7M22.9 641.5H683.7M22.9 648.8H683.7M22.9 656H683.7" stroke="#ffffff" stroke-opacity="0.4" stroke-width="0.6"/>
<rect x="22.9" y="619.8" width="660.8" height="43.5" fill="none" stroke="#111" stroke-width="1.3"/>
<rect x="22.9" y="666.4" width="6" height="8.4" fill="#f5b3b9"/>
<rect x="28.8" y="666.4" width="6" height="8.4" fill="#fad8db"/>
<rect x="34.7" y="666.4" width="6" height="8.4" fill="#f5b3b9"/>
<rect x="40.6" y="666.4" width="11.9" height="8.4" fill="#f08b91"/>
<rect x="52.4" y="666.4" width="6" height="8.4" fill="#f5b3b9"/>
<rect x="58.3" y="666.4" width="29.6" height="8.4" fill="#e1302c"/>
<rect x="87.8" y="666.4" width="6" height="8.4" fill="#fad8db"/>
<rect x="93.7" y="666.4" width="6" height="8.4" fill="#f5b3b9"/>
<rect x="99.6" y="666.4" width="6" height="8.4" fill="#fad8db"/>
<rect x="105.5" y="666.4" width="6" height="8.4" fill="#f08b91"/>
<rect x="111.4" y="666.4" width="29.6" height="8.4" fill="#fad8db"/>
<rect x="140.9" y="666.4" width="11.9" height="8.4" fill="#ea5b5e"/>
<rect x="152.7" y="666.4" width="6" height="8.4" fill="#e1302c"/>
<rect x="158.6" y="666.4" width="6" height="8.4" fill="#ea5b5e"/>
<rect x="164.5" y="666.4" width="17.8" height="8.4" fill="#f08b91"/>
<rect x="182.2" y="666.4" width="6" height="8.4" fill="#ea5b5e"/>
<rect x="188.1" y="666.4" width="17.8" height="8.4" fill="#e1302c"/>
<rect x="205.8" y="666.4" width="6" height="8.4" fill="#ea5b5e"/>
<rect x="211.7" y="666.4" width="6" height="8.4" fill="#e1302c"/>
<rect x="217.6" y="666.4" width="17.8" height="8.4" fill="#ea5b5e"/>
<rect x="235.3" y="666.4" width="6" height="8.4" fill="#f08b91"/>
<rect x="241.2" y="666.4" width="11.9" height="8.4" fill="#ea5b5e"/>
<rect x="253" y="666.4" width="6" height="8.4" fill="#f5b3b9"/>
<rect x="258.9" y="666.4" width="6" height="8.4" fill="#f08b91"/>
<rect x="264.8" y="666.4" width="11.9" height="8.4" fill="#f5b3b9"/>
<rect x="276.6" y="666.4" width="11.9" height="8.4" fill="#fad8db"/>
<rect x="288.4" y="666.4" width="11.9" height="8.4" fill="#f5b3b9"/>
<rect x="300.2" y="666.4" width="41.4" height="8.4" fill="#fad8db"/>
<rect x="341.5" y="666.4" width="29.6" height="8.4" fill="#f5b3b9"/>
<rect x="371" y="666.4" width="29.6" height="8.4" fill="#fad8db"/>
<rect x="400.5" y="666.4" width="6" height="8.4" fill="#f5b3b9"/>
<rect x="406.4" y="666.4" width="17.8" height="8.4" fill="#fad8db"/>
<rect x="424.1" y="666.4" width="23.7" height="8.4" fill="#f5b3b9"/>
<rect x="447.7" y="666.4" width="23.7" height="8.4" fill="#fad8db"/>
<rect x="471.3" y="666.4" width="6" height="8.4" fill="#f5b3b9"/>
<rect x="477.2" y="666.4" width="17.8" height="8.4" fill="#fad8db"/>
<rect x="494.9" y="666.4" width="11.9" height="8.4" fill="#ea5b5e"/>
<rect x="506.7" y="666.4" width="11.9" height="8.4" fill="#f5b3b9"/>
<rect x="518.5" y="666.4" width="6" height="8.4" fill="#fad8db"/>
<rect x="524.4" y="666.4" width="11.9" height="8.4" fill="#f5b3b9"/>
<rect x="536.2" y="666.4" width="17.8" height="8.4" fill="#fad8db"/>
<rect x="553.9" y="666.4" width="11.9" height="8.4" fill="#f5b3b9"/>
<rect x="565.7" y="666.4" width="6" height="8.4" fill="#fad8db"/>
<rect x="571.6" y="666.4" width="6" height="8.4" fill="#f5b3b9"/>
<rect x="577.5" y="666.4" width="11.9" height="8.4" fill="#fad8db"/>
<rect x="589.3" y="666.4" width="6" height="8.4" fill="#f5b3b9"/>
<rect x="595.2" y="666.4" width="11.9" height="8.4" fill="#fad8db"/>
<rect x="607" y="666.4" width="6" height="8.4" fill="#f5b3b9"/>
<rect x="612.9" y="666.4" width="6" height="8.4" fill="#f08b91"/>
<rect x="618.8" y="666.4" width="6" height="8.4" fill="#f5b3b9"/>
<rect x="624.7" y="666.4" width="29.6" height="8.4" fill="#f08b91"/>
<rect x="654.2" y="666.4" width="6" height="8.4" fill="#f5b3b9"/>
<rect x="660.1" y="666.4" width="6" height="8.4" fill="#f08b91"/>
<rect x="666" y="666.4" width="6" height="8.4" fill="#f5b3b9"/>
<rect x="671.9" y="666.4" width="11.9" height="8.4" fill="#fad8db"/>
<path d="M28.8 666.4V674.8M34.7 666.4V674.8M40.6 666.4V674.8M46.5 666.4V674.8M52.4 666.4V674.8M58.3 666.4V674.8M64.2 666.4V674.8M70.1 666.4V674.8M76 666.4V674.8M81.9 666.4V674.8M87.8 666.4V674.8M93.7 666.4V674.8M99.6 666.4V674.8M105.5 666.4V674.8M111.4 666.4V674.8M117.3 666.4V674.8M123.2 666.4V674.8M129.1 666.4V674.8M135 666.4V674.8M140.9 666.4V674.8M146.8 666.4V674.8M152.7 666.4V674.8M158.6 666.4V674.8M164.5 666.4V674.8M170.4 666.4V674.8M176.3 666.4V674.8M182.2 666.4V674.8M188.1 666.4V674.8M194 666.4V674.8M199.9 666.4V674.8M205.8 666.4V674.8M211.7 666.4V674.8M217.6 666.4V674.8M223.5 666.4V674.8M229.4 666.4V674.8M235.3 666.4V674.8M241.2 666.4V674.8M247.1 666.4V674.8M253 666.4V674.8M258.9 666.4V674.8M264.8 666.4V674.8M270.7 666.4V674.8M276.6 666.4V674.8M282.5 666.4V674.8M288.4 666.4V674.8M294.3 666.4V674.8M300.2 666.4V674.8M306.1 666.4V674.8M312 666.4V674.8M317.9 666.4V674.8M323.8 666.4V674.8M329.7 666.4V674.8M335.6 666.4V674.8M341.5 666.4V674.8M347.4 666.4V674.8M353.3 666.4V674.8M359.2 666.4V674.8M365.1 666.4V674.8M371 666.4V674.8M376.9 666.4V674.8M382.8 666.4V674.8M388.7 666.4V674.8M394.6 666.4V674.8M400.5 666.4V674.8M406.4 666.4V674.8M412.3 666.4V674.8M418.2 666.4V674.8M424.1 666.4V674.8M430 666.4V674.8M435.9 666.4V674.8M441.8 666.4V674.8M447.7 666.4V674.8M453.6 666.4V674.8M459.5 666.4V674.8M465.4 666.4V674.8M471.3 666.4V674.8M477.2 666.4V674.8M483.1 666.4V674.8M489 666.4V674.8M494.9 666.4V674.8M500.8 666.4V674.8M506.7 666.4V674.8M512.6 666.4V674.8M518.5 666.4V674.8M524.4 666.4V674.8M530.3 666.4V674.8M536.2 666.4V674.8M542.1 666.4V674.8M548 666.4V674.8M553.9 666.4V674.8M559.8 666.4V674.8M565.7 666.4V674.8M571.6 666.4V674.8M577.5 666.4V674.8M583.4 666.4V674.8M589.3 666.4V674.8M595.2 666.4V674.8M601.1 666.4V674.8M607 666.4V674.8M612.9 666.4V674.8M618.8 666.4V674.8M624.7 666.4V674.8M630.6 666.4V674.8M636.5 666.4V674.8M642.4 666.4V674.8M648.3 666.4V674.8M654.2 666.4V674.8M660.1 666.4V674.8M666 666.4V674.8M671.9 666.4V674.8M677.8 666.4V674.8" stroke="#ffffff" stroke-opacity="0.35" stroke-width="0.6"/>
<rect x="22.9" y="666.4" width="660.8" height="8.4" fill="none" stroke="#111" stroke-width="1.1"/>
<text x="9.2" y="641.9" font-size="9.2" text-anchor="middle" font-weight="bold" fill="#000" transform="rotate(-90 9.2 641.9)">DIPGXVII</text>
<text x="18.5" y="630.7" font-size="6.8" text-anchor="middle" fill="#222" stroke="#222" stroke-width="0.12" transform="rotate(-90 18.5 630.7)">FB232</text>
<text x="18.5" y="652.4" font-size="6.8" text-anchor="middle" fill="#222" stroke="#222" stroke-width="0.12" transform="rotate(-90 18.5 652.4)">DMSO</text>
<rect x="22.9" y="684.3" width="660.8" height="7.3" fill="#f6c9aa"/>
<rect x="22.9" y="684.3" width="6" height="7.3" fill="#e9963a"/>
<rect x="28.8" y="684.3" width="6" height="7.3" fill="#f8eedd"/>
<rect x="34.7" y="684.3" width="6" height="7.3" fill="#e9963a"/>
<rect x="46.5" y="684.3" width="17.8" height="7.3" fill="#e9963a"/>
<rect x="76" y="684.3" width="6" height="7.3" fill="#e9963a"/>
<rect x="87.8" y="684.3" width="11.9" height="7.3" fill="#e9963a"/>
<rect x="123.2" y="684.3" width="6" height="7.3" fill="#e9963a"/>
<rect x="140.9" y="684.3" width="6" height="7.3" fill="#e9963a"/>
<rect x="152.7" y="684.3" width="11.9" height="7.3" fill="#e9963a"/>
<rect x="182.2" y="684.3" width="6" height="7.3" fill="#e9963a"/>
<rect x="229.4" y="684.3" width="17.8" height="7.3" fill="#e9963a"/>
<rect x="253" y="684.3" width="23.7" height="7.3" fill="#e9963a"/>
<rect x="282.5" y="684.3" width="11.9" height="7.3" fill="#e9963a"/>
<rect x="329.7" y="684.3" width="6" height="7.3" fill="#e9963a"/>
<rect x="347.4" y="684.3" width="6" height="7.3" fill="#e9963a"/>
<rect x="359.2" y="684.3" width="17.8" height="7.3" fill="#e9963a"/>
<rect x="406.4" y="684.3" width="6" height="7.3" fill="#f8eedd"/>
<rect x="412.3" y="684.3" width="6" height="7.3" fill="#e9963a"/>
<rect x="430" y="684.3" width="6" height="7.3" fill="#e9963a"/>
<rect x="441.8" y="684.3" width="6" height="7.3" fill="#e9963a"/>
<rect x="453.6" y="684.3" width="6" height="7.3" fill="#e9963a"/>
<rect x="465.4" y="684.3" width="29.6" height="7.3" fill="#e9963a"/>
<rect x="500.8" y="684.3" width="6" height="7.3" fill="#e9963a"/>
<rect x="512.6" y="684.3" width="6" height="7.3" fill="#e9963a"/>
<rect x="536.2" y="684.3" width="11.9" height="7.3" fill="#e9963a"/>
<rect x="553.9" y="684.3" width="6" height="7.3" fill="#e9963a"/>
<rect x="571.6" y="684.3" width="6" height="7.3" fill="#e9963a"/>
<rect x="583.4" y="684.3" width="6" height="7.3" fill="#e9963a"/>
<rect x="601.1" y="684.3" width="6" height="7.3" fill="#e9963a"/>
<rect x="612.9" y="684.3" width="6" height="7.3" fill="#e9963a"/>
<rect x="624.7" y="684.3" width="17.8" height="7.3" fill="#e9963a"/>
<rect x="677.8" y="684.3" width="6" height="7.3" fill="#e9963a"/>
<rect x="22.9" y="691.5" width="660.8" height="7.3" fill="#f6c9aa"/>
<rect x="28.8" y="691.5" width="6" height="7.3" fill="#e9963a"/>
<rect x="40.6" y="691.5" width="6" height="7.3" fill="#e9963a"/>
<rect x="70.1" y="691.5" width="6" height="7.3" fill="#e9963a"/>
<rect x="87.8" y="691.5" width="11.9" height="7.3" fill="#f8eedd"/>
<rect x="129.1" y="691.5" width="6" height="7.3" fill="#e9963a"/>
<rect x="211.7" y="691.5" width="11.9" height="7.3" fill="#e9963a"/>
<rect x="235.3" y="691.5" width="6" height="7.3" fill="#e9963a"/>
<rect x="241.2" y="691.5" width="6" height="7.3" fill="#f8eedd"/>
<rect x="312" y="691.5" width="6" height="7.3" fill="#e9963a"/>
<rect x="323.8" y="691.5" width="6" height="7.3" fill="#e9963a"/>
<rect x="335.6" y="691.5" width="6" height="7.3" fill="#e9963a"/>
<rect x="365.1" y="691.5" width="6" height="7.3" fill="#f8eedd"/>
<rect x="376.9" y="691.5" width="6" height="7.3" fill="#e9963a"/>
<rect x="394.6" y="691.5" width="6" height="7.3" fill="#e9963a"/>
<rect x="430" y="691.5" width="6" height="7.3" fill="#f8eedd"/>
<rect x="465.4" y="691.5" width="6" height="7.3" fill="#f8eedd"/>
<rect x="483.1" y="691.5" width="11.9" height="7.3" fill="#f8eedd"/>
<rect x="548" y="691.5" width="11.9" height="7.3" fill="#e9963a"/>
<rect x="577.5" y="691.5" width="6" height="7.3" fill="#e9963a"/>
<rect x="648.3" y="691.5" width="6" height="7.3" fill="#e9963a"/>
<rect x="666" y="691.5" width="11.9" height="7.3" fill="#e9963a"/>
<rect x="677.8" y="691.5" width="6" height="7.3" fill="#f8eedd"/>
<rect x="22.9" y="698.7" width="660.8" height="7.3" fill="#f6c9aa"/>
<rect x="99.6" y="698.7" width="6" height="7.3" fill="#e9963a"/>
<rect x="146.8" y="698.7" width="6" height="7.3" fill="#e9963a"/>
<rect x="158.6" y="698.7" width="6" height="7.3" fill="#e9963a"/>
<rect x="170.4" y="698.7" width="6" height="7.3" fill="#e9963a"/>
<rect x="205.8" y="698.7" width="6" height="7.3" fill="#e9963a"/>
<rect x="235.3" y="698.7" width="6" height="7.3" fill="#f8eedd"/>
<rect x="241.2" y="698.7" width="11.9" height="7.3" fill="#e9963a"/>
<rect x="353.3" y="698.7" width="6" height="7.3" fill="#e9963a"/>
<rect x="365.1" y="698.7" width="6" height="7.3" fill="#e9963a"/>
<rect x="376.9" y="698.7" width="6" height="7.3" fill="#f8eedd"/>
<rect x="382.8" y="698.7" width="6" height="7.3" fill="#e9963a"/>
<rect x="400.5" y="698.7" width="11.9" height="7.3" fill="#e9963a"/>
<rect x="430" y="698.7" width="6" height="7.3" fill="#e9963a"/>
<rect x="441.8" y="698.7" width="11.9" height="7.3" fill="#e9963a"/>
<rect x="465.4" y="698.7" width="6" height="7.3" fill="#e9963a"/>
<rect x="489" y="698.7" width="11.9" height="7.3" fill="#e9963a"/>
<rect x="565.7" y="698.7" width="6" height="7.3" fill="#e9963a"/>
<rect x="660.1" y="698.7" width="6" height="7.3" fill="#e9963a"/>
<rect x="22.9" y="706" width="660.8" height="7.3" fill="#dbb6ef"/>
<rect x="70.1" y="706" width="6" height="7.3" fill="#9a54d4"/>
<rect x="99.6" y="706" width="11.9" height="7.3" fill="#9a54d4"/>
<rect x="140.9" y="706" width="6" height="7.3" fill="#9a54d4"/>
<rect x="164.5" y="706" width="6" height="7.3" fill="#f0e4f8"/>
<rect x="176.3" y="706" width="6" height="7.3" fill="#f0e4f8"/>
<rect x="199.9" y="706" width="6" height="7.3" fill="#f0e4f8"/>
<rect x="205.8" y="706" width="6" height="7.3" fill="#9a54d4"/>
<rect x="235.3" y="706" width="11.9" height="7.3" fill="#f0e4f8"/>
<rect x="276.6" y="706" width="6" height="7.3" fill="#9a54d4"/>
<rect x="288.4" y="706" width="6" height="7.3" fill="#9a54d4"/>
<rect x="312" y="706" width="17.8" height="7.3" fill="#9a54d4"/>
<rect x="341.5" y="706" width="6" height="7.3" fill="#f0e4f8"/>
<rect x="371" y="706" width="17.8" height="7.3" fill="#f0e4f8"/>
<rect x="418.2" y="706" width="17.8" height="7.3" fill="#9a54d4"/>
<rect x="477.2" y="706" width="11.9" height="7.3" fill="#9a54d4"/>
<rect x="506.7" y="706" width="17.8" height="7.3" fill="#9a54d4"/>
<rect x="530.3" y="706" width="6" height="7.3" fill="#9a54d4"/>
<rect x="542.1" y="706" width="17.8" height="7.3" fill="#9a54d4"/>
<rect x="559.8" y="706" width="11.9" height="7.3" fill="#f0e4f8"/>
<rect x="589.3" y="706" width="11.9" height="7.3" fill="#f0e4f8"/>
<rect x="612.9" y="706" width="11.9" height="7.3" fill="#f0e4f8"/>
<rect x="630.6" y="706" width="6" height="7.3" fill="#9a54d4"/>
<rect x="648.3" y="706" width="6" height="7.3" fill="#f0e4f8"/>
<rect x="671.9" y="706" width="6" height="7.3" fill="#9a54d4"/>
<rect x="22.9" y="713.2" width="660.8" height="7.3" fill="#dbb6ef"/>
<rect x="64.2" y="713.2" width="6" height="7.3" fill="#9a54d4"/>
<rect x="81.9" y="713.2" width="11.9" height="7.3" fill="#9a54d4"/>
<rect x="105.5" y="713.2" width="6" height="7.3" fill="#f0e4f8"/>
<rect x="146.8" y="713.2" width="11.9" height="7.3" fill="#9a54d4"/>
<rect x="164.5" y="713.2" width="17.8" height="7.3" fill="#9a54d4"/>
<rect x="188.1" y="713.2" width="17.8" height="7.3" fill="#9a54d4"/>
<rect x="211.7" y="713.2" width="11.9" height="7.3" fill="#9a54d4"/>
<rect x="235.3" y="713.2" width="6" height="7.3" fill="#9a54d4"/>
<rect x="276.6" y="713.2" width="6" height="7.3" fill="#f0e4f8"/>
<rect x="282.5" y="713.2" width="6" height="7.3" fill="#9a54d4"/>
<rect x="329.7" y="713.2" width="6" height="7.3" fill="#9a54d4"/>
<rect x="376.9" y="713.2" width="6" height="7.3" fill="#9a54d4"/>
<rect x="388.7" y="713.2" width="6" height="7.3" fill="#9a54d4"/>
<rect x="400.5" y="713.2" width="6" height="7.3" fill="#9a54d4"/>
<rect x="412.3" y="713.2" width="6" height="7.3" fill="#9a54d4"/>
<rect x="453.6" y="713.2" width="11.9" height="7.3" fill="#9a54d4"/>
<rect x="471.3" y="713.2" width="6" height="7.3" fill="#f0e4f8"/>
<rect x="483.1" y="713.2" width="6" height="7.3" fill="#f0e4f8"/>
<rect x="500.8" y="713.2" width="6" height="7.3" fill="#f0e4f8"/>
<rect x="518.5" y="713.2" width="6" height="7.3" fill="#f0e4f8"/>
<rect x="530.3" y="713.2" width="6" height="7.3" fill="#f0e4f8"/>
<rect x="536.2" y="713.2" width="6" height="7.3" fill="#9a54d4"/>
<rect x="559.8" y="713.2" width="23.7" height="7.3" fill="#9a54d4"/>
<rect x="589.3" y="713.2" width="6" height="7.3" fill="#9a54d4"/>
<rect x="612.9" y="713.2" width="17.8" height="7.3" fill="#9a54d4"/>
<rect x="642.4" y="713.2" width="11.9" height="7.3" fill="#9a54d4"/>
<rect x="22.9" y="720.4" width="660.8" height="7.3" fill="#dbb6ef"/>
<rect x="22.9" y="720.4" width="6" height="7.3" fill="#9a54d4"/>
<rect x="46.5" y="720.4" width="17.8" height="7.3" fill="#9a54d4"/>
<rect x="93.7" y="720.4" width="6" height="7.3" fill="#9a54d4"/>
<rect x="111.4" y="720.4" width="6" height="7.3" fill="#9a54d4"/>
<rect x="123.2" y="720.4" width="17.8" height="7.3" fill="#9a54d4"/>
<rect x="158.6" y="720.4" width="11.9" height="7.3" fill="#9a54d4"/>
<rect x="176.3" y="720.4" width="6" height="7.3" fill="#9a54d4"/>
<rect x="211.7" y="720.4" width="11.9" height="7.3" fill="#f0e4f8"/>
<rect x="223.5" y="720.4" width="23.7" height="7.3" fill="#9a54d4"/>
<rect x="258.9" y="720.4" width="17.8" height="7.3" fill="#9a54d4"/>
<rect x="294.3" y="720.4" width="11.9" height="7.3" fill="#9a54d4"/>
<rect x="323.8" y="720.4" width="6" height="7.3" fill="#f0e4f8"/>
<rect x="341.5" y="720.4" width="35.5" height="7.3" fill="#9a54d4"/>
<rect x="382.8" y="720.4" width="17.8" height="7.3" fill="#9a54d4"/>
<rect x="406.4" y="720.4" width="6" height="7.3" fill="#9a54d4"/>
<rect x="424.1" y="720.4" width="6" height="7.3" fill="#f0e4f8"/>
<rect x="465.4" y="720.4" width="11.9" height="7.3" fill="#9a54d4"/>
<rect x="483.1" y="720.4" width="6" height="7.3" fill="#9a54d4"/>
<rect x="494.9" y="720.4" width="11.9" height="7.3" fill="#9a54d4"/>
<rect x="524.4" y="720.4" width="6" height="7.3" fill="#9a54d4"/>
<rect x="536.2" y="720.4" width="6" height="7.3" fill="#9a54d4"/>
<rect x="548" y="720.4" width="6" height="7.3" fill="#f0e4f8"/>
<rect x="559.8" y="720.4" width="6" height="7.3" fill="#9a54d4"/>
<rect x="583.4" y="720.4" width="35.5" height="7.3" fill="#9a54d4"/>
<rect x="636.5" y="720.4" width="6" height="7.3" fill="#9a54d4"/>
<rect x="660.1" y="720.4" width="11.9" height="7.3" fill="#9a54d4"/>
<rect x="677.8" y="720.4" width="6" height="7.3" fill="#9a54d4"/>
<path d="M28.8 684.3V727.6M34.7 684.3V727.6M40.6 684.3V727.6M46.5 684.3V727.6M52.4 684.3V727.6M58.3 684.3V727.6M64.2 684.3V727.6M70.1 684.3V727.6M76 684.3V727.6M81.9 684.3V727.6M87.8 684.3V727.6M93.7 684.3V727.6M99.6 684.3V727.6M105.5 684.3V727.6M111.4 684.3V727.6M117.3 684.3V727.6M123.2 684.3V727.6M129.1 684.3V727.6M135 684.3V727.6M140.9 684.3V727.6M146.8 684.3V727.6M152.7 684.3V727.6M158.6 684.3V727.6M164.5 684.3V727.6M170.4 684.3V727.6M176.3 684.3V727.6M182.2 684.3V727.6M188.1 684.3V727.6M194 684.3V727.6M199.9 684.3V727.6M205.8 684.3V727.6M211.7 684.3V727.6M217.6 684.3V727.6M223.5 684.3V727.6M229.4 684.3V727.6M235.3 684.3V727.6M241.2 684.3V727.6M247.1 684.3V727.6M253 684.3V727.6M258.9 684.3V727.6M264.8 684.3V727.6M270.7 684.3V727.6M276.6 684.3V727.6M282.5 684.3V727.6M288.4 684.3V727.6M294.3 684.3V727.6M300.2 684.3V727.6M306.1 684.3V727.6M312 684.3V727.6M317.9 684.3V727.6M323.8 684.3V727.6M329.7 684.3V727.6M335.6 684.3V727.6M341.5 684.3V727.6M347.4 684.3V727.6M353.3 684.3V727.6M359.2 684.3V727.6M365.1 684.3V727.6M371 684.3V727.6M376.9 684.3V727.6M382.8 684.3V727.6M388.7 684.3V727.6M394.6 684.3V727.6M400.5 684.3V727.6M406.4 684.3V727.6M412.3 684.3V727.6M418.2 684.3V727.6M424.1 684.3V727.6M430 684.3V727.6M435.9 684.3V727.6M441.8 684.3V727.6M447.7 684.3V727.6M453.6 684.3V727.6M459.5 684.3V727.6M465.4 684.3V727.6M471.3 684.3V727.6M477.2 684.3V727.6M483.1 684.3V727.6M489 684.3V727.6M494.9 684.3V727.6M500.8 684.3V727.6M506.7 684.3V727.6M512.6 684.3V727.6M518.5 684.3V727.6M524.4 684.3V727.6M530.3 684.3V727.6M536.2 684.3V727.6M542.1 684.3V727.6M548 684.3V727.6M553.9 684.3V727.6M559.8 684.3V727.6M565.7 684.3V727.6M571.6 684.3V727.6M577.5 684.3V727.6M583.4 684.3V727.6M589.3 684.3V727.6M595.2 684.3V727.6M601.1 684.3V727.6M607 684.3V727.6M612.9 684.3V727.6M618.8 684.3V727.6M624.7 684.3V727.6M630.6 684.3V727.6M636.5 684.3V727.6M642.4 684.3V727.6M648.3 684.3V727.6M654.2 684.3V727.6M660.1 684.3V727.6M666 684.3V727.6M671.9 684.3V727.6M677.8 684.3V727.6M22.9 691.5H683.7M22.9 698.7H683.7M22.9 706H683.7M22.9 713.2H683.7M22.9 720.4H683.7" stroke="#ffffff" stroke-opacity="0.4" stroke-width="0.6"/>
<rect x="22.9" y="684.3" width="660.8" height="43.3" fill="none" stroke="#111" stroke-width="1.3"/>
<rect x="22.9" y="728.2" width="660.8" height="1.8" fill="#aaaaaa"/>
<rect x="22.9" y="729.9" width="6" height="8.4" fill="#f08b91"/>
<rect x="28.8" y="729.9" width="17.8" height="8.4" fill="#fad8db"/>
<rect x="46.5" y="729.9" width="6" height="8.4" fill="#f5b3b9"/>
<rect x="52.4" y="729.9" width="6" height="8.4" fill="#f08b91"/>
<rect x="58.3" y="729.9" width="6" height="8.4" fill="#ea5b5e"/>
<rect x="64.2" y="729.9" width="17.8" height="8.4" fill="#f5b3b9"/>
<rect x="81.9" y="729.9" width="6" height="8.4" fill="#ea5b5e"/>
<rect x="87.8" y="729.9" width="6" height="8.4" fill="#f5b3b9"/>
<rect x="93.7" y="729.9" width="17.8" height="8.4" fill="#fad8db"/>
<rect x="111.4" y="729.9" width="6" height="8.4" fill="#f08b91"/>
<rect x="117.3" y="729.9" width="6" height="8.4" fill="#f5b3b9"/>
<rect x="123.2" y="729.9" width="6" height="8.4" fill="#fad8db"/>
<rect x="129.1" y="729.9" width="6" height="8.4" fill="#f5b3b9"/>
<rect x="135" y="729.9" width="6" height="8.4" fill="#fad8db"/>
<rect x="140.9" y="729.9" width="6" height="8.4" fill="#f5b3b9"/>
<rect x="146.8" y="729.9" width="11.9" height="8.4" fill="#fad8db"/>
<rect x="158.6" y="729.9" width="6" height="8.4" fill="#f5b3b9"/>
<rect x="164.5" y="729.9" width="65" height="8.4" fill="#fad8db"/>
<rect x="229.4" y="729.9" width="6" height="8.4" fill="#f5b3b9"/>
<rect x="235.3" y="729.9" width="6" height="8.4" fill="#fad8db"/>
<rect x="241.2" y="729.9" width="6" height="8.4" fill="#f5b3b9"/>
<rect x="247.1" y="729.9" width="6" height="8.4" fill="#f08b91"/>
<rect x="253" y="729.9" width="11.9" height="8.4" fill="#f5b3b9"/>
<rect x="264.8" y="729.9" width="53.1" height="8.4" fill="#fad8db"/>
<rect x="317.9" y="729.9" width="11.9" height="8.4" fill="#f5b3b9"/>
<rect x="329.7" y="729.9" width="11.9" height="8.4" fill="#fad8db"/>
<rect x="341.5" y="729.9" width="29.6" height="8.4" fill="#f5b3b9"/>
<rect x="371" y="729.9" width="6" height="8.4" fill="#fad8db"/>
<rect x="376.9" y="729.9" width="6" height="8.4" fill="#ea5b5e"/>
<rect x="382.8" y="729.9" width="17.8" height="8.4" fill="#fad8db"/>
<rect x="400.5" y="729.9" width="11.9" height="8.4" fill="#f5b3b9"/>
<rect x="412.3" y="729.9" width="70.9" height="8.4" fill="#fad8db"/>
<rect x="483.1" y="729.9" width="6" height="8.4" fill="#f5b3b9"/>
<rect x="489" y="729.9" width="29.6" height="8.4" fill="#fad8db"/>
<rect x="518.5" y="729.9" width="11.9" height="8.4" fill="#f5b3b9"/>
<rect x="530.3" y="729.9" width="6" height="8.4" fill="#fad8db"/>
<rect x="536.2" y="729.9" width="6" height="8.4" fill="#f08b91"/>
<rect x="542.1" y="729.9" width="17.8" height="8.4" fill="#f5b3b9"/>
<rect x="559.8" y="729.9" width="29.6" height="8.4" fill="#fad8db"/>
<rect x="589.3" y="729.9" width="6" height="8.4" fill="#f5b3b9"/>
<rect x="595.2" y="729.9" width="29.6" height="8.4" fill="#fad8db"/>
<rect x="624.7" y="729.9" width="6" height="8.4" fill="#f5b3b9"/>
<rect x="630.6" y="729.9" width="29.6" height="8.4" fill="#fad8db"/>
<rect x="660.1" y="729.9" width="6" height="8.4" fill="#f5b3b9"/>
<rect x="666" y="729.9" width="17.8" height="8.4" fill="#fad8db"/>
<path d="M28.8 729.9V738.3M34.7 729.9V738.3M40.6 729.9V738.3M46.5 729.9V738.3M52.4 729.9V738.3M58.3 729.9V738.3M64.2 729.9V738.3M70.1 729.9V738.3M76 729.9V738.3M81.9 729.9V738.3M87.8 729.9V738.3M93.7 729.9V738.3M99.6 729.9V738.3M105.5 729.9V738.3M111.4 729.9V738.3M117.3 729.9V738.3M123.2 729.9V738.3M129.1 729.9V738.3M135 729.9V738.3M140.9 729.9V738.3M146.8 729.9V738.3M152.7 729.9V738.3M158.6 729.9V738.3M164.5 729.9V738.3M170.4 729.9V738.3M176.3 729.9V738.3M182.2 729.9V738.3M188.1 729.9V738.3M194 729.9V738.3M199.9 729.9V738.3M205.8 729.9V738.3M211.7 729.9V738.3M217.6 729.9V738.3M223.5 729.9V738.3M229.4 729.9V738.3M235.3 729.9V738.3M241.2 729.9V738.3M247.1 729.9V738.3M253 729.9V738.3M258.9 729.9V738.3M264.8 729.9V738.3M270.7 729.9V738.3M276.6 729.9V738.3M282.5 729.9V738.3M288.4 729.9V738.3M294.3 729.9V738.3M300.2 729.9V738.3M306.1 729.9V738.3M312 729.9V738.3M317.9 729.9V738.3M323.8 729.9V738.3M329.7 729.9V738.3M335.6 729.9V738.3M341.5 729.9V738.3M347.4 729.9V738.3M353.3 729.9V738.3M359.2 729.9V738.3M365.1 729.9V738.3M371 729.9V738.3M376.9 729.9V738.3M382.8 729.9V738.3M388.7 729.9V738.3M394.6 729.9V738.3M400.5 729.9V738.3M406.4 729.9V738.3M412.3 729.9V738.3M418.2 729.9V738.3M424.1 729.9V738.3M430 729.9V738.3M435.9 729.9V738.3M441.8 729.9V738.3M447.7 729.9V738.3M453.6 729.9V738.3M459.5 729.9V738.3M465.4 729.9V738.3M471.3 729.9V738.3M477.2 729.9V738.3M483.1 729.9V738.3M489 729.9V738.3M494.9 729.9V738.3M500.8 729.9V738.3M506.7 729.9V738.3M512.6 729.9V738.3M518.5 729.9V738.3M524.4 729.9V738.3M530.3 729.9V738.3M536.2 729.9V738.3M542.1 729.9V738.3M548 729.9V738.3M553.9 729.9V738.3M559.8 729.9V738.3M565.7 729.9V738.3M571.6 729.9V738.3M577.5 729.9V738.3M583.4 729.9V738.3M589.3 729.9V738.3M595.2 729.9V738.3M601.1 729.9V738.3M607 729.9V738.3M612.9 729.9V738.3M618.8 729.9V738.3M624.7 729.9V738.3M630.6 729.9V738.3M636.5 729.9V738.3M642.4 729.9V738.3M648.3 729.9V738.3M654.2 729.9V738.3M660.1 729.9V738.3M666 729.9V738.3M671.9 729.9V738.3M677.8 729.9V738.3" stroke="#ffffff" stroke-opacity="0.35" stroke-width="0.6"/>
<rect x="22.9" y="729.9" width="660.8" height="8.4" fill="none" stroke="#111" stroke-width="1.1"/>
<text x="9.3" y="706.8" font-size="9.2" text-anchor="middle" font-weight="bold" fill="#000" transform="rotate(-90 9.3 706.8)">DIPG7</text>
<text x="18.5" y="695.1" font-size="6.8" text-anchor="middle" fill="#222" stroke="#222" stroke-width="0.12" transform="rotate(-90 18.5 695.1)">FB232</text>
<text x="18.5" y="716.8" font-size="6.8" text-anchor="middle" fill="#222" stroke="#222" stroke-width="0.12" transform="rotate(-90 18.5 716.8)">DMSO</text>
<text transform="translate(38.2 791.9) rotate(-90)" font-size="7.2" fill="#111" stroke="#111" stroke-width="0.18">ARHGDIB</text>
<text transform="translate(45.4 791.9) rotate(-90)" font-size="7.2" fill="#111" stroke="#111" stroke-width="0.18">LNP1</text>
<text transform="translate(52.6 791.9) rotate(-90)" font-size="7.2" fill="#111" stroke="#111" stroke-width="0.18">H1FX−AS1</text>
<text transform="translate(59.8 791.9) rotate(-90)" font-size="7.2" fill="#111" stroke="#111" stroke-width="0.18">AC110285.7</text>
<text transform="translate(67 791.9) rotate(-90)" font-size="7.2" fill="#111" stroke="#111" stroke-width="0.18">ICAM3</text>
<text transform="translate(74.2 791.9) rotate(-90)" font-size="7.2" fill="#111" stroke="#111" stroke-width="0.18">SAPCD2</text>
<text transform="translate(81.4 791.9) rotate(-90)" font-size="7.2" font-weight="bold" fill="#111" stroke="#111" stroke-width="0.18">CCNB1</text>
<text transform="translate(88.6 791.9) rotate(-90)" font-size="7.2" fill="#111" stroke="#111" stroke-width="0.18">EDNRB</text>
<text transform="translate(95.8 791.9) rotate(-90)" font-size="7.2" font-weight="bold" fill="#111" stroke="#111" stroke-width="0.18">E2F2</text>
<text transform="translate(103 791.9) rotate(-90)" font-size="7.2" fill="#111" stroke="#111" stroke-width="0.18">SDF2L1</text>
<text transform="translate(110.2 791.9) rotate(-90)" font-size="7.2" fill="#111" stroke="#111" stroke-width="0.18">TNFAIP8L1</text>
<text transform="translate(117.4 791.9) rotate(-90)" font-size="7.2" font-weight="bold" fill="#111" stroke="#111" stroke-width="0.18">CDCA3</text>
<text transform="translate(124.6 791.9) rotate(-90)" font-size="7.2" fill="#111" stroke="#111" stroke-width="0.18">AC245884.9</text>
<text transform="translate(131.8 791.9) rotate(-90)" font-size="7.2" fill="#111" stroke="#111" stroke-width="0.18">IKBKE</text>
<text transform="translate(139 791.9) rotate(-90)" font-size="7.2" fill="#111" stroke="#111" stroke-width="0.18">MLC1</text>
<text transform="translate(146.2 791.9) rotate(-90)" font-size="7.2" font-weight="bold" fill="#111" stroke="#111" stroke-width="0.18">PLK1</text>
<text transform="translate(153.4 791.9) rotate(-90)" font-size="7.2" font-weight="bold" fill="#111" stroke="#111" stroke-width="0.18">KIF20A</text>
<text transform="translate(160.6 791.9) rotate(-90)" font-size="7.2" font-weight="bold" fill="#111" stroke="#111" stroke-width="0.18">PIF1</text>
<text transform="translate(167.8 791.9) rotate(-90)" font-size="7.2" fill="#111" stroke="#111" stroke-width="0.18">WDR4</text>
<text transform="translate(175 791.9) rotate(-90)" font-size="7.2" font-weight="bold" fill="#111" stroke="#111" stroke-width="0.18">RBM14</text>
<text transform="translate(182.2 791.9) rotate(-90)" font-size="7.2" fill="#111" stroke="#111" stroke-width="0.18">SNHG4</text>
<text transform="translate(189.4 791.9) rotate(-90)" font-size="7.2" fill="#111" stroke="#111" stroke-width="0.18">EEF1AKMT2</text>
<text transform="translate(196.6 791.9) rotate(-90)" font-size="7.2" fill="#111" stroke="#111" stroke-width="0.18">DANCR</text>
<text transform="translate(203.8 791.9) rotate(-90)" font-size="7.2" fill="#111" stroke="#111" stroke-width="0.18">MAP2K6</text>
<text transform="translate(211 791.9) rotate(-90)" font-size="7.2" fill="#111" stroke="#111" stroke-width="0.18">DLEU2</text>
<text transform="translate(218.3 791.9) rotate(-90)" font-size="7.2" fill="#111" stroke="#111" stroke-width="0.18">MCTS2P</text>
<text transform="translate(225.5 791.9) rotate(-90)" font-size="7.2" fill="#111" stroke="#111" stroke-width="0.18">IPO4</text>
<text transform="translate(232.7 791.9) rotate(-90)" font-size="7.2" fill="#111" stroke="#111" stroke-width="0.18">SNHG21</text>
<text transform="translate(239.9 791.9) rotate(-90)" font-size="7.2" fill="#111" stroke="#111" stroke-width="0.18">DCTPP1</text>
<text transform="translate(247.1 791.9) rotate(-90)" font-size="7.2" font-weight="bold" fill="#111" stroke="#111" stroke-width="0.18">CENPX</text>
<text transform="translate(254.3 791.9) rotate(-90)" font-size="7.2" fill="#111" stroke="#111" stroke-width="0.18">NPM3</text>
<text transform="translate(261.5 791.9) rotate(-90)" font-size="7.2" fill="#111" stroke="#111" stroke-width="0.18">SLC12A9</text>
<text transform="translate(268.7 791.9) rotate(-90)" font-size="7.2" fill="#111" stroke="#111" stroke-width="0.18">TRMT61A</text>
<text transform="translate(275.9 791.9) rotate(-90)" font-size="7.2" fill="#111" stroke="#111" stroke-width="0.18">SLC5A6</text>
<text transform="translate(283.1 791.9) rotate(-90)" font-size="7.2" fill="#111" stroke="#111" stroke-width="0.18">NR2C2AP</text>
<text transform="translate(290.3 791.9) rotate(-90)" font-size="7.2" fill="#111" stroke="#111" stroke-width="0.18">TIMM13</text>
<text transform="translate(297.5 791.9) rotate(-90)" font-size="7.2" fill="#111" stroke="#111" stroke-width="0.18">ITGAE</text>
<text transform="translate(304.7 791.9) rotate(-90)" font-size="7.2" fill="#111" stroke="#111" stroke-width="0.18">PYCR3</text>
<text transform="translate(311.9 791.9) rotate(-90)" font-size="7.2" fill="#111" stroke="#111" stroke-width="0.18">CCDC28B</text>
<text transform="translate(319.1 791.9) rotate(-90)" font-size="7.2" fill="#111" stroke="#111" stroke-width="0.18">PRR34−AS1</text>
<text transform="translate(326.3 791.9) rotate(-90)" font-size="7.2" fill="#111" stroke="#111" stroke-width="0.18">SLC25A12</text>
<text transform="translate(333.5 791.9) rotate(-90)" font-size="7.2" fill="#111" stroke="#111" stroke-width="0.18">NSMCE1</text>
<text transform="translate(340.7 791.9) rotate(-90)" font-size="7.2" fill="#111" stroke="#111" stroke-width="0.18">SMPD2</text>
<text transform="translate(347.9 791.9) rotate(-90)" font-size="7.2" fill="#111" stroke="#111" stroke-width="0.18">CYB561</text>
<text transform="translate(355.1 791.9) rotate(-90)" font-size="7.2" fill="#111" stroke="#111" stroke-width="0.18">EIF5A</text>
<text transform="translate(362.3 791.9) rotate(-90)" font-size="7.2" fill="#111" stroke="#111" stroke-width="0.18">ITPRIPL1</text>
<text transform="translate(369.5 791.9) rotate(-90)" font-size="7.2" fill="#111" stroke="#111" stroke-width="0.18">EBNA1BP2</text>
<text transform="translate(376.7 791.9) rotate(-90)" font-size="7.2" font-weight="bold" fill="#111" stroke="#111" stroke-width="0.18">SRSF2</text>
<text transform="translate(383.9 791.9) rotate(-90)" font-size="7.2" font-weight="bold" fill="#111" stroke="#111" stroke-width="0.18">SRSF1</text>
<text transform="translate(391.1 791.9) rotate(-90)" font-size="7.2" fill="#111" stroke="#111" stroke-width="0.18">PUSL1</text>
<text transform="translate(398.4 791.9) rotate(-90)" font-size="7.2" fill="#111" stroke="#111" stroke-width="0.18">CTXN1</text>
<text transform="translate(405.6 791.9) rotate(-90)" font-size="7.2" fill="#111" stroke="#111" stroke-width="0.18">HNRNPA2B1</text>
<text transform="translate(412.8 791.9) rotate(-90)" font-size="7.2" font-weight="bold" fill="#111" stroke="#111" stroke-width="0.18">HNRNPU</text>
<text transform="translate(420 791.9) rotate(-90)" font-size="7.2" fill="#111" stroke="#111" stroke-width="0.18">CLN8</text>
<text transform="translate(427.2 791.9) rotate(-90)" font-size="7.2" fill="#111" stroke="#111" stroke-width="0.18">FERMT1</text>
<text transform="translate(434.4 791.9) rotate(-90)" font-size="7.2" fill="#111" stroke="#111" stroke-width="0.18">ACTL8</text>
<text transform="translate(441.6 791.9) rotate(-90)" font-size="7.2" fill="#111" stroke="#111" stroke-width="0.18">KLRG1</text>
<text transform="translate(448.8 791.9) rotate(-90)" font-size="7.2" fill="#111" stroke="#111" stroke-width="0.18">ZBTB12</text>
<text transform="translate(456 791.9) rotate(-90)" font-size="7.2" font-weight="bold" fill="#111" stroke="#111" stroke-width="0.18">CCNE2</text>
<text transform="translate(463.2 791.9) rotate(-90)" font-size="7.2" fill="#111" stroke="#111" stroke-width="0.18">RNASEH</text>
<text transform="translate(470.4 791.9) rotate(-90)" font-size="7.2" fill="#111" stroke="#111" stroke-width="0.18">MAGOHB</text>
<text transform="translate(477.6 791.9) rotate(-90)" font-size="7.2" font-weight="bold" fill="#111" stroke="#111" stroke-width="0.18">MCM5</text>
<text transform="translate(484.8 791.9) rotate(-90)" font-size="7.2" fill="#111" stroke="#111" stroke-width="0.18">FAM136A</text>
<text transform="translate(492 791.9) rotate(-90)" font-size="7.2" fill="#111" stroke="#111" stroke-width="0.18">FPGT</text>
<text transform="translate(499.2 791.9) rotate(-90)" font-size="7.2" fill="#111" stroke="#111" stroke-width="0.18">RTN4IP1</text>
<text transform="translate(506.4 791.9) rotate(-90)" font-size="7.2" fill="#111" stroke="#111" stroke-width="0.18">C4orf19</text>
<text transform="translate(513.6 791.9) rotate(-90)" font-size="7.2" font-weight="bold" fill="#111" stroke="#111" stroke-width="0.18">CENPE</text>
<text transform="translate(520.8 791.9) rotate(-90)" font-size="7.2" fill="#111" stroke="#111" stroke-width="0.18">SLC1A3</text>
<text transform="translate(528 791.9) rotate(-90)" font-size="7.2" fill="#111" stroke="#111" stroke-width="0.18">C1QL4</text>
<text transform="translate(535.2 791.9) rotate(-90)" font-size="7.2" fill="#111" stroke="#111" stroke-width="0.18">KLHDC8A</text>
<text transform="translate(542.4 791.9) rotate(-90)" font-size="7.2" fill="#111" stroke="#111" stroke-width="0.18">TRAM2−AS1</text>
<text transform="translate(549.6 791.9) rotate(-90)" font-size="7.2" fill="#111" stroke="#111" stroke-width="0.18">CNIH2</text>
<text transform="translate(556.8 791.9) rotate(-90)" font-size="7.2" fill="#111" stroke="#111" stroke-width="0.18">AL161911.1</text>
<text transform="translate(564 791.9) rotate(-90)" font-size="7.2" fill="#111" stroke="#111" stroke-width="0.18">MYO5C</text>
<text transform="translate(571.2 791.9) rotate(-90)" font-size="7.2" font-weight="bold" fill="#111" stroke="#111" stroke-width="0.18">CNN2</text>
<text transform="translate(578.5 791.9) rotate(-90)" font-size="7.2" fill="#111" stroke="#111" stroke-width="0.18">HNRNPM</text>
<text transform="translate(585.7 791.9) rotate(-90)" font-size="7.2" fill="#111" stroke="#111" stroke-width="0.18">C9orf116</text>
<text transform="translate(592.9 791.9) rotate(-90)" font-size="7.2" fill="#111" stroke="#111" stroke-width="0.18">CD3EAP</text>
<text transform="translate(600.1 791.9) rotate(-90)" font-size="7.2" fill="#111" stroke="#111" stroke-width="0.18">HSBP1L1</text>
<text transform="translate(607.3 791.9) rotate(-90)" font-size="7.2" fill="#111" stroke="#111" stroke-width="0.18">PIANP</text>
<rect x="33" y="794.1" width="576.3" height="7.2" fill="#f6c9aa"/>
<rect x="54.6" y="794.1" width="7.3" height="7.2" fill="#e9963a"/>
<rect x="97.8" y="794.1" width="7.3" height="7.2" fill="#e9963a"/>
<rect x="119.4" y="794.1" width="7.3" height="7.2" fill="#e9963a"/>
<rect x="169.9" y="794.1" width="7.3" height="7.2" fill="#e9963a"/>
<rect x="184.3" y="794.1" width="7.3" height="7.2" fill="#e9963a"/>
<rect x="234.7" y="794.1" width="14.5" height="7.2" fill="#e9963a"/>
<rect x="256.3" y="794.1" width="14.5" height="7.2" fill="#e9963a"/>
<rect x="277.9" y="794.1" width="21.7" height="7.2" fill="#e9963a"/>
<rect x="306.8" y="794.1" width="7.3" height="7.2" fill="#e9963a"/>
<rect x="321.2" y="794.1" width="7.3" height="7.2" fill="#e9963a"/>
<rect x="364.4" y="794.1" width="7.3" height="7.2" fill="#e9963a"/>
<rect x="386" y="794.1" width="14.5" height="7.2" fill="#e9963a"/>
<rect x="429.2" y="794.1" width="7.3" height="7.2" fill="#e9963a"/>
<rect x="436.4" y="794.1" width="7.3" height="7.2" fill="#f8eedd"/>
<rect x="443.6" y="794.1" width="7.3" height="7.2" fill="#e9963a"/>
<rect x="501.3" y="794.1" width="7.3" height="7.2" fill="#e9963a"/>
<rect x="522.9" y="794.1" width="14.5" height="7.2" fill="#e9963a"/>
<rect x="551.7" y="794.1" width="7.3" height="7.2" fill="#e9963a"/>
<rect x="580.5" y="794.1" width="14.5" height="7.2" fill="#e9963a"/>
<rect x="33" y="801.3" width="576.3" height="7.2" fill="#f6c9aa"/>
<rect x="61.8" y="801.3" width="7.3" height="7.2" fill="#e9963a"/>
<rect x="162.7" y="801.3" width="14.5" height="7.2" fill="#e9963a"/>
<rect x="227.5" y="801.3" width="7.3" height="7.2" fill="#e9963a"/>
<rect x="299.5" y="801.3" width="7.3" height="7.2" fill="#e9963a"/>
<rect x="314" y="801.3" width="7.3" height="7.2" fill="#e9963a"/>
<rect x="342.8" y="801.3" width="7.3" height="7.2" fill="#e9963a"/>
<rect x="393.2" y="801.3" width="7.3" height="7.2" fill="#e9963a"/>
<rect x="414.8" y="801.3" width="7.3" height="7.2" fill="#e9963a"/>
<rect x="465.2" y="801.3" width="7.3" height="7.2" fill="#e9963a"/>
<rect x="33" y="808.5" width="576.3" height="7.2" fill="#f6c9aa"/>
<rect x="177.1" y="808.5" width="7.3" height="7.2" fill="#e9963a"/>
<rect x="220.3" y="808.5" width="7.3" height="7.2" fill="#e9963a"/>
<rect x="227.5" y="808.5" width="7.3" height="7.2" fill="#f8eedd"/>
<rect x="436.4" y="808.5" width="7.3" height="7.2" fill="#e9963a"/>
<rect x="450.8" y="808.5" width="7.3" height="7.2" fill="#e9963a"/>
<rect x="486.9" y="808.5" width="7.3" height="7.2" fill="#e9963a"/>
<rect x="537.3" y="808.5" width="7.3" height="7.2" fill="#e9963a"/>
<rect x="33" y="815.7" width="576.3" height="7.2" fill="#dbb6ef"/>
<rect x="47.4" y="815.7" width="7.3" height="7.2" fill="#9a54d4"/>
<rect x="83.4" y="815.7" width="7.3" height="7.2" fill="#9a54d4"/>
<rect x="105" y="815.7" width="7.3" height="7.2" fill="#9a54d4"/>
<rect x="162.7" y="815.7" width="7.3" height="7.2" fill="#9a54d4"/>
<rect x="177.1" y="815.7" width="7.3" height="7.2" fill="#9a54d4"/>
<rect x="198.7" y="815.7" width="7.3" height="7.2" fill="#9a54d4"/>
<rect x="213.1" y="815.7" width="7.3" height="7.2" fill="#9a54d4"/>
<rect x="220.3" y="815.7" width="7.3" height="7.2" fill="#f0e4f8"/>
<rect x="299.5" y="815.7" width="7.3" height="7.2" fill="#9a54d4"/>
<rect x="314" y="815.7" width="14.5" height="7.2" fill="#9a54d4"/>
<rect x="386" y="815.7" width="7.3" height="7.2" fill="#9a54d4"/>
<rect x="429.2" y="815.7" width="7.3" height="7.2" fill="#f0e4f8"/>
<rect x="436.4" y="815.7" width="7.3" height="7.2" fill="#9a54d4"/>
<rect x="465.2" y="815.7" width="7.3" height="7.2" fill="#9a54d4"/>
<rect x="486.9" y="815.7" width="7.3" height="7.2" fill="#9a54d4"/>
<rect x="537.3" y="815.7" width="7.3" height="7.2" fill="#9a54d4"/>
<rect x="558.9" y="815.7" width="7.3" height="7.2" fill="#9a54d4"/>
<rect x="580.5" y="815.7" width="28.9" height="7.2" fill="#9a54d4"/>
<rect x="33" y="822.8" width="576.3" height="7.2" fill="#dbb6ef"/>
<rect x="33" y="822.8" width="14.5" height="7.2" fill="#9a54d4"/>
<rect x="76.2" y="822.8" width="14.5" height="7.2" fill="#9a54d4"/>
<rect x="119.4" y="822.8" width="7.3" height="7.2" fill="#9a54d4"/>
<rect x="148.3" y="822.8" width="7.3" height="7.2" fill="#9a54d4"/>
<rect x="184.3" y="822.8" width="7.3" height="7.2" fill="#9a54d4"/>
<rect x="198.7" y="822.8" width="14.5" height="7.2" fill="#9a54d4"/>
<rect x="227.5" y="822.8" width="7.3" height="7.2" fill="#f0e4f8"/>
<rect x="234.7" y="822.8" width="14.5" height="7.2" fill="#9a54d4"/>
<rect x="270.7" y="822.8" width="14.5" height="7.2" fill="#9a54d4"/>
<rect x="292.3" y="822.8" width="7.3" height="7.2" fill="#9a54d4"/>
<rect x="357.2" y="822.8" width="7.3" height="7.2" fill="#9a54d4"/>
<rect x="400.4" y="822.8" width="7.3" height="7.2" fill="#9a54d4"/>
<rect x="414.8" y="822.8" width="7.3" height="7.2" fill="#9a54d4"/>
<rect x="436.4" y="822.8" width="7.3" height="7.2" fill="#f0e4f8"/>
<rect x="450.8" y="822.8" width="14.5" height="7.2" fill="#9a54d4"/>
<rect x="494.1" y="822.8" width="14.5" height="7.2" fill="#9a54d4"/>
<rect x="515.7" y="822.8" width="7.3" height="7.2" fill="#9a54d4"/>
<rect x="558.9" y="822.8" width="7.3" height="7.2" fill="#9a54d4"/>
<rect x="580.5" y="822.8" width="7.3" height="7.2" fill="#9a54d4"/>
<rect x="594.9" y="822.8" width="14.5" height="7.2" fill="#f0e4f8"/>
<rect x="33" y="830" width="576.3" height="7.2" fill="#dbb6ef"/>
<rect x="61.8" y="830" width="7.3" height="7.2" fill="#9a54d4"/>
<rect x="119.4" y="830" width="7.3" height="7.2" fill="#f0e4f8"/>
<rect x="126.7" y="830" width="7.3" height="7.2" fill="#9a54d4"/>
<rect x="191.5" y="830" width="7.3" height="7.2" fill="#9a54d4"/>
<rect x="198.7" y="830" width="7.3" height="7.2" fill="#f0e4f8"/>
<rect x="220.3" y="830" width="14.5" height="7.2" fill="#9a54d4"/>
<rect x="256.3" y="830" width="14.5" height="7.2" fill="#9a54d4"/>
<rect x="285.1" y="830" width="7.3" height="7.2" fill="#9a54d4"/>
<rect x="306.8" y="830" width="7.3" height="7.2" fill="#9a54d4"/>
<rect x="335.6" y="830" width="7.3" height="7.2" fill="#9a54d4"/>
<rect x="393.2" y="830" width="7.3" height="7.2" fill="#9a54d4"/>
<rect x="422" y="830" width="14.5" height="7.2" fill="#9a54d4"/>
<rect x="530.1" y="830" width="7.3" height="7.2" fill="#9a54d4"/>
<rect x="544.5" y="830" width="14.5" height="7.2" fill="#9a54d4"/>
<rect x="580.5" y="830" width="7.3" height="7.2" fill="#f0e4f8"/>
<rect x="602.1" y="830" width="7.3" height="7.2" fill="#f0e4f8"/>
<path d="M40.2 794.1V837.2M47.4 794.1V837.2M54.6 794.1V837.2M61.8 794.1V837.2M69 794.1V837.2M76.2 794.1V837.2M83.4 794.1V837.2M90.6 794.1V837.2M97.8 794.1V837.2M105 794.1V837.2M112.2 794.1V837.2M119.4 794.1V837.2M126.7 794.1V837.2M133.9 794.1V837.2M141.1 794.1V837.2M148.3 794.1V837.2M155.5 794.1V837.2M162.7 794.1V837.2M169.9 794.1V837.2M177.1 794.1V837.2M184.3 794.1V837.2M191.5 794.1V837.2M198.7 794.1V837.2M205.9 794.1V837.2M213.1 794.1V837.2M220.3 794.1V837.2M227.5 794.1V837.2M234.7 794.1V837.2M241.9 794.1V837.2M249.1 794.1V837.2M256.3 794.1V837.2M263.5 794.1V837.2M270.7 794.1V837.2M277.9 794.1V837.2M285.1 794.1V837.2M292.3 794.1V837.2M299.5 794.1V837.2M306.8 794.1V837.2M314 794.1V837.2M321.2 794.1V837.2M328.4 794.1V837.2M335.6 794.1V837.2M342.8 794.1V837.2M350 794.1V837.2M357.2 794.1V837.2M364.4 794.1V837.2M371.6 794.1V837.2M378.8 794.1V837.2M386 794.1V837.2M393.2 794.1V837.2M400.4 794.1V837.2M407.6 794.1V837.2M414.8 794.1V837.2M422 794.1V837.2M429.2 794.1V837.2M436.4 794.1V837.2M443.6 794.1V837.2M450.8 794.1V837.2M458 794.1V837.2M465.2 794.1V837.2M472.4 794.1V837.2M479.6 794.1V837.2M486.9 794.1V837.2M494.1 794.1V837.2M501.3 794.1V837.2M508.5 794.1V837.2M515.7 794.1V837.2M522.9 794.1V837.2M530.1 794.1V837.2M537.3 794.1V837.2M544.5 794.1V837.2M551.7 794.1V837.2M558.9 794.1V837.2M566.1 794.1V837.2M573.3 794.1V837.2M580.5 794.1V837.2M587.7 794.1V837.2M594.9 794.1V837.2M602.1 794.1V837.2M33 801.3H609.3M33 808.5H609.3M33 815.7H609.3M33 822.8H609.3M33 830H609.3" stroke="#ffffff" stroke-opacity="0.4" stroke-width="0.6"/>
<rect x="33" y="794.1" width="576.3" height="43.1" fill="none" stroke="#111" stroke-width="1.3"/>
<rect x="33" y="841" width="7.3" height="9.1" fill="#5452bf"/>
<rect x="40.2" y="841" width="14.5" height="9.1" fill="#6f6dcc"/>
<rect x="54.6" y="841" width="14.5" height="9.1" fill="#8d8ad9"/>
<rect x="69" y="841" width="50.5" height="9.1" fill="#5452bf"/>
<rect x="119.4" y="841" width="7.3" height="9.1" fill="#6f6dcc"/>
<rect x="126.7" y="841" width="7.3" height="9.1" fill="#5452bf"/>
<rect x="133.9" y="841" width="21.7" height="9.1" fill="#3d3bae"/>
<rect x="155.5" y="841" width="7.3" height="9.1" fill="#5452bf"/>
<rect x="162.7" y="841" width="36.1" height="9.1" fill="#bfbdeb"/>
<rect x="198.7" y="841" width="21.7" height="9.1" fill="#6f6dcc"/>
<rect x="220.3" y="841" width="14.5" height="9.1" fill="#bfbdeb"/>
<rect x="234.7" y="841" width="14.5" height="9.1" fill="#6f6dcc"/>
<rect x="249.1" y="841" width="21.7" height="9.1" fill="#bfbdeb"/>
<rect x="270.7" y="841" width="7.3" height="9.1" fill="#6f6dcc"/>
<rect x="277.9" y="841" width="14.5" height="9.1" fill="#bfbdeb"/>
<rect x="292.3" y="841" width="7.3" height="9.1" fill="#6f6dcc"/>
<rect x="299.5" y="841" width="28.9" height="9.1" fill="#bfbdeb"/>
<rect x="328.4" y="841" width="7.3" height="9.1" fill="#6f6dcc"/>
<rect x="335.6" y="841" width="7.3" height="9.1" fill="#bfbdeb"/>
<rect x="342.8" y="841" width="7.3" height="9.1" fill="#6f6dcc"/>
<rect x="350" y="841" width="28.9" height="9.1" fill="#bfbdeb"/>
<rect x="378.8" y="841" width="14.5" height="9.1" fill="#6f6dcc"/>
<rect x="393.2" y="841" width="28.9" height="9.1" fill="#bfbdeb"/>
<rect x="422" y="841" width="7.3" height="9.1" fill="#6f6dcc"/>
<rect x="429.2" y="841" width="7.3" height="9.1" fill="#5452bf"/>
<rect x="436.4" y="841" width="7.3" height="9.1" fill="#6f6dcc"/>
<rect x="443.6" y="841" width="7.3" height="9.1" fill="#5452bf"/>
<rect x="450.8" y="841" width="21.7" height="9.1" fill="#6f6dcc"/>
<rect x="472.4" y="841" width="21.7" height="9.1" fill="#5452bf"/>
<rect x="494.1" y="841" width="7.3" height="9.1" fill="#6f6dcc"/>
<rect x="501.3" y="841" width="21.7" height="9.1" fill="#5452bf"/>
<rect x="522.9" y="841" width="21.7" height="9.1" fill="#6f6dcc"/>
<rect x="544.5" y="841" width="7.3" height="9.1" fill="#bfbdeb"/>
<rect x="551.7" y="841" width="7.3" height="9.1" fill="#6f6dcc"/>
<rect x="558.9" y="841" width="7.3" height="9.1" fill="#5452bf"/>
<rect x="566.1" y="841" width="21.7" height="9.1" fill="#6f6dcc"/>
<rect x="587.7" y="841" width="21.7" height="9.1" fill="#bfbdeb"/>
<path d="M40.2 841V850.1M47.4 841V850.1M54.6 841V850.1M61.8 841V850.1M69 841V850.1M76.2 841V850.1M83.4 841V850.1M90.6 841V850.1M97.8 841V850.1M105 841V850.1M112.2 841V850.1M119.4 841V850.1M126.7 841V850.1M133.9 841V850.1M141.1 841V850.1M148.3 841V850.1M155.5 841V850.1M162.7 841V850.1M169.9 841V850.1M177.1 841V850.1M184.3 841V850.1M191.5 841V850.1M198.7 841V850.1M205.9 841V850.1M213.1 841V850.1M220.3 841V850.1M227.5 841V850.1M234.7 841V850.1M241.9 841V850.1M249.1 841V850.1M256.3 841V850.1M263.5 841V850.1M270.7 841V850.1M277.9 841V850.1M285.1 841V850.1M292.3 841V850.1M299.5 841V850.1M306.8 841V850.1M314 841V850.1M321.2 841V850.1M328.4 841V850.1M335.6 841V850.1M342.8 841V850.1M350 841V850.1M357.2 841V850.1M364.4 841V850.1M371.6 841V850.1M378.8 841V850.1M386 841V850.1M393.2 841V850.1M400.4 841V850.1M407.6 841V850.1M414.8 841V850.1M422 841V850.1M429.2 841V850.1M436.4 841V850.1M443.6 841V850.1M450.8 841V850.1M458 841V850.1M465.2 841V850.1M472.4 841V850.1M479.6 841V850.1M486.9 841V850.1M494.1 841V850.1M501.3 841V850.1M508.5 841V850.1M515.7 841V850.1M522.9 841V850.1M530.1 841V850.1M537.3 841V850.1M544.5 841V850.1M551.7 841V850.1M558.9 841V850.1M566.1 841V850.1M573.3 841V850.1M580.5 841V850.1M587.7 841V850.1M594.9 841V850.1M602.1 841V850.1" stroke="#ffffff" stroke-opacity="0.35" stroke-width="0.6"/>
<rect x="33" y="841" width="576.3" height="9.1" fill="none" stroke="#111" stroke-width="1.1"/>
<text x="21.9" y="817.1" font-size="9.2" text-anchor="middle" font-weight="bold" fill="#000" transform="rotate(-90 21.9 817.1)">DIPGXIII</text>
<text x="30.2" y="804.9" font-size="7.0" text-anchor="middle" fill="#222" stroke="#222" stroke-width="0.12" transform="rotate(-90 30.2 804.9)">FB232</text>
<text x="30.2" y="826.4" font-size="7.0" text-anchor="middle" fill="#222" stroke="#222" stroke-width="0.12" transform="rotate(-90 30.2 826.4)">DMSO</text>
<rect x="33" y="855.3" width="576.3" height="7.2" fill="#f6c9aa"/>
<rect x="40.2" y="855.3" width="7.3" height="7.2" fill="#e9963a"/>
<rect x="61.8" y="855.3" width="14.5" height="7.2" fill="#e9963a"/>
<rect x="105" y="855.3" width="7.3" height="7.2" fill="#e9963a"/>
<rect x="126.7" y="855.3" width="7.3" height="7.2" fill="#e9963a"/>
<rect x="155.5" y="855.3" width="7.3" height="7.2" fill="#e9963a"/>
<rect x="177.1" y="855.3" width="7.3" height="7.2" fill="#e9963a"/>
<rect x="198.7" y="855.3" width="7.3" height="7.2" fill="#e9963a"/>
<rect x="220.3" y="855.3" width="7.3" height="7.2" fill="#e9963a"/>
<rect x="256.3" y="855.3" width="7.3" height="7.2" fill="#e9963a"/>
<rect x="306.8" y="855.3" width="21.7" height="7.2" fill="#e9963a"/>
<rect x="393.2" y="855.3" width="7.3" height="7.2" fill="#e9963a"/>
<rect x="422" y="855.3" width="7.3" height="7.2" fill="#f8eedd"/>
<rect x="436.4" y="855.3" width="7.3" height="7.2" fill="#f8eedd"/>
<rect x="515.7" y="855.3" width="28.9" height="7.2" fill="#e9963a"/>
<rect x="594.9" y="855.3" width="14.5" height="7.2" fill="#e9963a"/>
<rect x="33" y="862.4" width="576.3" height="7.2" fill="#f6c9aa"/>
<rect x="83.4" y="862.4" width="7.3" height="7.2" fill="#e9963a"/>
<rect x="133.9" y="862.4" width="7.3" height="7.2" fill="#e9963a"/>
<rect x="184.3" y="862.4" width="7.3" height="7.2" fill="#e9963a"/>
<rect x="213.1" y="862.4" width="7.3" height="7.2" fill="#e9963a"/>
<rect x="220.3" y="862.4" width="7.3" height="7.2" fill="#f8eedd"/>
<rect x="335.6" y="862.4" width="7.3" height="7.2" fill="#e9963a"/>
<rect x="465.2" y="862.4" width="7.3" height="7.2" fill="#e9963a"/>
<rect x="486.9" y="862.4" width="7.3" height="7.2" fill="#e9963a"/>
<rect x="501.3" y="862.4" width="7.3" height="7.2" fill="#e9963a"/>
<rect x="522.9" y="862.4" width="7.3" height="7.2" fill="#e9963a"/>
<rect x="544.5" y="862.4" width="14.5" height="7.2" fill="#e9963a"/>
<rect x="580.5" y="862.4" width="7.3" height="7.2" fill="#e9963a"/>
<rect x="33" y="869.6" width="576.3" height="7.2" fill="#f6c9aa"/>
<rect x="90.6" y="869.6" width="14.5" height="7.2" fill="#e9963a"/>
<rect x="112.2" y="869.6" width="7.3" height="7.2" fill="#e9963a"/>
<rect x="141.1" y="869.6" width="7.3" height="7.2" fill="#e9963a"/>
<rect x="162.7" y="869.6" width="7.3" height="7.2" fill="#e9963a"/>
<rect x="191.5" y="869.6" width="14.5" height="7.2" fill="#e9963a"/>
<rect x="241.9" y="869.6" width="7.3" height="7.2" fill="#e9963a"/>
<rect x="270.7" y="869.6" width="7.3" height="7.2" fill="#e9963a"/>
<rect x="292.3" y="869.6" width="7.3" height="7.2" fill="#e9963a"/>
<rect x="314" y="869.6" width="7.3" height="7.2" fill="#e9963a"/>
<rect x="357.2" y="869.6" width="28.9" height="7.2" fill="#e9963a"/>
<rect x="400.4" y="869.6" width="57.7" height="7.2" fill="#e9963a"/>
<rect x="472.4" y="869.6" width="14.5" height="7.2" fill="#e9963a"/>
<rect x="558.9" y="869.6" width="7.3" height="7.2" fill="#e9963a"/>
<rect x="573.3" y="869.6" width="7.3" height="7.2" fill="#e9963a"/>
<rect x="33" y="876.7" width="576.3" height="7.2" fill="#dbb6ef"/>
<rect x="33" y="876.7" width="7.3" height="7.2" fill="#9a54d4"/>
<rect x="47.4" y="876.7" width="7.3" height="7.2" fill="#f0e4f8"/>
<rect x="54.6" y="876.7" width="7.3" height="7.2" fill="#9a54d4"/>
<rect x="69" y="876.7" width="7.3" height="7.2" fill="#9a54d4"/>
<rect x="90.6" y="876.7" width="14.5" height="7.2" fill="#9a54d4"/>
<rect x="119.4" y="876.7" width="14.5" height="7.2" fill="#9a54d4"/>
<rect x="155.5" y="876.7" width="14.5" height="7.2" fill="#9a54d4"/>
<rect x="198.7" y="876.7" width="7.3" height="7.2" fill="#9a54d4"/>
<rect x="227.5" y="876.7" width="43.3" height="7.2" fill="#9a54d4"/>
<rect x="306.8" y="876.7" width="7.3" height="7.2" fill="#9a54d4"/>
<rect x="335.6" y="876.7" width="14.5" height="7.2" fill="#9a54d4"/>
<rect x="357.2" y="876.7" width="7.3" height="7.2" fill="#9a54d4"/>
<rect x="371.6" y="876.7" width="7.3" height="7.2" fill="#9a54d4"/>
<rect x="386" y="876.7" width="14.5" height="7.2" fill="#9a54d4"/>
<rect x="407.6" y="876.7" width="50.5" height="7.2" fill="#9a54d4"/>
<rect x="465.2" y="876.7" width="14.5" height="7.2" fill="#9a54d4"/>
<rect x="486.9" y="876.7" width="7.3" height="7.2" fill="#9a54d4"/>
<rect x="501.3" y="876.7" width="7.3" height="7.2" fill="#9a54d4"/>
<rect x="522.9" y="876.7" width="7.3" height="7.2" fill="#9a54d4"/>
<rect x="537.3" y="876.7" width="7.3" height="7.2" fill="#f0e4f8"/>
<rect x="573.3" y="876.7" width="14.5" height="7.2" fill="#9a54d4"/>
<rect x="33" y="883.8" width="576.3" height="7.2" fill="#dbb6ef"/>
<rect x="40.2" y="883.8" width="14.5" height="7.2" fill="#9a54d4"/>
<rect x="61.8" y="883.8" width="7.3" height="7.2" fill="#9a54d4"/>
<rect x="105" y="883.8" width="7.3" height="7.2" fill="#9a54d4"/>
<rect x="119.4" y="883.8" width="7.3" height="7.2" fill="#9a54d4"/>
<rect x="162.7" y="883.8" width="7.3" height="7.2" fill="#9a54d4"/>
<rect x="177.1" y="883.8" width="14.5" height="7.2" fill="#9a54d4"/>
<rect x="256.3" y="883.8" width="7.3" height="7.2" fill="#f0e4f8"/>
<rect x="270.7" y="883.8" width="50.5" height="7.2" fill="#9a54d4"/>
<rect x="429.2" y="883.8" width="14.5" height="7.2" fill="#9a54d4"/>
<rect x="450.8" y="883.8" width="7.3" height="7.2" fill="#9a54d4"/>
<rect x="501.3" y="883.8" width="7.3" height="7.2" fill="#9a54d4"/>
<rect x="515.7" y="883.8" width="7.3" height="7.2" fill="#9a54d4"/>
<rect x="537.3" y="883.8" width="7.3" height="7.2" fill="#9a54d4"/>
<rect x="551.7" y="883.8" width="21.7" height="7.2" fill="#9a54d4"/>
<rect x="587.7" y="883.8" width="7.3" height="7.2" fill="#9a54d4"/>
<rect x="33" y="891" width="576.3" height="7.2" fill="#dbb6ef"/>
<rect x="47.4" y="891" width="7.3" height="7.2" fill="#f0e4f8"/>
<rect x="76.2" y="891" width="14.5" height="7.2" fill="#9a54d4"/>
<rect x="119.4" y="891" width="7.3" height="7.2" fill="#f0e4f8"/>
<rect x="133.9" y="891" width="7.3" height="7.2" fill="#9a54d4"/>
<rect x="148.3" y="891" width="7.3" height="7.2" fill="#9a54d4"/>
<rect x="205.9" y="891" width="7.3" height="7.2" fill="#9a54d4"/>
<rect x="220.3" y="891" width="7.3" height="7.2" fill="#9a54d4"/>
<rect x="321.2" y="891" width="7.3" height="7.2" fill="#9a54d4"/>
<rect x="335.6" y="891" width="7.3" height="7.2" fill="#9a54d4"/>
<rect x="429.2" y="891" width="14.5" height="7.2" fill="#f0e4f8"/>
<rect x="537.3" y="891" width="14.5" height="7.2" fill="#9a54d4"/>
<rect x="594.9" y="891" width="14.5" height="7.2" fill="#9a54d4"/>
<path d="M40.2 855.3V898.1M47.4 855.3V898.1M54.6 855.3V898.1M61.8 855.3V898.1M69 855.3V898.1M76.2 855.3V898.1M83.4 855.3V898.1M90.6 855.3V898.1M97.8 855.3V898.1M105 855.3V898.1M112.2 855.3V898.1M119.4 855.3V898.1M126.7 855.3V898.1M133.9 855.3V898.1M141.1 855.3V898.1M148.3 855.3V898.1M155.5 855.3V898.1M162.7 855.3V898.1M169.9 855.3V898.1M177.1 855.3V898.1M184.3 855.3V898.1M191.5 855.3V898.1M198.7 855.3V898.1M205.9 855.3V898.1M213.1 855.3V898.1M220.3 855.3V898.1M227.5 855.3V898.1M234.7 855.3V898.1M241.9 855.3V898.1M249.1 855.3V898.1M256.3 855.3V898.1M263.5 855.3V898.1M270.7 855.3V898.1M277.9 855.3V898.1M285.1 855.3V898.1M292.3 855.3V898.1M299.5 855.3V898.1M306.8 855.3V898.1M314 855.3V898.1M321.2 855.3V898.1M328.4 855.3V898.1M335.6 855.3V898.1M342.8 855.3V898.1M350 855.3V898.1M357.2 855.3V898.1M364.4 855.3V898.1M371.6 855.3V898.1M378.8 855.3V898.1M386 855.3V898.1M393.2 855.3V898.1M400.4 855.3V898.1M407.6 855.3V898.1M414.8 855.3V898.1M422 855.3V898.1M429.2 855.3V898.1M436.4 855.3V898.1M443.6 855.3V898.1M450.8 855.3V898.1M458 855.3V898.1M465.2 855.3V898.1M472.4 855.3V898.1M479.6 855.3V898.1M486.9 855.3V898.1M494.1 855.3V898.1M501.3 855.3V898.1M508.5 855.3V898.1M515.7 855.3V898.1M522.9 855.3V898.1M530.1 855.3V898.1M537.3 855.3V898.1M544.5 855.3V898.1M551.7 855.3V898.1M558.9 855.3V898.1M566.1 855.3V898.1M573.3 855.3V898.1M580.5 855.3V898.1M587.7 855.3V898.1M594.9 855.3V898.1M602.1 855.3V898.1M33 862.4H609.3M33 869.6H609.3M33 876.7H609.3M33 883.8H609.3M33 891H609.3" stroke="#ffffff" stroke-opacity="0.4" stroke-width="0.6"/>
<rect x="33" y="855.3" width="576.3" height="42.8" fill="none" stroke="#111" stroke-width="1.3"/>
<rect x="33" y="902.4" width="14.5" height="9.7" fill="#5452bf"/>
<rect x="47.4" y="902.4" width="7.3" height="9.7" fill="#3d3bae"/>
<rect x="54.6" y="902.4" width="14.5" height="9.7" fill="#5452bf"/>
<rect x="69" y="902.4" width="14.5" height="9.7" fill="#bfbdeb"/>
<rect x="83.4" y="902.4" width="21.7" height="9.7" fill="#6f6dcc"/>
<rect x="105" y="902.4" width="14.5" height="9.7" fill="#bfbdeb"/>
<rect x="119.4" y="902.4" width="14.5" height="9.7" fill="#5452bf"/>
<rect x="133.9" y="902.4" width="14.5" height="9.7" fill="#6f6dcc"/>
<rect x="148.3" y="902.4" width="14.5" height="9.7" fill="#bfbdeb"/>
<rect x="162.7" y="902.4" width="14.5" height="9.7" fill="#6f6dcc"/>
<rect x="177.1" y="902.4" width="7.3" height="9.7" fill="#bfbdeb"/>
<rect x="184.3" y="902.4" width="7.3" height="9.7" fill="#6f6dcc"/>
<rect x="191.5" y="902.4" width="7.3" height="9.7" fill="#5452bf"/>
<rect x="198.7" y="902.4" width="7.3" height="9.7" fill="#6f6dcc"/>
<rect x="205.9" y="902.4" width="14.5" height="9.7" fill="#5452bf"/>
<rect x="220.3" y="902.4" width="36.1" height="9.7" fill="#bfbdeb"/>
<rect x="256.3" y="902.4" width="14.5" height="9.7" fill="#6f6dcc"/>
<rect x="270.7" y="902.4" width="43.3" height="9.7" fill="#bfbdeb"/>
<rect x="314" y="902.4" width="14.5" height="9.7" fill="#6f6dcc"/>
<rect x="328.4" y="902.4" width="57.7" height="9.7" fill="#bfbdeb"/>
<rect x="386" y="902.4" width="7.3" height="9.7" fill="#6f6dcc"/>
<rect x="393.2" y="902.4" width="43.3" height="9.7" fill="#bfbdeb"/>
<rect x="436.4" y="902.4" width="7.3" height="9.7" fill="#6f6dcc"/>
<rect x="443.6" y="902.4" width="21.7" height="9.7" fill="#bfbdeb"/>
<rect x="465.2" y="902.4" width="7.3" height="9.7" fill="#6f6dcc"/>
<rect x="472.4" y="902.4" width="21.7" height="9.7" fill="#bfbdeb"/>
<rect x="494.1" y="902.4" width="7.3" height="9.7" fill="#6f6dcc"/>
<rect x="501.3" y="902.4" width="14.5" height="9.7" fill="#bfbdeb"/>
<rect x="515.7" y="902.4" width="7.3" height="9.7" fill="#6f6dcc"/>
<rect x="522.9" y="902.4" width="14.5" height="9.7" fill="#bfbdeb"/>
<rect x="537.3" y="902.4" width="7.3" height="9.7" fill="#6f6dcc"/>
<rect x="544.5" y="902.4" width="7.3" height="9.7" fill="#bfbdeb"/>
<rect x="551.7" y="902.4" width="7.3" height="9.7" fill="#6f6dcc"/>
<rect x="558.9" y="902.4" width="21.7" height="9.7" fill="#bfbdeb"/>
<rect x="580.5" y="902.4" width="21.7" height="9.7" fill="#6f6dcc"/>
<rect x="602.1" y="902.4" width="7.3" height="9.7" fill="#5452bf"/>
<path d="M40.2 902.4V912.1M47.4 902.4V912.1M54.6 902.4V912.1M61.8 902.4V912.1M69 902.4V912.1M76.2 902.4V912.1M83.4 902.4V912.1M90.6 902.4V912.1M97.8 902.4V912.1M105 902.4V912.1M112.2 902.4V912.1M119.4 902.4V912.1M126.7 902.4V912.1M133.9 902.4V912.1M141.1 902.4V912.1M148.3 902.4V912.1M155.5 902.4V912.1M162.7 902.4V912.1M169.9 902.4V912.1M177.1 902.4V912.1M184.3 902.4V912.1M191.5 902.4V912.1M198.7 902.4V912.1M205.9 902.4V912.1M213.1 902.4V912.1M220.3 902.4V912.1M227.5 902.4V912.1M234.7 902.4V912.1M241.9 902.4V912.1M249.1 902.4V912.1M256.3 902.4V912.1M263.5 902.4V912.1M270.7 902.4V912.1M277.9 902.4V912.1M285.1 902.4V912.1M292.3 902.4V912.1M299.5 902.4V912.1M306.8 902.4V912.1M314 902.4V912.1M321.2 902.4V912.1M328.4 902.4V912.1M335.6 902.4V912.1M342.8 902.4V912.1M350 902.4V912.1M357.2 902.4V912.1M364.4 902.4V912.1M371.6 902.4V912.1M378.8 902.4V912.1M386 902.4V912.1M393.2 902.4V912.1M400.4 902.4V912.1M407.6 902.4V912.1M414.8 902.4V912.1M422 902.4V912.1M429.2 902.4V912.1M436.4 902.4V912.1M443.6 902.4V912.1M450.8 902.4V912.1M458 902.4V912.1M465.2 902.4V912.1M472.4 902.4V912.1M479.6 902.4V912.1M486.9 902.4V912.1M494.1 902.4V912.1M501.3 902.4V912.1M508.5 902.4V912.1M515.7 902.4V912.1M522.9 902.4V912.1M530.1 902.4V912.1M537.3 902.4V912.1M544.5 902.4V912.1M551.7 902.4V912.1M558.9 902.4V912.1M566.1 902.4V912.1M573.3 902.4V912.1M580.5 902.4V912.1M587.7 902.4V912.1M594.9 902.4V912.1M602.1 902.4V912.1" stroke="#ffffff" stroke-opacity="0.35" stroke-width="0.6"/>
<rect x="33" y="902.4" width="576.3" height="9.7" fill="none" stroke="#111" stroke-width="1.1"/>
<text x="21.9" y="877.5" font-size="9.2" text-anchor="middle" font-weight="bold" fill="#000" transform="rotate(-90 21.9 877.5)">DIPGXVII</text>
<text x="30.2" y="866" font-size="7.0" text-anchor="middle" fill="#222" stroke="#222" stroke-width="0.12" transform="rotate(-90 30.2 866)">FB232</text>
<text x="30.2" y="887.4" font-size="7.0" text-anchor="middle" fill="#222" stroke="#222" stroke-width="0.12" transform="rotate(-90 30.2 887.4)">DMSO</text>
<rect x="33" y="917.4" width="576.3" height="7.3" fill="#f6c9aa"/>
<rect x="141.1" y="917.4" width="7.3" height="7.3" fill="#e9963a"/>
<rect x="155.5" y="917.4" width="7.3" height="7.3" fill="#f8eedd"/>
<rect x="292.3" y="917.4" width="7.3" height="7.3" fill="#f8eedd"/>
<rect x="306.8" y="917.4" width="7.3" height="7.3" fill="#e9963a"/>
<rect x="328.4" y="917.4" width="7.3" height="7.3" fill="#e9963a"/>
<rect x="393.2" y="917.4" width="14.5" height="7.3" fill="#e9963a"/>
<rect x="486.9" y="917.4" width="7.3" height="7.3" fill="#e9963a"/>
<rect x="537.3" y="917.4" width="14.5" height="7.3" fill="#e9963a"/>
<rect x="566.1" y="917.4" width="7.3" height="7.3" fill="#e9963a"/>
<rect x="580.5" y="917.4" width="7.3" height="7.3" fill="#e9963a"/>
<rect x="602.1" y="917.4" width="7.3" height="7.3" fill="#e9963a"/>
<rect x="33" y="924.6" width="576.3" height="7.3" fill="#f6c9aa"/>
<rect x="47.4" y="924.6" width="7.3" height="7.3" fill="#e9963a"/>
<rect x="69" y="924.6" width="7.3" height="7.3" fill="#f8eedd"/>
<rect x="198.7" y="924.6" width="14.5" height="7.3" fill="#f8eedd"/>
<rect x="220.3" y="924.6" width="7.3" height="7.3" fill="#e9963a"/>
<rect x="234.7" y="924.6" width="21.7" height="7.3" fill="#f8eedd"/>
<rect x="263.5" y="924.6" width="57.7" height="7.3" fill="#f8eedd"/>
<rect x="328.4" y="924.6" width="14.5" height="7.3" fill="#f8eedd"/>
<rect x="486.9" y="924.6" width="7.3" height="7.3" fill="#f8eedd"/>
<rect x="522.9" y="924.6" width="7.3" height="7.3" fill="#e9963a"/>
<rect x="537.3" y="924.6" width="7.3" height="7.3" fill="#f8eedd"/>
<rect x="594.9" y="924.6" width="14.5" height="7.3" fill="#e9963a"/>
<rect x="33" y="931.8" width="576.3" height="7.3" fill="#f6c9aa"/>
<rect x="54.6" y="931.8" width="36.1" height="7.3" fill="#e9963a"/>
<rect x="97.8" y="931.8" width="7.3" height="7.3" fill="#e9963a"/>
<rect x="112.2" y="931.8" width="28.9" height="7.3" fill="#e9963a"/>
<rect x="155.5" y="931.8" width="14.5" height="7.3" fill="#e9963a"/>
<rect x="184.3" y="931.8" width="36.1" height="7.3" fill="#e9963a"/>
<rect x="227.5" y="931.8" width="165.7" height="7.3" fill="#e9963a"/>
<rect x="407.6" y="931.8" width="100.9" height="7.3" fill="#e9963a"/>
<rect x="530.1" y="931.8" width="7.3" height="7.3" fill="#e9963a"/>
<rect x="587.7" y="931.8" width="7.3" height="7.3" fill="#e9963a"/>
<rect x="602.1" y="931.8" width="7.3" height="7.3" fill="#f8eedd"/>
<rect x="33" y="939" width="576.3" height="7.3" fill="#dbb6ef"/>
<rect x="54.6" y="939" width="14.5" height="7.3" fill="#9a54d4"/>
<rect x="83.4" y="939" width="14.5" height="7.3" fill="#9a54d4"/>
<rect x="119.4" y="939" width="7.3" height="7.3" fill="#9a54d4"/>
<rect x="169.9" y="939" width="7.3" height="7.3" fill="#9a54d4"/>
<rect x="191.5" y="939" width="7.3" height="7.3" fill="#9a54d4"/>
<rect x="213.1" y="939" width="7.3" height="7.3" fill="#f0e4f8"/>
<rect x="314" y="939" width="14.5" height="7.3" fill="#9a54d4"/>
<rect x="364.4" y="939" width="7.3" height="7.3" fill="#9a54d4"/>
<rect x="386" y="939" width="14.5" height="7.3" fill="#9a54d4"/>
<rect x="422" y="939" width="7.3" height="7.3" fill="#9a54d4"/>
<rect x="465.2" y="939" width="7.3" height="7.3" fill="#9a54d4"/>
<rect x="486.9" y="939" width="21.7" height="7.3" fill="#9a54d4"/>
<rect x="587.7" y="939" width="7.3" height="7.3" fill="#9a54d4"/>
<rect x="594.9" y="939" width="7.3" height="7.3" fill="#f0e4f8"/>
<rect x="33" y="946.3" width="576.3" height="7.3" fill="#dbb6ef"/>
<rect x="33" y="946.3" width="7.3" height="7.3" fill="#f0e4f8"/>
<rect x="47.4" y="946.3" width="7.3" height="7.3" fill="#9a54d4"/>
<rect x="97.8" y="946.3" width="21.7" height="7.3" fill="#9a54d4"/>
<rect x="119.4" y="946.3" width="7.3" height="7.3" fill="#f0e4f8"/>
<rect x="155.5" y="946.3" width="14.5" height="7.3" fill="#9a54d4"/>
<rect x="205.9" y="946.3" width="14.5" height="7.3" fill="#9a54d4"/>
<rect x="241.9" y="946.3" width="14.5" height="7.3" fill="#f0e4f8"/>
<rect x="314" y="946.3" width="7.3" height="7.3" fill="#f0e4f8"/>
<rect x="386" y="946.3" width="7.3" height="7.3" fill="#f0e4f8"/>
<rect x="429.2" y="946.3" width="7.3" height="7.3" fill="#9a54d4"/>
<rect x="486.9" y="946.3" width="7.3" height="7.3" fill="#f0e4f8"/>
<rect x="508.5" y="946.3" width="7.3" height="7.3" fill="#9a54d4"/>
<rect x="522.9" y="946.3" width="7.3" height="7.3" fill="#9a54d4"/>
<rect x="594.9" y="946.3" width="7.3" height="7.3" fill="#9a54d4"/>
<rect x="33" y="953.5" width="576.3" height="7.3" fill="#dbb6ef"/>
<rect x="33" y="953.5" width="7.3" height="7.3" fill="#9a54d4"/>
<rect x="69" y="953.5" width="7.3" height="7.3" fill="#9a54d4"/>
<rect x="83.4" y="953.5" width="7.3" height="7.3" fill="#9a54d4"/>
<rect x="119.4" y="953.5" width="21.7" height="7.3" fill="#9a54d4"/>
<rect x="177.1" y="953.5" width="28.9" height="7.3" fill="#9a54d4"/>
<rect x="213.1" y="953.5" width="50.5" height="7.3" fill="#9a54d4"/>
<rect x="277.9" y="953.5" width="21.7" height="7.3" fill="#9a54d4"/>
<rect x="306.8" y="953.5" width="7.3" height="7.3" fill="#9a54d4"/>
<rect x="335.6" y="953.5" width="7.3" height="7.3" fill="#9a54d4"/>
<rect x="357.2" y="953.5" width="43.3" height="7.3" fill="#9a54d4"/>
<rect x="414.8" y="953.5" width="7.3" height="7.3" fill="#9a54d4"/>
<rect x="443.6" y="953.5" width="7.3" height="7.3" fill="#9a54d4"/>
<rect x="458" y="953.5" width="21.7" height="7.3" fill="#9a54d4"/>
<rect x="530.1" y="953.5" width="7.3" height="7.3" fill="#9a54d4"/>
<rect x="544.5" y="953.5" width="14.5" height="7.3" fill="#9a54d4"/>
<rect x="566.1" y="953.5" width="14.5" height="7.3" fill="#9a54d4"/>
<rect x="594.9" y="953.5" width="14.5" height="7.3" fill="#9a54d4"/>
<path d="M40.2 917.4V960.7M47.4 917.4V960.7M54.6 917.4V960.7M61.8 917.4V960.7M69 917.4V960.7M76.2 917.4V960.7M83.4 917.4V960.7M90.6 917.4V960.7M97.8 917.4V960.7M105 917.4V960.7M112.2 917.4V960.7M119.4 917.4V960.7M126.7 917.4V960.7M133.9 917.4V960.7M141.1 917.4V960.7M148.3 917.4V960.7M155.5 917.4V960.7M162.7 917.4V960.7M169.9 917.4V960.7M177.1 917.4V960.7M184.3 917.4V960.7M191.5 917.4V960.7M198.7 917.4V960.7M205.9 917.4V960.7M213.1 917.4V960.7M220.3 917.4V960.7M227.5 917.4V960.7M234.7 917.4V960.7M241.9 917.4V960.7M249.1 917.4V960.7M256.3 917.4V960.7M263.5 917.4V960.7M270.7 917.4V960.7M277.9 917.4V960.7M285.1 917.4V960.7M292.3 917.4V960.7M299.5 917.4V960.7M306.8 917.4V960.7M314 917.4V960.7M321.2 917.4V960.7M328.4 917.4V960.7M335.6 917.4V960.7M342.8 917.4V960.7M350 917.4V960.7M357.2 917.4V960.7M364.4 917.4V960.7M371.6 917.4V960.7M378.8 917.4V960.7M386 917.4V960.7M393.2 917.4V960.7M400.4 917.4V960.7M407.6 917.4V960.7M414.8 917.4V960.7M422 917.4V960.7M429.2 917.4V960.7M436.4 917.4V960.7M443.6 917.4V960.7M450.8 917.4V960.7M458 917.4V960.7M465.2 917.4V960.7M472.4 917.4V960.7M479.6 917.4V960.7M486.9 917.4V960.7M494.1 917.4V960.7M501.3 917.4V960.7M508.5 917.4V960.7M515.7 917.4V960.7M522.9 917.4V960.7M530.1 917.4V960.7M537.3 917.4V960.7M544.5 917.4V960.7M551.7 917.4V960.7M558.9 917.4V960.7M566.1 917.4V960.7M573.3 917.4V960.7M580.5 917.4V960.7M587.7 917.4V960.7M594.9 917.4V960.7M602.1 917.4V960.7M33 924.6H609.3M33 931.8H609.3M33 939H609.3M33 946.3H609.3M33 953.5H609.3" stroke="#ffffff" stroke-opacity="0.4" stroke-width="0.6"/>
<rect x="33" y="917.4" width="576.3" height="43.3" fill="none" stroke="#111" stroke-width="1.3"/>
<rect x="33" y="964.9" width="7.3" height="9.3" fill="#5452bf"/>
<rect x="40.2" y="964.9" width="7.3" height="9.3" fill="#6f6dcc"/>
<rect x="47.4" y="964.9" width="7.3" height="9.3" fill="#8d8ad9"/>
<rect x="54.6" y="964.9" width="36.1" height="9.3" fill="#bfbdeb"/>
<rect x="90.6" y="964.9" width="7.3" height="9.3" fill="#8d8ad9"/>
<rect x="97.8" y="964.9" width="21.7" height="9.3" fill="#bfbdeb"/>
<rect x="119.4" y="964.9" width="7.3" height="9.3" fill="#8d8ad9"/>
<rect x="126.7" y="964.9" width="21.7" height="9.3" fill="#bfbdeb"/>
<rect x="148.3" y="964.9" width="7.3" height="9.3" fill="#8d8ad9"/>
<rect x="155.5" y="964.9" width="21.7" height="9.3" fill="#bfbdeb"/>
<rect x="177.1" y="964.9" width="7.3" height="9.3" fill="#8d8ad9"/>
<rect x="184.3" y="964.9" width="14.5" height="9.3" fill="#bfbdeb"/>
<rect x="198.7" y="964.9" width="14.5" height="9.3" fill="#8d8ad9"/>
<rect x="213.1" y="964.9" width="14.5" height="9.3" fill="#bfbdeb"/>
<rect x="227.5" y="964.9" width="7.3" height="9.3" fill="#8d8ad9"/>
<rect x="234.7" y="964.9" width="194.6" height="9.3" fill="#bfbdeb"/>
<rect x="429.2" y="964.9" width="7.3" height="9.3" fill="#5452bf"/>
<rect x="436.4" y="964.9" width="7.3" height="9.3" fill="#6f6dcc"/>
<rect x="443.6" y="964.9" width="72.1" height="9.3" fill="#bfbdeb"/>
<rect x="515.7" y="964.9" width="7.3" height="9.3" fill="#6f6dcc"/>
<rect x="522.9" y="964.9" width="28.9" height="9.3" fill="#bfbdeb"/>
<rect x="551.7" y="964.9" width="14.5" height="9.3" fill="#6f6dcc"/>
<rect x="566.1" y="964.9" width="7.3" height="9.3" fill="#bfbdeb"/>
<rect x="573.3" y="964.9" width="7.3" height="9.3" fill="#6f6dcc"/>
<rect x="580.5" y="964.9" width="7.3" height="9.3" fill="#bfbdeb"/>
<rect x="587.7" y="964.9" width="7.3" height="9.3" fill="#6f6dcc"/>
<rect x="594.9" y="964.9" width="7.3" height="9.3" fill="#5452bf"/>
<rect x="602.1" y="964.9" width="7.3" height="9.3" fill="#6f6dcc"/>
<path d="M40.2 964.9V974.2M47.4 964.9V974.2M54.6 964.9V974.2M61.8 964.9V974.2M69 964.9V974.2M76.2 964.9V974.2M83.4 964.9V974.2M90.6 964.9V974.2M97.8 964.9V974.2M105 964.9V974.2M112.2 964.9V974.2M119.4 964.9V974.2M126.7 964.9V974.2M133.9 964.9V974.2M141.1 964.9V974.2M148.3 964.9V974.2M155.5 964.9V974.2M162.7 964.9V974.2M169.9 964.9V974.2M177.1 964.9V974.2M184.3 964.9V974.2M191.5 964.9V974.2M198.7 964.9V974.2M205.9 964.9V974.2M213.1 964.9V974.2M220.3 964.9V974.2M227.5 964.9V974.2M234.7 964.9V974.2M241.9 964.9V974.2M249.1 964.9V974.2M256.3 964.9V974.2M263.5 964.9V974.2M270.7 964.9V974.2M277.9 964.9V974.2M285.1 964.9V974.2M292.3 964.9V974.2M299.5 964.9V974.2M306.8 964.9V974.2M314 964.9V974.2M321.2 964.9V974.2M328.4 964.9V974.2M335.6 964.9V974.2M342.8 964.9V974.2M350 964.9V974.2M357.2 964.9V974.2M364.4 964.9V974.2M371.6 964.9V974.2M378.8 964.9V974.2M386 964.9V974.2M393.2 964.9V974.2M400.4 964.9V974.2M407.6 964.9V974.2M414.8 964.9V974.2M422 964.9V974.2M429.2 964.9V974.2M436.4 964.9V974.2M443.6 964.9V974.2M450.8 964.9V974.2M458 964.9V974.2M465.2 964.9V974.2M472.4 964.9V974.2M479.6 964.9V974.2M486.9 964.9V974.2M494.1 964.9V974.2M501.3 964.9V974.2M508.5 964.9V974.2M515.7 964.9V974.2M522.9 964.9V974.2M530.1 964.9V974.2M537.3 964.9V974.2M544.5 964.9V974.2M551.7 964.9V974.2M558.9 964.9V974.2M566.1 964.9V974.2M573.3 964.9V974.2M580.5 964.9V974.2M587.7 964.9V974.2M594.9 964.9V974.2M602.1 964.9V974.2" stroke="#ffffff" stroke-opacity="0.35" stroke-width="0.6"/>
<rect x="33" y="964.9" width="576.3" height="9.3" fill="none" stroke="#111" stroke-width="1.1"/>
<text x="21.9" y="939.8" font-size="9.2" text-anchor="middle" font-weight="bold" fill="#000" transform="rotate(-90 21.9 939.8)">DIPG7</text>
<text x="30.2" y="928.2" font-size="7.0" text-anchor="middle" fill="#222" stroke="#222" stroke-width="0.12" transform="rotate(-90 30.2 928.2)">FB232</text>
<text x="30.2" y="949.9" font-size="7.0" text-anchor="middle" fill="#222" stroke="#222" stroke-width="0.12" transform="rotate(-90 30.2 949.9)">DMSO</text>
<rect x="640.3" y="792.9" width="10.7" height="10.6" fill="#e9963a"/>
<rect x="640.3" y="803.4" width="10.7" height="10.6" fill="#f6c9aa"/>
<rect x="640.3" y="813.8" width="10.7" height="10.6" fill="#f8eedd"/>
<rect x="640.3" y="824.3" width="10.7" height="10.6" fill="#f0e4f8"/>
<rect x="640.3" y="834.8" width="10.7" height="10.6" fill="#d9b2ef"/>
<rect x="640.3" y="845.2" width="10.7" height="10.6" fill="#9a54d4"/>
<text x="652.6" y="795.8" font-size="7.2" fill="#222" stroke="#222" stroke-width="0.12">1.5</text>
<text x="652.9" y="826.1" font-size="7.2" fill="#222" stroke="#222" stroke-width="0.12">0</text>
<text x="653.2" y="858.5" font-size="7.2" fill="#222" stroke="#222" stroke-width="0.12">−1.5</text>
<text x="636.6" y="826.5" font-size="9.4" text-anchor="middle" fill="#111" stroke="#111" stroke-width="0.12" transform="rotate(-90 636.6 826.5)">Zscore</text>
<rect x="640.3" y="882" width="10.7" height="5.95" fill="#e23434"/>
<rect x="640.3" y="887.9" width="10.7" height="5.95" fill="#ea5a5e"/>
<rect x="640.3" y="893.8" width="10.7" height="5.95" fill="#f08a90"/>
<rect x="640.3" y="899.7" width="10.7" height="5.95" fill="#f5b0b8"/>
<rect x="640.3" y="905.6" width="10.7" height="5.95" fill="#fad6da"/>
<rect x="640.3" y="911.5" width="10.7" height="5.95" fill="#ffffff"/>
<rect x="640.3" y="917.3" width="10.7" height="5.95" fill="#e8e6f6"/>
<rect x="640.3" y="923.2" width="10.7" height="5.95" fill="#b9b6e8"/>
<rect x="640.3" y="929.1" width="10.7" height="5.95" fill="#8682d6"/>
<rect x="640.3" y="935" width="10.7" height="5.95" fill="#6c69ca"/>
<rect x="640.3" y="940.9" width="10.7" height="5.95" fill="#5250bd"/>
<rect x="640.3" y="946.8" width="10.7" height="5.95" fill="#3a38aa"/>
<text x="652.9" y="885.5" font-size="7.2" fill="#222" stroke="#222" stroke-width="0.12">3</text>
<text x="652.9" y="918.9" font-size="7.2" fill="#222" stroke="#222" stroke-width="0.12">0</text>
<text x="653.2" y="955.3" font-size="7.2" fill="#222" stroke="#222" stroke-width="0.12">−3</text>
<text x="636.6" y="914.8" font-size="9.4" text-anchor="middle" fill="#111" stroke="#111" stroke-width="0.12" transform="rotate(-90 636.6 914.8)">log2(FC)</text>
</svg></body></html>
